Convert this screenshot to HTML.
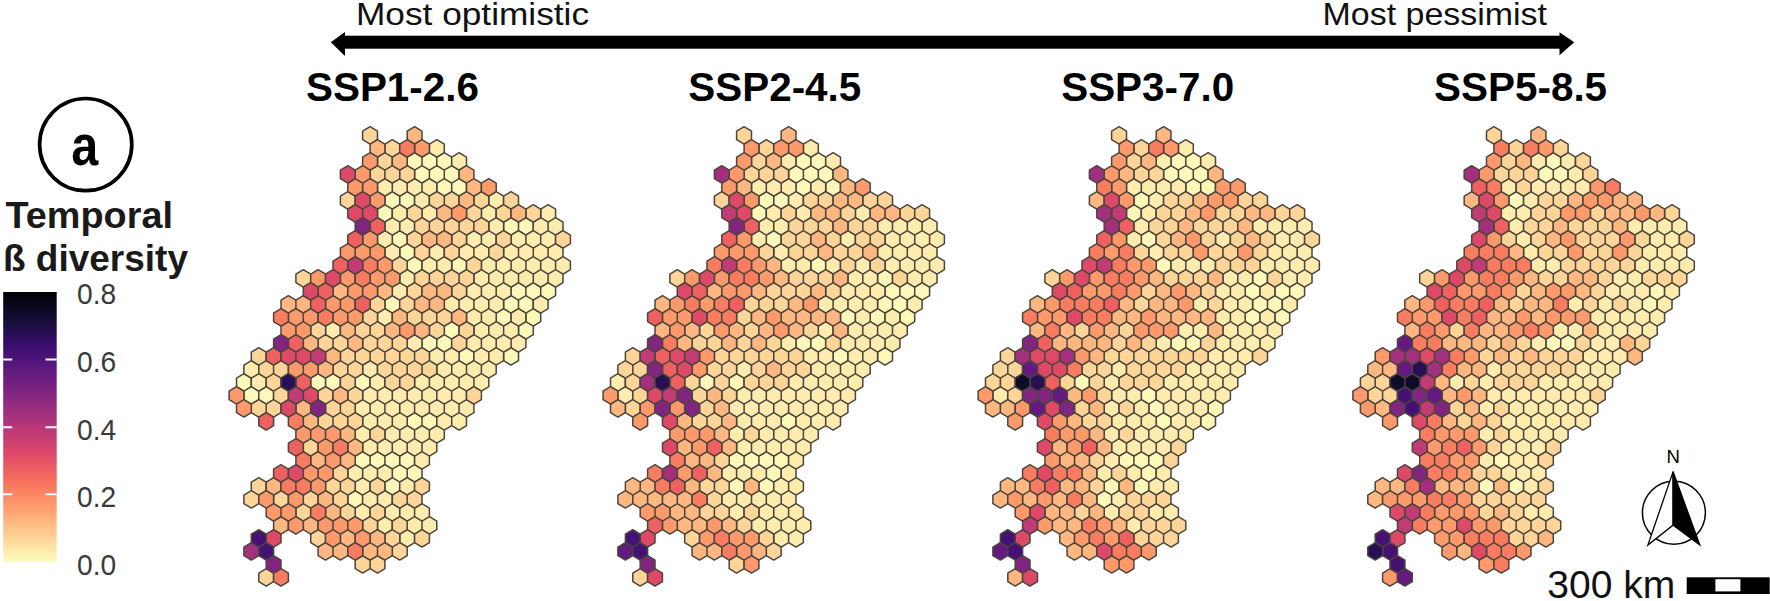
<!DOCTYPE html>
<html><head><meta charset="utf-8"><title>Temporal beta diversity</title>
<style>
html,body{margin:0;padding:0;background:#fff;}
svg{display:block;}
text{font-family:"Liberation Sans",sans-serif;}
</style></head>
<body>
<svg width="1770" height="601" viewBox="0 0 1770 601">
<defs><linearGradient id="mg" x1="0" y1="0" x2="0" y2="1"><stop offset="0%" stop-color="#000004"/><stop offset="5%" stop-color="#0A071D"/><stop offset="10%" stop-color="#140E36"/><stop offset="15%" stop-color="#280E53"/><stop offset="20%" stop-color="#3B0F70"/><stop offset="25%" stop-color="#501478"/><stop offset="30%" stop-color="#641A80"/><stop offset="35%" stop-color="#782280"/><stop offset="40%" stop-color="#8C2981"/><stop offset="45%" stop-color="#A2307D"/><stop offset="50%" stop-color="#B73779"/><stop offset="55%" stop-color="#CA4070"/><stop offset="60%" stop-color="#DE4968"/><stop offset="65%" stop-color="#EA5C62"/><stop offset="70%" stop-color="#F7705C"/><stop offset="75%" stop-color="#FA8864"/><stop offset="80%" stop-color="#FE9F6D"/><stop offset="85%" stop-color="#FEB780"/><stop offset="90%" stop-color="#FECF92"/><stop offset="95%" stop-color="#FDE6A8"/><stop offset="100%" stop-color="#FCFDBF"/></linearGradient></defs>
<rect width="1770" height="601" fill="#fff"/>
<!-- top arrow -->
<rect x="343" y="35.7" width="1218" height="13" fill="#000"/>
<polygon points="330.8,42.2 345,32 345,56" fill="#000"/>
<polygon points="1574.2,42.2 1559.5,32.2 1559.5,55.3" fill="#000"/>
<text x="356" y="25.4" font-size="32" fill="#111" textLength="233" lengthAdjust="spacingAndGlyphs">Most optimistic</text>
<text x="1322.5" y="25.4" font-size="32" fill="#111" textLength="224.5" lengthAdjust="spacingAndGlyphs">Most pessimist</text>
<g font-weight="bold" font-size="41" fill="#000">
<text x="306" y="100.8" textLength="173" lengthAdjust="spacingAndGlyphs">SSP1-2.6</text>
<text x="688.3" y="100.8" textLength="173" lengthAdjust="spacingAndGlyphs">SSP2-4.5</text>
<text x="1061.2" y="100.8" textLength="173" lengthAdjust="spacingAndGlyphs">SSP3-7.0</text>
<text x="1434.1" y="100.8" textLength="173" lengthAdjust="spacingAndGlyphs">SSP5-8.5</text>
</g>
<!-- panel letter -->
<circle cx="85.7" cy="144.6" r="46.1" fill="#fff" stroke="#000" stroke-width="3.7"/>
<text x="71.3" y="165" font-size="57" font-weight="bold" fill="#000" textLength="27" lengthAdjust="spacingAndGlyphs">a</text>
<!-- legend -->
<g font-weight="bold" font-size="36" fill="#1a1a1a">
<text x="5.5" y="228.4" textLength="167.5" lengthAdjust="spacingAndGlyphs">Temporal</text>
<text x="3" y="271.2" textLength="185" lengthAdjust="spacingAndGlyphs">ß diversity</text>
</g>
<rect x="3.2" y="292" width="53.5" height="270" fill="url(#mg)"/>
<g stroke="#fff" stroke-width="2">
<path d="M3.2 359.4h9M45.5 359.4h11.2M3.2 427.3h9M45.5 427.3h11.2M3.2 494.3h9M45.5 494.3h11.2"/>
</g>
<g font-size="30" fill="#3a3a3a">
<text x="77" y="303.9" textLength="39.2" lengthAdjust="spacingAndGlyphs">0.8</text>
<text x="77" y="372.3" textLength="39.2" lengthAdjust="spacingAndGlyphs">0.6</text>
<text x="77" y="440.3" textLength="39.2" lengthAdjust="spacingAndGlyphs">0.4</text>
<text x="77" y="507.3" textLength="39.2" lengthAdjust="spacingAndGlyphs">0.2</text>
<text x="77" y="575.3" textLength="39.2" lengthAdjust="spacingAndGlyphs">0.0</text>
</g>
<!-- maps -->
<g stroke="#4a453d" stroke-width="1.5" stroke-linejoin="round"><path fill="#FCF8BA" d="M414.6 152.7L422.0 157.1L422.0 165.7L414.6 170.1L407.2 165.7L407.2 157.1ZM429.4 152.7L436.8 157.1L436.8 165.7L429.4 170.1L422.0 165.7L422.0 157.1ZM444.3 152.7L451.7 157.1L451.7 165.7L444.3 170.1L436.8 165.7L436.8 157.1ZM422.0 165.7L429.4 170.1L429.4 178.7L422.0 183.1L414.6 178.7L414.6 170.1ZM436.9 165.7L444.3 170.1L444.3 178.7L436.9 183.1L429.4 178.7L429.4 170.1ZM451.7 165.7L459.1 170.1L459.1 178.7L451.7 183.1L444.3 178.7L444.3 170.1ZM444.3 178.7L451.7 183.1L451.7 191.7L444.3 196.1L436.8 191.7L436.8 183.1ZM459.1 178.7L466.5 183.1L466.5 191.7L459.1 196.1L451.7 191.7L451.7 183.1ZM392.3 191.7L399.8 196.1L399.8 204.7L392.3 209.1L384.9 204.7L384.9 196.1ZM407.2 191.7L414.6 196.1L414.6 204.7L407.2 209.1L399.7 204.7L399.7 196.1ZM384.9 204.7L392.3 209.1L392.3 217.7L384.9 222.1L377.5 217.7L377.5 209.1ZM511.0 217.7L518.5 222.1L518.5 230.7L511.0 235.1L503.6 230.7L503.6 222.1ZM525.9 217.7L533.3 222.1L533.3 230.7L525.9 235.1L518.5 230.7L518.5 222.1ZM399.8 230.7L407.2 235.1L407.2 243.7L399.8 248.1L392.3 243.7L392.3 235.1ZM407.2 243.7L414.6 248.1L414.6 256.7L407.2 261.1L399.7 256.7L399.7 248.1ZM414.6 256.7L422.0 261.1L422.0 269.7L414.6 274.1L407.2 269.7L407.2 261.1ZM459.1 256.7L466.5 261.1L466.5 269.7L459.1 274.1L451.7 269.7L451.7 261.1ZM518.5 282.7L525.9 287.1L525.9 295.7L518.5 300.1L511.1 295.7L511.1 287.1ZM533.3 282.7L540.7 287.1L540.7 295.7L533.3 300.1L525.9 295.7L525.9 287.1ZM548.1 282.7L555.6 287.1L555.6 295.7L548.1 300.1L540.7 295.7L540.7 287.1ZM392.3 295.7L399.8 300.1L399.8 308.7L392.3 313.1L384.9 308.7L384.9 300.1ZM511.0 295.7L518.5 300.1L518.5 308.7L511.0 313.1L503.6 308.7L503.6 300.1ZM525.9 295.7L533.3 300.1L533.3 308.7L525.9 313.1L518.5 308.7L518.5 300.1ZM503.6 308.7L511.1 313.1L511.1 321.7L503.6 326.1L496.2 321.7L496.2 313.1ZM533.3 308.7L540.7 313.1L540.7 321.7L533.3 326.1L525.9 321.7L525.9 313.1ZM451.7 321.7L459.1 326.1L459.1 334.7L451.7 339.1L444.3 334.7L444.3 326.1ZM525.9 321.7L533.3 326.1L533.3 334.7L525.9 339.1L518.5 334.7L518.5 326.1ZM429.4 334.7L436.8 339.1L436.8 347.7L429.4 352.1L422.0 347.7L422.0 339.1ZM444.3 334.7L451.7 339.1L451.7 347.7L444.3 352.1L436.8 347.7L436.8 339.1ZM466.5 347.7L473.9 352.1L473.9 360.7L466.5 365.1L459.1 360.7L459.1 352.1ZM511.0 347.7L518.5 352.1L518.5 360.7L511.0 365.1L503.6 360.7L503.6 352.1ZM243.9 373.7L251.3 378.1L251.3 386.7L243.9 391.1L236.5 386.7L236.5 378.1ZM318.1 373.7L325.6 378.1L325.6 386.7L318.1 391.1L310.7 386.7L310.7 378.1ZM333.0 373.7L340.4 378.1L340.4 386.7L333.0 391.1L325.5 386.7L325.5 378.1ZM362.6 373.7L370.1 378.1L370.1 386.7L362.6 391.1L355.2 386.7L355.2 378.1ZM251.3 386.7L258.8 391.1L258.8 399.7L251.3 404.1L243.9 399.7L243.9 391.1ZM266.2 386.7L273.6 391.1L273.6 399.7L266.2 404.1L258.8 399.7L258.8 391.1ZM414.6 412.7L422.0 417.1L422.0 425.7L414.6 430.1L407.2 425.7L407.2 417.1ZM429.4 412.7L436.8 417.1L436.8 425.7L429.4 430.1L422.0 425.7L422.0 417.1ZM362.6 451.7L370.1 456.1L370.1 464.7L362.6 469.1L355.2 464.7L355.2 456.1ZM377.5 451.7L384.9 456.1L384.9 464.7L377.5 469.1L370.1 464.7L370.1 456.1ZM392.3 451.7L399.8 456.1L399.8 464.7L392.3 469.1L384.9 464.7L384.9 456.1ZM407.2 451.7L414.6 456.1L414.6 464.7L407.2 469.1L399.7 464.7L399.7 456.1ZM399.8 464.7L407.2 469.1L407.2 477.7L399.8 482.1L392.3 477.7L392.3 469.1ZM414.6 464.7L422.0 469.1L422.0 477.7L414.6 482.1L407.2 477.7L407.2 469.1ZM392.3 477.7L399.8 482.1L399.8 490.7L392.3 495.1L384.9 490.7L384.9 482.1ZM355.2 490.7L362.7 495.1L362.7 503.7L355.2 508.1L347.8 503.7L347.8 495.1Z"/>
<path fill="#FDECAE" d="M436.9 139.7L444.3 144.1L444.3 152.7L436.9 157.1L429.4 152.7L429.4 144.1ZM459.1 152.7L466.5 157.1L466.5 165.7L459.1 170.1L451.7 165.7L451.7 157.1ZM384.9 178.7L392.3 183.1L392.3 191.7L384.9 196.1L377.5 191.7L377.5 183.1ZM399.8 178.7L407.2 183.1L407.2 191.7L399.8 196.1L392.3 191.7L392.3 183.1ZM414.6 178.7L422.0 183.1L422.0 191.7L414.6 196.1L407.2 191.7L407.2 183.1ZM429.4 178.7L436.8 183.1L436.8 191.7L429.4 196.1L422.0 191.7L422.0 183.1ZM422.0 191.7L429.4 196.1L429.4 204.7L422.0 209.1L414.6 204.7L414.6 196.1ZM496.2 191.7L503.6 196.1L503.6 204.7L496.2 209.1L488.8 204.7L488.8 196.1ZM399.8 204.7L407.2 209.1L407.2 217.7L399.8 222.1L392.3 217.7L392.3 209.1ZM429.4 204.7L436.8 209.1L436.8 217.7L429.4 222.1L422.0 217.7L422.0 209.1ZM488.8 204.7L496.2 209.1L496.2 217.7L488.8 222.1L481.4 217.7L481.4 209.1ZM548.1 204.7L555.6 209.1L555.6 217.7L548.1 222.1L540.7 217.7L540.7 209.1ZM392.3 217.7L399.8 222.1L399.8 230.7L392.3 235.1L384.9 230.7L384.9 222.1ZM407.2 217.7L414.6 222.1L414.6 230.7L407.2 235.1L399.7 230.7L399.7 222.1ZM496.2 217.7L503.6 222.1L503.6 230.7L496.2 235.1L488.8 230.7L488.8 222.1ZM540.7 217.7L548.1 222.1L548.1 230.7L540.7 235.1L533.3 230.7L533.3 222.1ZM555.6 217.7L563.0 222.1L563.0 230.7L555.6 235.1L548.1 230.7L548.1 222.1ZM384.9 230.7L392.3 235.1L392.3 243.7L384.9 248.1L377.5 243.7L377.5 235.1ZM473.9 230.7L481.4 235.1L481.4 243.7L473.9 248.1L466.5 243.7L466.5 235.1ZM488.8 230.7L496.2 235.1L496.2 243.7L488.8 248.1L481.4 243.7L481.4 235.1ZM518.5 230.7L525.9 235.1L525.9 243.7L518.5 248.1L511.1 243.7L511.1 235.1ZM533.3 230.7L540.7 235.1L540.7 243.7L533.3 248.1L525.9 243.7L525.9 235.1ZM548.1 230.7L555.6 235.1L555.6 243.7L548.1 248.1L540.7 243.7L540.7 235.1ZM392.3 243.7L399.8 248.1L399.8 256.7L392.3 261.1L384.9 256.7L384.9 248.1ZM436.9 243.7L444.3 248.1L444.3 256.7L436.9 261.1L429.4 256.7L429.4 248.1ZM466.5 243.7L473.9 248.1L473.9 256.7L466.5 261.1L459.1 256.7L459.1 248.1ZM481.4 243.7L488.8 248.1L488.8 256.7L481.4 261.1L473.9 256.7L473.9 248.1ZM511.0 243.7L518.5 248.1L518.5 256.7L511.0 261.1L503.6 256.7L503.6 248.1ZM525.9 243.7L533.3 248.1L533.3 256.7L525.9 261.1L518.5 256.7L518.5 248.1ZM540.7 243.7L548.1 248.1L548.1 256.7L540.7 261.1L533.3 256.7L533.3 248.1ZM555.6 243.7L563.0 248.1L563.0 256.7L555.6 261.1L548.1 256.7L548.1 248.1ZM429.4 256.7L436.8 261.1L436.8 269.7L429.4 274.1L422.0 269.7L422.0 261.1ZM444.3 256.7L451.7 261.1L451.7 269.7L444.3 274.1L436.8 269.7L436.8 261.1ZM488.8 256.7L496.2 261.1L496.2 269.7L488.8 274.1L481.4 269.7L481.4 261.1ZM503.6 256.7L511.1 261.1L511.1 269.7L503.6 274.1L496.2 269.7L496.2 261.1ZM518.5 256.7L525.9 261.1L525.9 269.7L518.5 274.1L511.1 269.7L511.1 261.1ZM533.3 256.7L540.7 261.1L540.7 269.7L533.3 274.1L525.9 269.7L525.9 261.1ZM548.1 256.7L555.6 261.1L555.6 269.7L548.1 274.1L540.7 269.7L540.7 261.1ZM563.0 256.7L570.4 261.1L570.4 269.7L563.0 274.1L555.6 269.7L555.6 261.1ZM407.2 269.7L414.6 274.1L414.6 282.7L407.2 287.1L399.7 282.7L399.7 274.1ZM481.4 269.7L488.8 274.1L488.8 282.7L481.4 287.1L473.9 282.7L473.9 274.1ZM496.2 269.7L503.6 274.1L503.6 282.7L496.2 287.1L488.8 282.7L488.8 274.1ZM511.0 269.7L518.5 274.1L518.5 282.7L511.0 287.1L503.6 282.7L503.6 274.1ZM525.9 269.7L533.3 274.1L533.3 282.7L525.9 287.1L518.5 282.7L518.5 274.1ZM540.7 269.7L548.1 274.1L548.1 282.7L540.7 287.1L533.3 282.7L533.3 274.1ZM555.6 269.7L563.0 274.1L563.0 282.7L555.6 287.1L548.1 282.7L548.1 274.1ZM399.8 282.7L407.2 287.1L407.2 295.7L399.8 300.1L392.3 295.7L392.3 287.1ZM473.9 282.7L481.4 287.1L481.4 295.7L473.9 300.1L466.5 295.7L466.5 287.1ZM488.8 282.7L496.2 287.1L496.2 295.7L488.8 300.1L481.4 295.7L481.4 287.1ZM503.6 282.7L511.1 287.1L511.1 295.7L503.6 300.1L496.2 295.7L496.2 287.1ZM451.7 295.7L459.1 300.1L459.1 308.7L451.7 313.1L444.3 308.7L444.3 300.1ZM466.5 295.7L473.9 300.1L473.9 308.7L466.5 313.1L459.1 308.7L459.1 300.1ZM481.4 295.7L488.8 300.1L488.8 308.7L481.4 313.1L473.9 308.7L473.9 300.1ZM496.2 295.7L503.6 300.1L503.6 308.7L496.2 313.1L488.8 308.7L488.8 300.1ZM540.7 295.7L548.1 300.1L548.1 308.7L540.7 313.1L533.3 308.7L533.3 300.1ZM384.9 308.7L392.3 313.1L392.3 321.7L384.9 326.1L377.5 321.7L377.5 313.1ZM473.9 308.7L481.4 313.1L481.4 321.7L473.9 326.1L466.5 321.7L466.5 313.1ZM488.8 308.7L496.2 313.1L496.2 321.7L488.8 326.1L481.4 321.7L481.4 313.1ZM518.5 308.7L525.9 313.1L525.9 321.7L518.5 326.1L511.1 321.7L511.1 313.1ZM333.0 321.7L340.4 326.1L340.4 334.7L333.0 339.1L325.5 334.7L325.5 326.1ZM481.4 321.7L488.8 326.1L488.8 334.7L481.4 339.1L473.9 334.7L473.9 326.1ZM496.2 321.7L503.6 326.1L503.6 334.7L496.2 339.1L488.8 334.7L488.8 326.1ZM511.0 321.7L518.5 326.1L518.5 334.7L511.0 339.1L503.6 334.7L503.6 326.1ZM414.6 334.7L422.0 339.1L422.0 347.7L414.6 352.1L407.2 347.7L407.2 339.1ZM473.9 334.7L481.4 339.1L481.4 347.7L473.9 352.1L466.5 347.7L466.5 339.1ZM488.8 334.7L496.2 339.1L496.2 347.7L488.8 352.1L481.4 347.7L481.4 339.1ZM503.6 334.7L511.1 339.1L511.1 347.7L503.6 352.1L496.2 347.7L496.2 339.1ZM518.5 334.7L525.9 339.1L525.9 347.7L518.5 352.1L511.1 347.7L511.1 339.1ZM436.9 347.7L444.3 352.1L444.3 360.7L436.9 365.1L429.4 360.7L429.4 352.1ZM451.7 347.7L459.1 352.1L459.1 360.7L451.7 365.1L444.3 360.7L444.3 352.1ZM481.4 347.7L488.8 352.1L488.8 360.7L481.4 365.1L473.9 360.7L473.9 352.1ZM496.2 347.7L503.6 352.1L503.6 360.7L496.2 365.1L488.8 360.7L488.8 352.1ZM251.3 360.7L258.8 365.1L258.8 373.7L251.3 378.1L243.9 373.7L243.9 365.1ZM370.1 360.7L377.5 365.1L377.5 373.7L370.1 378.1L362.6 373.7L362.6 365.1ZM444.3 360.7L451.7 365.1L451.7 373.7L444.3 378.1L436.8 373.7L436.8 365.1ZM459.1 360.7L466.5 365.1L466.5 373.7L459.1 378.1L451.7 373.7L451.7 365.1ZM473.9 360.7L481.4 365.1L481.4 373.7L473.9 378.1L466.5 373.7L466.5 365.1ZM488.8 360.7L496.2 365.1L496.2 373.7L488.8 378.1L481.4 373.7L481.4 365.1ZM258.8 373.7L266.2 378.1L266.2 386.7L258.8 391.1L251.3 386.7L251.3 378.1ZM377.5 373.7L384.9 378.1L384.9 386.7L377.5 391.1L370.1 386.7L370.1 378.1ZM422.0 373.7L429.4 378.1L429.4 386.7L422.0 391.1L414.6 386.7L414.6 378.1ZM436.9 373.7L444.3 378.1L444.3 386.7L436.9 391.1L429.4 386.7L429.4 378.1ZM451.7 373.7L459.1 378.1L459.1 386.7L451.7 391.1L444.3 386.7L444.3 378.1ZM466.5 373.7L473.9 378.1L473.9 386.7L466.5 391.1L459.1 386.7L459.1 378.1ZM481.4 373.7L488.8 378.1L488.8 386.7L481.4 391.1L473.9 386.7L473.9 378.1ZM370.1 386.7L377.5 391.1L377.5 399.7L370.1 404.1L362.6 399.7L362.6 391.1ZM384.9 386.7L392.3 391.1L392.3 399.7L384.9 404.1L377.5 399.7L377.5 391.1ZM399.8 386.7L407.2 391.1L407.2 399.7L399.8 404.1L392.3 399.7L392.3 391.1ZM414.6 386.7L422.0 391.1L422.0 399.7L414.6 404.1L407.2 399.7L407.2 391.1ZM429.4 386.7L436.8 391.1L436.8 399.7L429.4 404.1L422.0 399.7L422.0 391.1ZM444.3 386.7L451.7 391.1L451.7 399.7L444.3 404.1L436.8 399.7L436.8 391.1ZM459.1 386.7L466.5 391.1L466.5 399.7L459.1 404.1L451.7 399.7L451.7 391.1ZM362.6 399.7L370.1 404.1L370.1 412.7L362.6 417.1L355.2 412.7L355.2 404.1ZM377.5 399.7L384.9 404.1L384.9 412.7L377.5 417.1L370.1 412.7L370.1 404.1ZM392.3 399.7L399.8 404.1L399.8 412.7L392.3 417.1L384.9 412.7L384.9 404.1ZM407.2 399.7L414.6 404.1L414.6 412.7L407.2 417.1L399.7 412.7L399.7 404.1ZM422.0 399.7L429.4 404.1L429.4 412.7L422.0 417.1L414.6 412.7L414.6 404.1ZM436.9 399.7L444.3 404.1L444.3 412.7L436.9 417.1L429.4 412.7L429.4 404.1ZM451.7 399.7L459.1 404.1L459.1 412.7L451.7 417.1L444.3 412.7L444.3 404.1ZM466.5 399.7L473.9 404.1L473.9 412.7L466.5 417.1L459.1 412.7L459.1 404.1ZM370.1 412.7L377.5 417.1L377.5 425.7L370.1 430.1L362.6 425.7L362.6 417.1ZM384.9 412.7L392.3 417.1L392.3 425.7L384.9 430.1L377.5 425.7L377.5 417.1ZM399.8 412.7L407.2 417.1L407.2 425.7L399.8 430.1L392.3 425.7L392.3 417.1ZM444.3 412.7L451.7 417.1L451.7 425.7L444.3 430.1L436.8 425.7L436.8 417.1ZM459.1 412.7L466.5 417.1L466.5 425.7L459.1 430.1L451.7 425.7L451.7 417.1ZM362.6 425.7L370.1 430.1L370.1 438.7L362.6 443.1L355.2 438.7L355.2 430.1ZM392.3 425.7L399.8 430.1L399.8 438.7L392.3 443.1L384.9 438.7L384.9 430.1ZM407.2 425.7L414.6 430.1L414.6 438.7L407.2 443.1L399.7 438.7L399.7 430.1ZM422.0 425.7L429.4 430.1L429.4 438.7L422.0 443.1L414.6 438.7L414.6 430.1ZM436.9 425.7L444.3 430.1L444.3 438.7L436.9 443.1L429.4 438.7L429.4 430.1ZM370.1 438.7L377.5 443.1L377.5 451.7L370.1 456.1L362.6 451.7L362.6 443.1ZM384.9 438.7L392.3 443.1L392.3 451.7L384.9 456.1L377.5 451.7L377.5 443.1ZM399.8 438.7L407.2 443.1L407.2 451.7L399.8 456.1L392.3 451.7L392.3 443.1ZM414.6 438.7L422.0 443.1L422.0 451.7L414.6 456.1L407.2 451.7L407.2 443.1ZM429.4 438.7L436.8 443.1L436.8 451.7L429.4 456.1L422.0 451.7L422.0 443.1ZM422.0 451.7L429.4 456.1L429.4 464.7L422.0 469.1L414.6 464.7L414.6 456.1ZM355.2 464.7L362.7 469.1L362.7 477.7L355.2 482.1L347.8 477.7L347.8 469.1ZM370.1 464.7L377.5 469.1L377.5 477.7L370.1 482.1L362.6 477.7L362.6 469.1ZM384.9 464.7L392.3 469.1L392.3 477.7L384.9 482.1L377.5 477.7L377.5 469.1ZM362.6 477.7L370.1 482.1L370.1 490.7L362.6 495.1L355.2 490.7L355.2 482.1ZM407.2 477.7L414.6 482.1L414.6 490.7L407.2 495.1L399.7 490.7L399.7 482.1ZM370.1 490.7L377.5 495.1L377.5 503.7L370.1 508.1L362.6 503.7L362.6 495.1ZM384.9 490.7L392.3 495.1L392.3 503.7L384.9 508.1L377.5 503.7L377.5 495.1ZM362.6 503.7L370.1 508.1L370.1 516.7L362.6 521.1L355.2 516.7L355.2 508.1ZM392.3 503.7L399.8 508.1L399.8 516.7L392.3 521.1L384.9 516.7L384.9 508.1ZM407.2 503.7L414.6 508.1L414.6 516.7L407.2 521.1L399.7 516.7L399.7 508.1ZM422.0 503.7L429.4 508.1L429.4 516.7L422.0 521.1L414.6 516.7L414.6 508.1ZM384.9 516.7L392.3 521.1L392.3 529.7L384.9 534.1L377.5 529.7L377.5 521.1ZM414.6 516.7L422.0 521.1L422.0 529.7L414.6 534.1L407.2 529.7L407.2 521.1ZM429.4 516.7L436.8 521.1L436.8 529.7L429.4 534.1L422.0 529.7L422.0 521.1ZM407.2 529.7L414.6 534.1L414.6 542.7L407.2 547.1L399.7 542.7L399.7 534.1Z"/>
<path fill="#FED598" d="M370.1 126.7L377.5 131.1L377.5 139.7L370.1 144.1L362.6 139.7L362.6 131.1ZM392.3 139.7L399.8 144.1L399.8 152.7L392.3 157.1L384.9 152.7L384.9 144.1ZM384.9 152.7L392.3 157.1L392.3 165.7L384.9 170.1L377.5 165.7L377.5 157.1ZM377.5 165.7L384.9 170.1L384.9 178.7L377.5 183.1L370.1 178.7L370.1 170.1ZM392.3 165.7L399.8 170.1L399.8 178.7L392.3 183.1L384.9 178.7L384.9 170.1ZM407.2 165.7L414.6 170.1L414.6 178.7L407.2 183.1L399.7 178.7L399.7 170.1ZM347.8 191.7L355.2 196.1L355.2 204.7L347.8 209.1L340.4 204.7L340.4 196.1ZM436.9 191.7L444.3 196.1L444.3 204.7L436.9 209.1L429.4 204.7L429.4 196.1ZM451.7 191.7L459.1 196.1L459.1 204.7L451.7 209.1L444.3 204.7L444.3 196.1ZM481.4 191.7L488.8 196.1L488.8 204.7L481.4 209.1L473.9 204.7L473.9 196.1ZM511.0 191.7L518.5 196.1L518.5 204.7L511.0 209.1L503.6 204.7L503.6 196.1ZM414.6 204.7L422.0 209.1L422.0 217.7L414.6 222.1L407.2 217.7L407.2 209.1ZM473.9 204.7L481.4 209.1L481.4 217.7L473.9 222.1L466.5 217.7L466.5 209.1ZM503.6 204.7L511.1 209.1L511.1 217.7L503.6 222.1L496.2 217.7L496.2 209.1ZM533.3 204.7L540.7 209.1L540.7 217.7L533.3 222.1L525.9 217.7L525.9 209.1ZM422.0 217.7L429.4 222.1L429.4 230.7L422.0 235.1L414.6 230.7L414.6 222.1ZM436.9 217.7L444.3 222.1L444.3 230.7L436.9 235.1L429.4 230.7L429.4 222.1ZM451.7 217.7L459.1 222.1L459.1 230.7L451.7 235.1L444.3 230.7L444.3 222.1ZM466.5 217.7L473.9 222.1L473.9 230.7L466.5 235.1L459.1 230.7L459.1 222.1ZM481.4 217.7L488.8 222.1L488.8 230.7L481.4 235.1L473.9 230.7L473.9 222.1ZM414.6 230.7L422.0 235.1L422.0 243.7L414.6 248.1L407.2 243.7L407.2 235.1ZM459.1 230.7L466.5 235.1L466.5 243.7L459.1 248.1L451.7 243.7L451.7 235.1ZM503.6 230.7L511.1 235.1L511.1 243.7L503.6 248.1L496.2 243.7L496.2 235.1ZM563.0 230.7L570.4 235.1L570.4 243.7L563.0 248.1L555.6 243.7L555.6 235.1ZM422.0 243.7L429.4 248.1L429.4 256.7L422.0 261.1L414.6 256.7L414.6 248.1ZM451.7 243.7L459.1 248.1L459.1 256.7L451.7 261.1L444.3 256.7L444.3 248.1ZM496.2 243.7L503.6 248.1L503.6 256.7L496.2 261.1L488.8 256.7L488.8 248.1ZM399.8 256.7L407.2 261.1L407.2 269.7L399.8 274.1L392.3 269.7L392.3 261.1ZM473.9 256.7L481.4 261.1L481.4 269.7L473.9 274.1L466.5 269.7L466.5 261.1ZM303.3 269.7L310.7 274.1L310.7 282.7L303.3 287.1L295.9 282.7L295.9 274.1ZM422.0 269.7L429.4 274.1L429.4 282.7L422.0 287.1L414.6 282.7L414.6 274.1ZM436.9 269.7L444.3 274.1L444.3 282.7L436.9 287.1L429.4 282.7L429.4 274.1ZM451.7 269.7L459.1 274.1L459.1 282.7L451.7 287.1L444.3 282.7L444.3 274.1ZM466.5 269.7L473.9 274.1L473.9 282.7L466.5 287.1L459.1 282.7L459.1 274.1ZM414.6 282.7L422.0 287.1L422.0 295.7L414.6 300.1L407.2 295.7L407.2 287.1ZM459.1 282.7L466.5 287.1L466.5 295.7L459.1 300.1L451.7 295.7L451.7 287.1ZM377.5 295.7L384.9 300.1L384.9 308.7L377.5 313.1L370.1 308.7L370.1 300.1ZM407.2 295.7L414.6 300.1L414.6 308.7L407.2 313.1L399.7 308.7L399.7 300.1ZM370.1 308.7L377.5 313.1L377.5 321.7L370.1 326.1L362.6 321.7L362.6 313.1ZM414.6 308.7L422.0 313.1L422.0 321.7L414.6 326.1L407.2 321.7L407.2 313.1ZM429.4 308.7L436.8 313.1L436.8 321.7L429.4 326.1L422.0 321.7L422.0 313.1ZM444.3 308.7L451.7 313.1L451.7 321.7L444.3 326.1L436.8 321.7L436.8 313.1ZM318.1 321.7L325.6 326.1L325.6 334.7L318.1 339.1L310.7 334.7L310.7 326.1ZM362.6 321.7L370.1 326.1L370.1 334.7L362.6 339.1L355.2 334.7L355.2 326.1ZM377.5 321.7L384.9 326.1L384.9 334.7L377.5 339.1L370.1 334.7L370.1 326.1ZM436.9 321.7L444.3 326.1L444.3 334.7L436.9 339.1L429.4 334.7L429.4 326.1ZM466.5 321.7L473.9 326.1L473.9 334.7L466.5 339.1L459.1 334.7L459.1 326.1ZM325.5 334.7L333.0 339.1L333.0 347.7L325.5 352.1L318.1 347.7L318.1 339.1ZM340.4 334.7L347.8 339.1L347.8 347.7L340.4 352.1L333.0 347.7L333.0 339.1ZM370.1 334.7L377.5 339.1L377.5 347.7L370.1 352.1L362.6 347.7L362.6 339.1ZM384.9 334.7L392.3 339.1L392.3 347.7L384.9 352.1L377.5 347.7L377.5 339.1ZM399.8 334.7L407.2 339.1L407.2 347.7L399.8 352.1L392.3 347.7L392.3 339.1ZM459.1 334.7L466.5 339.1L466.5 347.7L459.1 352.1L451.7 347.7L451.7 339.1ZM258.8 347.7L266.2 352.1L266.2 360.7L258.8 365.1L251.3 360.7L251.3 352.1ZM347.8 347.7L355.2 352.1L355.2 360.7L347.8 365.1L340.4 360.7L340.4 352.1ZM362.6 347.7L370.1 352.1L370.1 360.7L362.6 365.1L355.2 360.7L355.2 352.1ZM377.5 347.7L384.9 352.1L384.9 360.7L377.5 365.1L370.1 360.7L370.1 352.1ZM392.3 347.7L399.8 352.1L399.8 360.7L392.3 365.1L384.9 360.7L384.9 352.1ZM407.2 347.7L414.6 352.1L414.6 360.7L407.2 365.1L399.7 360.7L399.7 352.1ZM422.0 347.7L429.4 352.1L429.4 360.7L422.0 365.1L414.6 360.7L414.6 352.1ZM266.2 360.7L273.6 365.1L273.6 373.7L266.2 378.1L258.8 373.7L258.8 365.1ZM281.0 360.7L288.4 365.1L288.4 373.7L281.0 378.1L273.6 373.7L273.6 365.1ZM340.4 360.7L347.8 365.1L347.8 373.7L340.4 378.1L333.0 373.7L333.0 365.1ZM355.2 360.7L362.7 365.1L362.7 373.7L355.2 378.1L347.8 373.7L347.8 365.1ZM384.9 360.7L392.3 365.1L392.3 373.7L384.9 378.1L377.5 373.7L377.5 365.1ZM399.8 360.7L407.2 365.1L407.2 373.7L399.8 378.1L392.3 373.7L392.3 365.1ZM414.6 360.7L422.0 365.1L422.0 373.7L414.6 378.1L407.2 373.7L407.2 365.1ZM429.4 360.7L436.8 365.1L436.8 373.7L429.4 378.1L422.0 373.7L422.0 365.1ZM273.6 373.7L281.0 378.1L281.0 386.7L273.6 391.1L266.2 386.7L266.2 378.1ZM347.8 373.7L355.2 378.1L355.2 386.7L347.8 391.1L340.4 386.7L340.4 378.1ZM392.3 373.7L399.8 378.1L399.8 386.7L392.3 391.1L384.9 386.7L384.9 378.1ZM407.2 373.7L414.6 378.1L414.6 386.7L407.2 391.1L399.7 386.7L399.7 378.1ZM281.0 386.7L288.4 391.1L288.4 399.7L281.0 404.1L273.6 399.7L273.6 391.1ZM325.5 386.7L333.0 391.1L333.0 399.7L325.5 404.1L318.1 399.7L318.1 391.1ZM355.2 386.7L362.7 391.1L362.7 399.7L355.2 404.1L347.8 399.7L347.8 391.1ZM473.9 386.7L481.4 391.1L481.4 399.7L473.9 404.1L466.5 399.7L466.5 391.1ZM258.8 399.7L266.2 404.1L266.2 412.7L258.8 417.1L251.3 412.7L251.3 404.1ZM273.6 399.7L281.0 404.1L281.0 412.7L273.6 417.1L266.2 412.7L266.2 404.1ZM333.0 399.7L340.4 404.1L340.4 412.7L333.0 417.1L325.5 412.7L325.5 404.1ZM347.8 399.7L355.2 404.1L355.2 412.7L347.8 417.1L340.4 412.7L340.4 404.1ZM325.5 412.7L333.0 417.1L333.0 425.7L325.5 430.1L318.1 425.7L318.1 417.1ZM340.4 412.7L347.8 417.1L347.8 425.7L340.4 430.1L333.0 425.7L333.0 417.1ZM355.2 412.7L362.7 417.1L362.7 425.7L355.2 430.1L347.8 425.7L347.8 417.1ZM377.5 425.7L384.9 430.1L384.9 438.7L377.5 443.1L370.1 438.7L370.1 430.1ZM310.7 438.7L318.1 443.1L318.1 451.7L310.7 456.1L303.3 451.7L303.3 443.1ZM340.4 464.7L347.8 469.1L347.8 477.7L340.4 482.1L333.0 477.7L333.0 469.1ZM258.8 477.7L266.2 482.1L266.2 490.7L258.8 495.1L251.3 490.7L251.3 482.1ZM333.0 477.7L340.4 482.1L340.4 490.7L333.0 495.1L325.5 490.7L325.5 482.1ZM347.8 477.7L355.2 482.1L355.2 490.7L347.8 495.1L340.4 490.7L340.4 482.1ZM377.5 477.7L384.9 482.1L384.9 490.7L377.5 495.1L370.1 490.7L370.1 482.1ZM422.0 477.7L429.4 482.1L429.4 490.7L422.0 495.1L414.6 490.7L414.6 482.1ZM251.3 490.7L258.8 495.1L258.8 503.7L251.3 508.1L243.9 503.7L243.9 495.1ZM281.0 490.7L288.4 495.1L288.4 503.7L281.0 508.1L273.6 503.7L273.6 495.1ZM310.7 490.7L318.1 495.1L318.1 503.7L310.7 508.1L303.3 503.7L303.3 495.1ZM340.4 490.7L347.8 495.1L347.8 503.7L340.4 508.1L333.0 503.7L333.0 495.1ZM399.8 490.7L407.2 495.1L407.2 503.7L399.8 508.1L392.3 503.7L392.3 495.1ZM414.6 490.7L422.0 495.1L422.0 503.7L414.6 508.1L407.2 503.7L407.2 495.1ZM303.3 503.7L310.7 508.1L310.7 516.7L303.3 521.1L295.9 516.7L295.9 508.1ZM347.8 503.7L355.2 508.1L355.2 516.7L347.8 521.1L340.4 516.7L340.4 508.1ZM377.5 503.7L384.9 508.1L384.9 516.7L377.5 521.1L370.1 516.7L370.1 508.1ZM370.1 516.7L377.5 521.1L377.5 529.7L370.1 534.1L362.6 529.7L362.6 521.1ZM399.8 516.7L407.2 521.1L407.2 529.7L399.8 534.1L392.3 529.7L392.3 521.1ZM318.1 529.7L325.6 534.1L325.6 542.7L318.1 547.1L310.7 542.7L310.7 534.1ZM392.3 529.7L399.8 534.1L399.8 542.7L392.3 547.1L384.9 542.7L384.9 534.1ZM422.0 529.7L429.4 534.1L429.4 542.7L422.0 547.1L414.6 542.7L414.6 534.1ZM399.8 542.7L407.2 547.1L407.2 555.7L399.8 560.1L392.3 555.7L392.3 547.1ZM362.6 555.7L370.1 560.1L370.1 568.7L362.6 573.1L355.2 568.7L355.2 560.1ZM377.5 555.7L384.9 560.1L384.9 568.7L377.5 573.1L370.1 568.7L370.1 560.1ZM266.2 568.7L273.6 573.1L273.6 581.7L266.2 586.1L258.8 581.7L258.8 573.1Z"/>
<path fill="#FEB780" d="M414.6 126.7L422.0 131.1L422.0 139.7L414.6 144.1L407.2 139.7L407.2 131.1ZM377.5 139.7L384.9 144.1L384.9 152.7L377.5 157.1L370.1 152.7L370.1 144.1ZM399.8 152.7L407.2 157.1L407.2 165.7L399.8 170.1L392.3 165.7L392.3 157.1ZM466.5 165.7L473.9 170.1L473.9 178.7L466.5 183.1L459.1 178.7L459.1 170.1ZM473.9 178.7L481.4 183.1L481.4 191.7L473.9 196.1L466.5 191.7L466.5 183.1ZM466.5 191.7L473.9 196.1L473.9 204.7L466.5 209.1L459.1 204.7L459.1 196.1ZM444.3 204.7L451.7 209.1L451.7 217.7L444.3 222.1L436.8 217.7L436.8 209.1ZM518.5 204.7L525.9 209.1L525.9 217.7L518.5 222.1L511.1 217.7L511.1 209.1ZM429.4 230.7L436.8 235.1L436.8 243.7L429.4 248.1L422.0 243.7L422.0 235.1ZM444.3 230.7L451.7 235.1L451.7 243.7L444.3 248.1L436.8 243.7L436.8 235.1ZM340.4 282.7L347.8 287.1L347.8 295.7L340.4 300.1L333.0 295.7L333.0 287.1ZM384.9 282.7L392.3 287.1L392.3 295.7L384.9 300.1L377.5 295.7L377.5 287.1ZM429.4 282.7L436.8 287.1L436.8 295.7L429.4 300.1L422.0 295.7L422.0 287.1ZM444.3 282.7L451.7 287.1L451.7 295.7L444.3 300.1L436.8 295.7L436.8 287.1ZM288.4 295.7L295.9 300.1L295.9 308.7L288.4 313.1L281.0 308.7L281.0 300.1ZM303.3 295.7L310.7 300.1L310.7 308.7L303.3 313.1L295.9 308.7L295.9 300.1ZM422.0 295.7L429.4 300.1L429.4 308.7L422.0 313.1L414.6 308.7L414.6 300.1ZM436.9 295.7L444.3 300.1L444.3 308.7L436.9 313.1L429.4 308.7L429.4 300.1ZM399.8 308.7L407.2 313.1L407.2 321.7L399.8 326.1L392.3 321.7L392.3 313.1ZM459.1 308.7L466.5 313.1L466.5 321.7L459.1 326.1L451.7 321.7L451.7 313.1ZM347.8 321.7L355.2 326.1L355.2 334.7L347.8 339.1L340.4 334.7L340.4 326.1ZM392.3 321.7L399.8 326.1L399.8 334.7L392.3 339.1L384.9 334.7L384.9 326.1ZM422.0 321.7L429.4 326.1L429.4 334.7L422.0 339.1L414.6 334.7L414.6 326.1ZM310.7 334.7L318.1 339.1L318.1 347.7L310.7 352.1L303.3 347.7L303.3 339.1ZM355.2 334.7L362.7 339.1L362.7 347.7L355.2 352.1L347.8 347.7L347.8 339.1ZM333.0 347.7L340.4 352.1L340.4 360.7L333.0 365.1L325.5 360.7L325.5 352.1ZM325.5 360.7L333.0 365.1L333.0 373.7L325.5 378.1L318.1 373.7L318.1 365.1ZM340.4 386.7L347.8 391.1L347.8 399.7L340.4 404.1L333.0 399.7L333.0 391.1ZM303.3 399.7L310.7 404.1L310.7 412.7L303.3 417.1L295.9 412.7L295.9 404.1ZM310.7 412.7L318.1 417.1L318.1 425.7L310.7 430.1L303.3 425.7L303.3 417.1ZM347.8 425.7L355.2 430.1L355.2 438.7L347.8 443.1L340.4 438.7L340.4 430.1ZM355.2 438.7L362.7 443.1L362.7 451.7L355.2 456.1L347.8 451.7L347.8 443.1ZM318.1 451.7L325.6 456.1L325.6 464.7L318.1 469.1L310.7 464.7L310.7 456.1ZM347.8 451.7L355.2 456.1L355.2 464.7L347.8 469.1L340.4 464.7L340.4 456.1ZM273.6 477.7L281.0 482.1L281.0 490.7L273.6 495.1L266.2 490.7L266.2 482.1ZM325.5 490.7L333.0 495.1L333.0 503.7L325.5 508.1L318.1 503.7L318.1 495.1ZM333.0 503.7L340.4 508.1L340.4 516.7L333.0 521.1L325.5 516.7L325.5 508.1ZM281.0 516.7L288.4 521.1L288.4 529.7L281.0 534.1L273.6 529.7L273.6 521.1ZM310.7 516.7L318.1 521.1L318.1 529.7L310.7 534.1L303.3 529.7L303.3 521.1ZM347.8 529.7L355.2 534.1L355.2 542.7L347.8 547.1L340.4 542.7L340.4 534.1ZM377.5 529.7L384.9 534.1L384.9 542.7L377.5 547.1L370.1 542.7L370.1 534.1ZM325.5 542.7L333.0 547.1L333.0 555.7L325.5 560.1L318.1 555.7L318.1 547.1ZM340.4 542.7L347.8 547.1L347.8 555.7L340.4 560.1L333.0 555.7L333.0 547.1ZM370.1 542.7L377.5 547.1L377.5 555.7L370.1 560.1L362.6 555.7L362.6 547.1ZM384.9 542.7L392.3 547.1L392.3 555.7L384.9 560.1L377.5 555.7L377.5 547.1Z"/>
<path fill="#FD996B" d="M422.0 139.7L429.4 144.1L429.4 152.7L422.0 157.1L414.6 152.7L414.6 144.1ZM370.1 152.7L377.5 157.1L377.5 165.7L370.1 170.1L362.6 165.7L362.6 157.1ZM362.6 165.7L370.1 170.1L370.1 178.7L362.6 183.1L355.2 178.7L355.2 170.1ZM355.2 178.7L362.7 183.1L362.7 191.7L355.2 196.1L347.8 191.7L347.8 183.1ZM370.1 178.7L377.5 183.1L377.5 191.7L370.1 196.1L362.6 191.7L362.6 183.1ZM488.8 178.7L496.2 183.1L496.2 191.7L488.8 196.1L481.4 191.7L481.4 183.1ZM377.5 191.7L384.9 196.1L384.9 204.7L377.5 209.1L370.1 204.7L370.1 196.1ZM459.1 204.7L466.5 209.1L466.5 217.7L459.1 222.1L451.7 217.7L451.7 209.1ZM370.1 230.7L377.5 235.1L377.5 243.7L370.1 248.1L362.6 243.7L362.6 235.1ZM347.8 243.7L355.2 248.1L355.2 256.7L347.8 261.1L340.4 256.7L340.4 248.1ZM362.6 243.7L370.1 248.1L370.1 256.7L362.6 261.1L355.2 256.7L355.2 248.1ZM377.5 243.7L384.9 248.1L384.9 256.7L377.5 261.1L370.1 256.7L370.1 248.1ZM384.9 256.7L392.3 261.1L392.3 269.7L384.9 274.1L377.5 269.7L377.5 261.1ZM318.1 269.7L325.6 274.1L325.6 282.7L318.1 287.1L310.7 282.7L310.7 274.1ZM347.8 269.7L355.2 274.1L355.2 282.7L347.8 287.1L340.4 282.7L340.4 274.1ZM377.5 269.7L384.9 274.1L384.9 282.7L377.5 287.1L370.1 282.7L370.1 274.1ZM392.3 269.7L399.8 274.1L399.8 282.7L392.3 287.1L384.9 282.7L384.9 274.1ZM355.2 282.7L362.7 287.1L362.7 295.7L355.2 300.1L347.8 295.7L347.8 287.1ZM370.1 282.7L377.5 287.1L377.5 295.7L370.1 300.1L362.6 295.7L362.6 287.1ZM333.0 295.7L340.4 300.1L340.4 308.7L333.0 313.1L325.5 308.7L325.5 300.1ZM347.8 295.7L355.2 300.1L355.2 308.7L347.8 313.1L340.4 308.7L340.4 300.1ZM295.9 308.7L303.3 313.1L303.3 321.7L295.9 326.1L288.4 321.7L288.4 313.1ZM310.7 308.7L318.1 313.1L318.1 321.7L310.7 326.1L303.3 321.7L303.3 313.1ZM340.4 308.7L347.8 313.1L347.8 321.7L340.4 326.1L333.0 321.7L333.0 313.1ZM355.2 308.7L362.7 313.1L362.7 321.7L355.2 326.1L347.8 321.7L347.8 313.1ZM288.4 321.7L295.9 326.1L295.9 334.7L288.4 339.1L281.0 334.7L281.0 326.1ZM303.3 321.7L310.7 326.1L310.7 334.7L303.3 339.1L295.9 334.7L295.9 326.1ZM407.2 321.7L414.6 326.1L414.6 334.7L407.2 339.1L399.7 334.7L399.7 326.1ZM295.9 360.7L303.3 365.1L303.3 373.7L295.9 378.1L288.4 373.7L288.4 365.1ZM310.7 360.7L318.1 365.1L318.1 373.7L310.7 378.1L303.3 373.7L303.3 365.1ZM236.5 386.7L243.9 391.1L243.9 399.7L236.5 404.1L229.1 399.7L229.1 391.1ZM243.9 399.7L251.3 404.1L251.3 412.7L243.9 417.1L236.5 412.7L236.5 404.1ZM303.3 425.7L310.7 430.1L310.7 438.7L303.3 443.1L295.9 438.7L295.9 430.1ZM318.1 425.7L325.6 430.1L325.6 438.7L318.1 443.1L310.7 438.7L310.7 430.1ZM333.0 425.7L340.4 430.1L340.4 438.7L333.0 443.1L325.5 438.7L325.5 430.1ZM325.5 438.7L333.0 443.1L333.0 451.7L325.5 456.1L318.1 451.7L318.1 443.1ZM333.0 451.7L340.4 456.1L340.4 464.7L333.0 469.1L325.5 464.7L325.5 456.1ZM310.7 464.7L318.1 469.1L318.1 477.7L310.7 482.1L303.3 477.7L303.3 469.1ZM325.5 464.7L333.0 469.1L333.0 477.7L325.5 482.1L318.1 477.7L318.1 469.1ZM318.1 477.7L325.6 482.1L325.6 490.7L318.1 495.1L310.7 490.7L310.7 482.1ZM266.2 490.7L273.6 495.1L273.6 503.7L266.2 508.1L258.8 503.7L258.8 495.1ZM295.9 490.7L303.3 495.1L303.3 503.7L295.9 508.1L288.4 503.7L288.4 495.1ZM273.6 503.7L281.0 508.1L281.0 516.7L273.6 521.1L266.2 516.7L266.2 508.1ZM288.4 503.7L295.9 508.1L295.9 516.7L288.4 521.1L281.0 516.7L281.0 508.1ZM295.9 516.7L303.3 521.1L303.3 529.7L295.9 534.1L288.4 529.7L288.4 521.1ZM325.5 516.7L333.0 521.1L333.0 529.7L325.5 534.1L318.1 529.7L318.1 521.1ZM340.4 516.7L347.8 521.1L347.8 529.7L340.4 534.1L333.0 529.7L333.0 521.1ZM355.2 516.7L362.7 521.1L362.7 529.7L355.2 534.1L347.8 529.7L347.8 521.1ZM333.0 529.7L340.4 534.1L340.4 542.7L333.0 547.1L325.5 542.7L325.5 534.1ZM362.6 529.7L370.1 534.1L370.1 542.7L362.6 547.1L355.2 542.7L355.2 534.1Z"/>
<path fill="#F97C60" d="M407.2 139.7L414.6 144.1L414.6 152.7L407.2 157.1L399.7 152.7L399.7 144.1ZM370.1 256.7L377.5 261.1L377.5 269.7L370.1 274.1L362.6 269.7L362.6 261.1ZM362.6 269.7L370.1 274.1L370.1 282.7L362.6 287.1L355.2 282.7L355.2 274.1ZM281.0 308.7L288.4 313.1L288.4 321.7L281.0 326.1L273.6 321.7L273.6 313.1ZM325.5 308.7L333.0 313.1L333.0 321.7L325.5 326.1L318.1 321.7L318.1 313.1ZM295.9 412.7L303.3 417.1L303.3 425.7L295.9 430.1L288.4 425.7L288.4 417.1ZM340.4 438.7L347.8 443.1L347.8 451.7L340.4 456.1L333.0 451.7L333.0 443.1ZM303.3 451.7L310.7 456.1L310.7 464.7L303.3 469.1L295.9 464.7L295.9 456.1ZM288.4 477.7L295.9 482.1L295.9 490.7L288.4 495.1L281.0 490.7L281.0 482.1ZM303.3 477.7L310.7 482.1L310.7 490.7L303.3 495.1L295.9 490.7L295.9 482.1ZM318.1 503.7L325.6 508.1L325.6 516.7L318.1 521.1L310.7 516.7L310.7 508.1ZM355.2 542.7L362.7 547.1L362.7 555.7L355.2 560.1L347.8 555.7L347.8 547.1ZM281.0 568.7L288.4 573.1L288.4 581.7L281.0 586.1L273.6 581.7L273.6 573.1Z"/>
<path fill="#EE6160" d="M377.5 217.7L384.9 222.1L384.9 230.7L377.5 235.1L370.1 230.7L370.1 222.1ZM355.2 230.7L362.7 235.1L362.7 243.7L355.2 248.1L347.8 243.7L347.8 235.1ZM340.4 256.7L347.8 261.1L347.8 269.7L340.4 274.1L333.0 269.7L333.0 261.1ZM325.5 282.7L333.0 287.1L333.0 295.7L325.5 300.1L318.1 295.7L318.1 287.1ZM318.1 295.7L325.6 300.1L325.6 308.7L318.1 313.1L310.7 308.7L310.7 300.1ZM362.6 295.7L370.1 300.1L370.1 308.7L362.6 313.1L355.2 308.7L355.2 300.1ZM295.9 334.7L303.3 339.1L303.3 347.7L295.9 352.1L288.4 347.7L288.4 339.1ZM273.6 347.7L281.0 352.1L281.0 360.7L273.6 365.1L266.2 360.7L266.2 352.1ZM303.3 373.7L310.7 378.1L310.7 386.7L303.3 391.1L295.9 386.7L295.9 378.1ZM266.2 412.7L273.6 417.1L273.6 425.7L266.2 430.1L258.8 425.7L258.8 417.1ZM295.9 438.7L303.3 443.1L303.3 451.7L295.9 456.1L288.4 451.7L288.4 443.1ZM281.0 464.7L288.4 469.1L288.4 477.7L281.0 482.1L273.6 477.7L273.6 469.1Z"/>
<path fill="#DE4968" d="M347.8 165.7L355.2 170.1L355.2 178.7L347.8 183.1L340.4 178.7L340.4 170.1ZM362.6 191.7L370.1 196.1L370.1 204.7L362.6 209.1L355.2 204.7L355.2 196.1ZM355.2 204.7L362.7 209.1L362.7 217.7L355.2 222.1L347.8 217.7L347.8 209.1ZM370.1 204.7L377.5 209.1L377.5 217.7L370.1 222.1L362.6 217.7L362.6 209.1ZM333.0 269.7L340.4 274.1L340.4 282.7L333.0 287.1L325.5 282.7L325.5 274.1ZM310.7 282.7L318.1 287.1L318.1 295.7L310.7 300.1L303.3 295.7L303.3 287.1ZM288.4 347.7L295.9 352.1L295.9 360.7L288.4 365.1L281.0 360.7L281.0 352.1ZM303.3 347.7L310.7 352.1L310.7 360.7L303.3 365.1L295.9 360.7L295.9 352.1ZM310.7 386.7L318.1 391.1L318.1 399.7L310.7 404.1L303.3 399.7L303.3 391.1ZM288.4 399.7L295.9 404.1L295.9 412.7L288.4 417.1L281.0 412.7L281.0 404.1ZM295.9 464.7L303.3 469.1L303.3 477.7L295.9 482.1L288.4 477.7L288.4 469.1ZM273.6 529.7L281.0 534.1L281.0 542.7L273.6 547.1L266.2 542.7L266.2 534.1Z"/>
<path fill="#C13C75" d="M355.2 256.7L362.7 261.1L362.7 269.7L355.2 274.1L347.8 269.7L347.8 261.1ZM318.1 347.7L325.6 352.1L325.6 360.7L318.1 365.1L310.7 360.7L310.7 352.1ZM295.9 386.7L303.3 391.1L303.3 399.7L295.9 404.1L288.4 399.7L288.4 391.1Z"/>
<path fill="#A2307D" d="M251.3 542.7L258.8 547.1L258.8 555.7L251.3 560.1L243.9 555.7L243.9 547.1Z"/>
<path fill="#822581" d="M362.6 217.7L370.1 222.1L370.1 230.7L362.6 235.1L355.2 230.7L355.2 222.1ZM281.0 334.7L288.4 339.1L288.4 347.7L281.0 352.1L273.6 347.7L273.6 339.1ZM318.1 399.7L325.6 404.1L325.6 412.7L318.1 417.1L310.7 412.7L310.7 404.1ZM273.6 555.7L281.0 560.1L281.0 568.7L273.6 573.1L266.2 568.7L266.2 560.1Z"/>
<path fill="#451274" d="M258.8 529.7L266.2 534.1L266.2 542.7L258.8 547.1L251.3 542.7L251.3 534.1ZM266.2 542.7L273.6 547.1L273.6 555.7L266.2 560.1L258.8 555.7L258.8 547.1Z"/>
<path fill="#280E53" d="M288.4 373.7L295.9 378.1L295.9 386.7L288.4 391.1L281.0 386.7L281.0 378.1Z"/></g>
<g stroke="#4a453d" stroke-width="1.5" stroke-linejoin="round"><path fill="#FCF8BA" d="M803.4 152.7L810.8 157.1L810.8 165.7L803.4 170.1L796.0 165.7L796.0 157.1ZM818.3 152.7L825.7 157.1L825.7 165.7L818.3 170.1L810.9 165.7L810.9 157.1ZM796.0 165.7L803.4 170.1L803.4 178.7L796.0 183.1L788.6 178.7L788.6 170.1ZM810.9 165.7L818.3 170.1L818.3 178.7L810.9 183.1L803.4 178.7L803.4 170.1ZM825.7 165.7L833.1 170.1L833.1 178.7L825.7 183.1L818.3 178.7L818.3 170.1ZM803.4 178.7L810.8 183.1L810.8 191.7L803.4 196.1L796.0 191.7L796.0 183.1ZM833.1 178.7L840.5 183.1L840.5 191.7L833.1 196.1L825.7 191.7L825.7 183.1ZM766.3 191.7L773.7 196.1L773.7 204.7L766.3 209.1L758.9 204.7L758.9 196.1ZM781.2 191.7L788.6 196.1L788.6 204.7L781.2 209.1L773.8 204.7L773.8 196.1ZM758.9 204.7L766.3 209.1L766.3 217.7L758.9 222.1L751.5 217.7L751.5 209.1ZM773.8 230.7L781.2 235.1L781.2 243.7L773.8 248.1L766.3 243.7L766.3 235.1ZM818.3 256.7L825.7 261.1L825.7 269.7L818.3 274.1L810.9 269.7L810.9 261.1ZM885.0 269.7L892.5 274.1L892.5 282.7L885.0 287.1L877.6 282.7L877.6 274.1ZM892.5 282.7L899.9 287.1L899.9 295.7L892.5 300.1L885.1 295.7L885.1 287.1ZM907.3 282.7L914.7 287.1L914.7 295.7L907.3 300.1L899.9 295.7L899.9 287.1ZM922.1 282.7L929.6 287.1L929.6 295.7L922.1 300.1L914.7 295.7L914.7 287.1ZM885.0 295.7L892.5 300.1L892.5 308.7L885.0 313.1L877.6 308.7L877.6 300.1ZM899.9 295.7L907.3 300.1L907.3 308.7L899.9 313.1L892.5 308.7L892.5 300.1ZM848.0 308.7L855.4 313.1L855.4 321.7L848.0 326.1L840.5 321.7L840.5 313.1ZM877.6 308.7L885.0 313.1L885.0 321.7L877.6 326.1L870.2 321.7L870.2 313.1ZM907.3 308.7L914.7 313.1L914.7 321.7L907.3 326.1L899.9 321.7L899.9 313.1ZM803.4 334.7L810.8 339.1L810.8 347.7L803.4 352.1L796.0 347.7L796.0 339.1ZM818.3 334.7L825.7 339.1L825.7 347.7L818.3 352.1L810.9 347.7L810.9 339.1ZM840.5 347.7L847.9 352.1L847.9 360.7L840.5 365.1L833.1 360.7L833.1 352.1ZM885.0 347.7L892.5 352.1L892.5 360.7L885.0 365.1L877.6 360.7L877.6 352.1ZM707.0 373.7L714.4 378.1L714.4 386.7L707.0 391.1L699.6 386.7L699.6 378.1ZM736.6 373.7L744.1 378.1L744.1 386.7L736.6 391.1L729.2 386.7L729.2 378.1ZM788.6 412.7L796.0 417.1L796.0 425.7L788.6 430.1L781.2 425.7L781.2 417.1ZM736.6 451.7L744.1 456.1L744.1 464.7L736.6 469.1L729.2 464.7L729.2 456.1ZM751.5 451.7L758.9 456.1L758.9 464.7L751.5 469.1L744.1 464.7L744.1 456.1ZM766.3 451.7L773.7 456.1L773.7 464.7L766.3 469.1L758.9 464.7L758.9 456.1ZM781.2 451.7L788.6 456.1L788.6 464.7L781.2 469.1L773.8 464.7L773.8 456.1ZM773.8 464.7L781.2 469.1L781.2 477.7L773.8 482.1L766.3 477.7L766.3 469.1ZM736.6 477.7L744.1 482.1L744.1 490.7L736.6 495.1L729.2 490.7L729.2 482.1ZM766.3 477.7L773.7 482.1L773.7 490.7L766.3 495.1L758.9 490.7L758.9 482.1Z"/>
<path fill="#FDECAE" d="M810.9 139.7L818.3 144.1L818.3 152.7L810.9 157.1L803.4 152.7L803.4 144.1ZM788.6 152.7L796.0 157.1L796.0 165.7L788.6 170.1L781.2 165.7L781.2 157.1ZM833.1 152.7L840.5 157.1L840.5 165.7L833.1 170.1L825.7 165.7L825.7 157.1ZM758.9 178.7L766.3 183.1L766.3 191.7L758.9 196.1L751.5 191.7L751.5 183.1ZM773.8 178.7L781.2 183.1L781.2 191.7L773.8 196.1L766.3 191.7L766.3 183.1ZM788.6 178.7L796.0 183.1L796.0 191.7L788.6 196.1L781.2 191.7L781.2 183.1ZM818.3 178.7L825.7 183.1L825.7 191.7L818.3 196.1L810.9 191.7L810.9 183.1ZM796.0 191.7L803.4 196.1L803.4 204.7L796.0 209.1L788.6 204.7L788.6 196.1ZM773.8 204.7L781.2 209.1L781.2 217.7L773.8 222.1L766.3 217.7L766.3 209.1ZM803.4 204.7L810.8 209.1L810.8 217.7L803.4 222.1L796.0 217.7L796.0 209.1ZM862.8 204.7L870.2 209.1L870.2 217.7L862.8 222.1L855.4 217.7L855.4 209.1ZM766.3 217.7L773.7 222.1L773.7 230.7L766.3 235.1L758.9 230.7L758.9 222.1ZM781.2 217.7L788.6 222.1L788.6 230.7L781.2 235.1L773.8 230.7L773.8 222.1ZM885.0 217.7L892.5 222.1L892.5 230.7L885.0 235.1L877.6 230.7L877.6 222.1ZM899.9 217.7L907.3 222.1L907.3 230.7L899.9 235.1L892.5 230.7L892.5 222.1ZM914.7 217.7L922.1 222.1L922.1 230.7L914.7 235.1L907.3 230.7L907.3 222.1ZM929.6 217.7L937.0 222.1L937.0 230.7L929.6 235.1L922.1 230.7L922.1 222.1ZM758.9 230.7L766.3 235.1L766.3 243.7L758.9 248.1L751.5 243.7L751.5 235.1ZM848.0 230.7L855.4 235.1L855.4 243.7L848.0 248.1L840.5 243.7L840.5 235.1ZM892.5 230.7L899.9 235.1L899.9 243.7L892.5 248.1L885.1 243.7L885.1 235.1ZM907.3 230.7L914.7 235.1L914.7 243.7L907.3 248.1L899.9 243.7L899.9 235.1ZM922.1 230.7L929.6 235.1L929.6 243.7L922.1 248.1L914.7 243.7L914.7 235.1ZM937.0 230.7L944.4 235.1L944.4 243.7L937.0 248.1L929.6 243.7L929.6 235.1ZM781.2 243.7L788.6 248.1L788.6 256.7L781.2 261.1L773.8 256.7L773.8 248.1ZM885.0 243.7L892.5 248.1L892.5 256.7L885.0 261.1L877.6 256.7L877.6 248.1ZM899.9 243.7L907.3 248.1L907.3 256.7L899.9 261.1L892.5 256.7L892.5 248.1ZM914.7 243.7L922.1 248.1L922.1 256.7L914.7 261.1L907.3 256.7L907.3 248.1ZM929.6 243.7L937.0 248.1L937.0 256.7L929.6 261.1L922.1 256.7L922.1 248.1ZM788.6 256.7L796.0 261.1L796.0 269.7L788.6 274.1L781.2 269.7L781.2 261.1ZM803.4 256.7L810.8 261.1L810.8 269.7L803.4 274.1L796.0 269.7L796.0 261.1ZM833.1 256.7L840.5 261.1L840.5 269.7L833.1 274.1L825.7 269.7L825.7 261.1ZM862.8 256.7L870.2 261.1L870.2 269.7L862.8 274.1L855.4 269.7L855.4 261.1ZM892.5 256.7L899.9 261.1L899.9 269.7L892.5 274.1L885.1 269.7L885.1 261.1ZM907.3 256.7L914.7 261.1L914.7 269.7L907.3 274.1L899.9 269.7L899.9 261.1ZM922.1 256.7L929.6 261.1L929.6 269.7L922.1 274.1L914.7 269.7L914.7 261.1ZM937.0 256.7L944.4 261.1L944.4 269.7L937.0 274.1L929.6 269.7L929.6 261.1ZM855.4 269.7L862.8 274.1L862.8 282.7L855.4 287.1L848.0 282.7L848.0 274.1ZM870.2 269.7L877.6 274.1L877.6 282.7L870.2 287.1L862.8 282.7L862.8 274.1ZM914.7 269.7L922.1 274.1L922.1 282.7L914.7 287.1L907.3 282.7L907.3 274.1ZM929.6 269.7L937.0 274.1L937.0 282.7L929.6 287.1L922.1 282.7L922.1 274.1ZM848.0 282.7L855.4 287.1L855.4 295.7L848.0 300.1L840.5 295.7L840.5 287.1ZM862.8 282.7L870.2 287.1L870.2 295.7L862.8 300.1L855.4 295.7L855.4 287.1ZM877.6 282.7L885.0 287.1L885.0 295.7L877.6 300.1L870.2 295.7L870.2 287.1ZM825.7 295.7L833.1 300.1L833.1 308.7L825.7 313.1L818.3 308.7L818.3 300.1ZM840.5 295.7L847.9 300.1L847.9 308.7L840.5 313.1L833.1 308.7L833.1 300.1ZM855.4 295.7L862.8 300.1L862.8 308.7L855.4 313.1L848.0 308.7L848.0 300.1ZM870.2 295.7L877.6 300.1L877.6 308.7L870.2 313.1L862.8 308.7L862.8 300.1ZM914.7 295.7L922.1 300.1L922.1 308.7L914.7 313.1L907.3 308.7L907.3 300.1ZM862.8 308.7L870.2 313.1L870.2 321.7L862.8 326.1L855.4 321.7L855.4 313.1ZM892.5 308.7L899.9 313.1L899.9 321.7L892.5 326.1L885.1 321.7L885.1 313.1ZM825.7 321.7L833.1 326.1L833.1 334.7L825.7 339.1L818.3 334.7L818.3 326.1ZM855.4 321.7L862.8 326.1L862.8 334.7L855.4 339.1L848.0 334.7L848.0 326.1ZM870.2 321.7L877.6 326.1L877.6 334.7L870.2 339.1L862.8 334.7L862.8 326.1ZM885.0 321.7L892.5 326.1L892.5 334.7L885.0 339.1L877.6 334.7L877.6 326.1ZM899.9 321.7L907.3 326.1L907.3 334.7L899.9 339.1L892.5 334.7L892.5 326.1ZM788.6 334.7L796.0 339.1L796.0 347.7L788.6 352.1L781.2 347.7L781.2 339.1ZM848.0 334.7L855.4 339.1L855.4 347.7L848.0 352.1L840.5 347.7L840.5 339.1ZM862.8 334.7L870.2 339.1L870.2 347.7L862.8 352.1L855.4 347.7L855.4 339.1ZM877.6 334.7L885.0 339.1L885.0 347.7L877.6 352.1L870.2 347.7L870.2 339.1ZM892.5 334.7L899.9 339.1L899.9 347.7L892.5 352.1L885.1 347.7L885.1 339.1ZM810.9 347.7L818.3 352.1L818.3 360.7L810.9 365.1L803.4 360.7L803.4 352.1ZM825.7 347.7L833.1 352.1L833.1 360.7L825.7 365.1L818.3 360.7L818.3 352.1ZM855.4 347.7L862.8 352.1L862.8 360.7L855.4 365.1L848.0 360.7L848.0 352.1ZM870.2 347.7L877.6 352.1L877.6 360.7L870.2 365.1L862.8 360.7L862.8 352.1ZM744.1 360.7L751.5 365.1L751.5 373.7L744.1 378.1L736.6 373.7L736.6 365.1ZM818.3 360.7L825.7 365.1L825.7 373.7L818.3 378.1L810.9 373.7L810.9 365.1ZM833.1 360.7L840.5 365.1L840.5 373.7L833.1 378.1L825.7 373.7L825.7 365.1ZM848.0 360.7L855.4 365.1L855.4 373.7L848.0 378.1L840.5 373.7L840.5 365.1ZM862.8 360.7L870.2 365.1L870.2 373.7L862.8 378.1L855.4 373.7L855.4 365.1ZM617.9 373.7L625.3 378.1L625.3 386.7L617.9 391.1L610.5 386.7L610.5 378.1ZM796.0 373.7L803.4 378.1L803.4 386.7L796.0 391.1L788.6 386.7L788.6 378.1ZM810.9 373.7L818.3 378.1L818.3 386.7L810.9 391.1L803.4 386.7L803.4 378.1ZM825.7 373.7L833.1 378.1L833.1 386.7L825.7 391.1L818.3 386.7L818.3 378.1ZM840.5 373.7L847.9 378.1L847.9 386.7L840.5 391.1L833.1 386.7L833.1 378.1ZM855.4 373.7L862.8 378.1L862.8 386.7L855.4 391.1L848.0 386.7L848.0 378.1ZM625.4 386.7L632.8 391.1L632.8 399.7L625.4 404.1L617.9 399.7L617.9 391.1ZM744.1 386.7L751.5 391.1L751.5 399.7L744.1 404.1L736.6 399.7L736.6 391.1ZM758.9 386.7L766.3 391.1L766.3 399.7L758.9 404.1L751.5 399.7L751.5 391.1ZM773.8 386.7L781.2 391.1L781.2 399.7L773.8 404.1L766.3 399.7L766.3 391.1ZM788.6 386.7L796.0 391.1L796.0 399.7L788.6 404.1L781.2 399.7L781.2 391.1ZM803.4 386.7L810.8 391.1L810.8 399.7L803.4 404.1L796.0 399.7L796.0 391.1ZM818.3 386.7L825.7 391.1L825.7 399.7L818.3 404.1L810.9 399.7L810.9 391.1ZM833.1 386.7L840.5 391.1L840.5 399.7L833.1 404.1L825.7 399.7L825.7 391.1ZM848.0 386.7L855.4 391.1L855.4 399.7L848.0 404.1L840.5 399.7L840.5 391.1ZM736.6 399.7L744.1 404.1L744.1 412.7L736.6 417.1L729.2 412.7L729.2 404.1ZM751.5 399.7L758.9 404.1L758.9 412.7L751.5 417.1L744.1 412.7L744.1 404.1ZM766.3 399.7L773.7 404.1L773.7 412.7L766.3 417.1L758.9 412.7L758.9 404.1ZM781.2 399.7L788.6 404.1L788.6 412.7L781.2 417.1L773.8 412.7L773.8 404.1ZM796.0 399.7L803.4 404.1L803.4 412.7L796.0 417.1L788.6 412.7L788.6 404.1ZM810.9 399.7L818.3 404.1L818.3 412.7L810.9 417.1L803.4 412.7L803.4 404.1ZM825.7 399.7L833.1 404.1L833.1 412.7L825.7 417.1L818.3 412.7L818.3 404.1ZM840.5 399.7L847.9 404.1L847.9 412.7L840.5 417.1L833.1 412.7L833.1 404.1ZM744.1 412.7L751.5 417.1L751.5 425.7L744.1 430.1L736.6 425.7L736.6 417.1ZM758.9 412.7L766.3 417.1L766.3 425.7L758.9 430.1L751.5 425.7L751.5 417.1ZM773.8 412.7L781.2 417.1L781.2 425.7L773.8 430.1L766.3 425.7L766.3 417.1ZM803.4 412.7L810.8 417.1L810.8 425.7L803.4 430.1L796.0 425.7L796.0 417.1ZM818.3 412.7L825.7 417.1L825.7 425.7L818.3 430.1L810.9 425.7L810.9 417.1ZM833.1 412.7L840.5 417.1L840.5 425.7L833.1 430.1L825.7 425.7L825.7 417.1ZM736.6 425.7L744.1 430.1L744.1 438.7L736.6 443.1L729.2 438.7L729.2 430.1ZM766.3 425.7L773.7 430.1L773.7 438.7L766.3 443.1L758.9 438.7L758.9 430.1ZM781.2 425.7L788.6 430.1L788.6 438.7L781.2 443.1L773.8 438.7L773.8 430.1ZM796.0 425.7L803.4 430.1L803.4 438.7L796.0 443.1L788.6 438.7L788.6 430.1ZM810.9 425.7L818.3 430.1L818.3 438.7L810.9 443.1L803.4 438.7L803.4 430.1ZM744.1 438.7L751.5 443.1L751.5 451.7L744.1 456.1L736.6 451.7L736.6 443.1ZM758.9 438.7L766.3 443.1L766.3 451.7L758.9 456.1L751.5 451.7L751.5 443.1ZM773.8 438.7L781.2 443.1L781.2 451.7L773.8 456.1L766.3 451.7L766.3 443.1ZM788.6 438.7L796.0 443.1L796.0 451.7L788.6 456.1L781.2 451.7L781.2 443.1ZM803.4 438.7L810.8 443.1L810.8 451.7L803.4 456.1L796.0 451.7L796.0 443.1ZM796.0 451.7L803.4 456.1L803.4 464.7L796.0 469.1L788.6 464.7L788.6 456.1ZM729.2 464.7L736.6 469.1L736.6 477.7L729.2 482.1L721.8 477.7L721.8 469.1ZM744.1 464.7L751.5 469.1L751.5 477.7L744.1 482.1L736.6 477.7L736.6 469.1ZM758.9 464.7L766.3 469.1L766.3 477.7L758.9 482.1L751.5 477.7L751.5 469.1ZM788.6 464.7L796.0 469.1L796.0 477.7L788.6 482.1L781.2 477.7L781.2 469.1ZM781.2 477.7L788.6 482.1L788.6 490.7L781.2 495.1L773.8 490.7L773.8 482.1ZM796.0 477.7L803.4 482.1L803.4 490.7L796.0 495.1L788.6 490.7L788.6 482.1ZM729.2 490.7L736.6 495.1L736.6 503.7L729.2 508.1L721.8 503.7L721.8 495.1ZM744.1 490.7L751.5 495.1L751.5 503.7L744.1 508.1L736.6 503.7L736.6 495.1ZM758.9 490.7L766.3 495.1L766.3 503.7L758.9 508.1L751.5 503.7L751.5 495.1ZM773.8 490.7L781.2 495.1L781.2 503.7L773.8 508.1L766.3 503.7L766.3 495.1ZM788.6 490.7L796.0 495.1L796.0 503.7L788.6 508.1L781.2 503.7L781.2 495.1ZM736.6 503.7L744.1 508.1L744.1 516.7L736.6 521.1L729.2 516.7L729.2 508.1ZM766.3 503.7L773.7 508.1L773.7 516.7L766.3 521.1L758.9 516.7L758.9 508.1ZM781.2 503.7L788.6 508.1L788.6 516.7L781.2 521.1L773.8 516.7L773.8 508.1ZM796.0 503.7L803.4 508.1L803.4 516.7L796.0 521.1L788.6 516.7L788.6 508.1ZM758.9 516.7L766.3 521.1L766.3 529.7L758.9 534.1L751.5 529.7L751.5 521.1ZM773.8 516.7L781.2 521.1L781.2 529.7L773.8 534.1L766.3 529.7L766.3 521.1ZM788.6 516.7L796.0 521.1L796.0 529.7L788.6 534.1L781.2 529.7L781.2 521.1ZM803.4 516.7L810.8 521.1L810.8 529.7L803.4 534.1L796.0 529.7L796.0 521.1ZM781.2 529.7L788.6 534.1L788.6 542.7L781.2 547.1L773.8 542.7L773.8 534.1ZM796.0 529.7L803.4 534.1L803.4 542.7L796.0 547.1L788.6 542.7L788.6 534.1Z"/>
<path fill="#FED598" d="M744.1 126.7L751.5 131.1L751.5 139.7L744.1 144.1L736.6 139.7L736.6 131.1ZM766.3 139.7L773.7 144.1L773.7 152.7L766.3 157.1L758.9 152.7L758.9 144.1ZM758.9 152.7L766.3 157.1L766.3 165.7L758.9 170.1L751.5 165.7L751.5 157.1ZM751.5 165.7L758.9 170.1L758.9 178.7L751.5 183.1L744.1 178.7L744.1 170.1ZM766.3 165.7L773.7 170.1L773.7 178.7L766.3 183.1L758.9 178.7L758.9 170.1ZM781.2 165.7L788.6 170.1L788.6 178.7L781.2 183.1L773.8 178.7L773.8 170.1ZM721.8 191.7L729.2 196.1L729.2 204.7L721.8 209.1L714.4 204.7L714.4 196.1ZM810.9 191.7L818.3 196.1L818.3 204.7L810.9 209.1L803.4 204.7L803.4 196.1ZM825.7 191.7L833.1 196.1L833.1 204.7L825.7 209.1L818.3 204.7L818.3 196.1ZM870.2 191.7L877.6 196.1L877.6 204.7L870.2 209.1L862.8 204.7L862.8 196.1ZM885.0 191.7L892.5 196.1L892.5 204.7L885.0 209.1L877.6 204.7L877.6 196.1ZM788.6 204.7L796.0 209.1L796.0 217.7L788.6 222.1L781.2 217.7L781.2 209.1ZM848.0 204.7L855.4 209.1L855.4 217.7L848.0 222.1L840.5 217.7L840.5 209.1ZM907.3 204.7L914.7 209.1L914.7 217.7L907.3 222.1L899.9 217.7L899.9 209.1ZM922.1 204.7L929.6 209.1L929.6 217.7L922.1 222.1L914.7 217.7L914.7 209.1ZM796.0 217.7L803.4 222.1L803.4 230.7L796.0 235.1L788.6 230.7L788.6 222.1ZM810.9 217.7L818.3 222.1L818.3 230.7L810.9 235.1L803.4 230.7L803.4 222.1ZM825.7 217.7L833.1 222.1L833.1 230.7L825.7 235.1L818.3 230.7L818.3 222.1ZM855.4 217.7L862.8 222.1L862.8 230.7L855.4 235.1L848.0 230.7L848.0 222.1ZM870.2 217.7L877.6 222.1L877.6 230.7L870.2 235.1L862.8 230.7L862.8 222.1ZM788.6 230.7L796.0 235.1L796.0 243.7L788.6 248.1L781.2 243.7L781.2 235.1ZM803.4 230.7L810.8 235.1L810.8 243.7L803.4 248.1L796.0 243.7L796.0 235.1ZM833.1 230.7L840.5 235.1L840.5 243.7L833.1 248.1L825.7 243.7L825.7 235.1ZM862.8 230.7L870.2 235.1L870.2 243.7L862.8 248.1L855.4 243.7L855.4 235.1ZM877.6 230.7L885.0 235.1L885.0 243.7L877.6 248.1L870.2 243.7L870.2 235.1ZM766.3 243.7L773.7 248.1L773.7 256.7L766.3 261.1L758.9 256.7L758.9 248.1ZM796.0 243.7L803.4 248.1L803.4 256.7L796.0 261.1L788.6 256.7L788.6 248.1ZM810.9 243.7L818.3 248.1L818.3 256.7L810.9 261.1L803.4 256.7L803.4 248.1ZM840.5 243.7L847.9 248.1L847.9 256.7L840.5 261.1L833.1 256.7L833.1 248.1ZM855.4 243.7L862.8 248.1L862.8 256.7L855.4 261.1L848.0 256.7L848.0 248.1ZM848.0 256.7L855.4 261.1L855.4 269.7L848.0 274.1L840.5 269.7L840.5 261.1ZM877.6 256.7L885.0 261.1L885.0 269.7L877.6 274.1L870.2 269.7L870.2 261.1ZM677.3 269.7L684.7 274.1L684.7 282.7L677.3 287.1L669.9 282.7L669.9 274.1ZM796.0 269.7L803.4 274.1L803.4 282.7L796.0 287.1L788.6 282.7L788.6 274.1ZM810.9 269.7L818.3 274.1L818.3 282.7L810.9 287.1L803.4 282.7L803.4 274.1ZM825.7 269.7L833.1 274.1L833.1 282.7L825.7 287.1L818.3 282.7L818.3 274.1ZM899.9 269.7L907.3 274.1L907.3 282.7L899.9 287.1L892.5 282.7L892.5 274.1ZM773.8 282.7L781.2 287.1L781.2 295.7L773.8 300.1L766.3 295.7L766.3 287.1ZM788.6 282.7L796.0 287.1L796.0 295.7L788.6 300.1L781.2 295.7L781.2 287.1ZM803.4 282.7L810.8 287.1L810.8 295.7L803.4 300.1L796.0 295.7L796.0 287.1ZM833.1 282.7L840.5 287.1L840.5 295.7L833.1 300.1L825.7 295.7L825.7 287.1ZM751.5 295.7L758.9 300.1L758.9 308.7L751.5 313.1L744.1 308.7L744.1 300.1ZM766.3 295.7L773.7 300.1L773.7 308.7L766.3 313.1L758.9 308.7L758.9 300.1ZM781.2 295.7L788.6 300.1L788.6 308.7L781.2 313.1L773.8 308.7L773.8 300.1ZM744.1 308.7L751.5 313.1L751.5 321.7L744.1 326.1L736.6 321.7L736.6 313.1ZM707.0 321.7L714.4 326.1L714.4 334.7L707.0 339.1L699.6 334.7L699.6 326.1ZM751.5 321.7L758.9 326.1L758.9 334.7L751.5 339.1L744.1 334.7L744.1 326.1ZM810.9 321.7L818.3 326.1L818.3 334.7L810.9 339.1L803.4 334.7L803.4 326.1ZM699.5 334.7L707.0 339.1L707.0 347.7L699.5 352.1L692.1 347.7L692.1 339.1ZM714.4 334.7L721.8 339.1L721.8 347.7L714.4 352.1L707.0 347.7L707.0 339.1ZM744.1 334.7L751.5 339.1L751.5 347.7L744.1 352.1L736.6 347.7L736.6 339.1ZM773.8 334.7L781.2 339.1L781.2 347.7L773.8 352.1L766.3 347.7L766.3 339.1ZM833.1 334.7L840.5 339.1L840.5 347.7L833.1 352.1L825.7 347.7L825.7 339.1ZM632.8 347.7L640.2 352.1L640.2 360.7L632.8 365.1L625.4 360.7L625.4 352.1ZM721.8 347.7L729.2 352.1L729.2 360.7L721.8 365.1L714.4 360.7L714.4 352.1ZM736.6 347.7L744.1 352.1L744.1 360.7L736.6 365.1L729.2 360.7L729.2 352.1ZM751.5 347.7L758.9 352.1L758.9 360.7L751.5 365.1L744.1 360.7L744.1 352.1ZM766.3 347.7L773.7 352.1L773.7 360.7L766.3 365.1L758.9 360.7L758.9 352.1ZM781.2 347.7L788.6 352.1L788.6 360.7L781.2 365.1L773.8 360.7L773.8 352.1ZM796.0 347.7L803.4 352.1L803.4 360.7L796.0 365.1L788.6 360.7L788.6 352.1ZM625.4 360.7L632.8 365.1L632.8 373.7L625.4 378.1L617.9 373.7L617.9 365.1ZM640.2 360.7L647.6 365.1L647.6 373.7L640.2 378.1L632.8 373.7L632.8 365.1ZM714.4 360.7L721.8 365.1L721.8 373.7L714.4 378.1L707.0 373.7L707.0 365.1ZM729.2 360.7L736.6 365.1L736.6 373.7L729.2 378.1L721.8 373.7L721.8 365.1ZM758.9 360.7L766.3 365.1L766.3 373.7L758.9 378.1L751.5 373.7L751.5 365.1ZM788.6 360.7L796.0 365.1L796.0 373.7L788.6 378.1L781.2 373.7L781.2 365.1ZM803.4 360.7L810.8 365.1L810.8 373.7L803.4 378.1L796.0 373.7L796.0 365.1ZM632.8 373.7L640.2 378.1L640.2 386.7L632.8 391.1L625.4 386.7L625.4 378.1ZM692.1 373.7L699.5 378.1L699.5 386.7L692.1 391.1L684.7 386.7L684.7 378.1ZM721.8 373.7L729.2 378.1L729.2 386.7L721.8 391.1L714.4 386.7L714.4 378.1ZM751.5 373.7L758.9 378.1L758.9 386.7L751.5 391.1L744.1 386.7L744.1 378.1ZM766.3 373.7L773.7 378.1L773.7 386.7L766.3 391.1L758.9 386.7L758.9 378.1ZM781.2 373.7L788.6 378.1L788.6 386.7L781.2 391.1L773.8 386.7L773.8 378.1ZM640.2 386.7L647.6 391.1L647.6 399.7L640.2 404.1L632.8 399.7L632.8 391.1ZM699.5 386.7L707.0 391.1L707.0 399.7L699.5 404.1L692.1 399.7L692.1 391.1ZM729.2 386.7L736.6 391.1L736.6 399.7L729.2 404.1L721.8 399.7L721.8 391.1ZM632.8 399.7L640.2 404.1L640.2 412.7L632.8 417.1L625.4 412.7L625.4 404.1ZM707.0 399.7L714.4 404.1L714.4 412.7L707.0 417.1L699.6 412.7L699.6 404.1ZM699.5 412.7L707.0 417.1L707.0 425.7L699.5 430.1L692.1 425.7L692.1 417.1ZM714.4 412.7L721.8 417.1L721.8 425.7L714.4 430.1L707.0 425.7L707.0 417.1ZM751.5 425.7L758.9 430.1L758.9 438.7L751.5 443.1L744.1 438.7L744.1 430.1ZM721.8 451.7L729.2 456.1L729.2 464.7L721.8 469.1L714.4 464.7L714.4 456.1ZM707.0 477.7L714.4 482.1L714.4 490.7L707.0 495.1L699.6 490.7L699.6 482.1ZM721.8 477.7L729.2 482.1L729.2 490.7L721.8 495.1L714.4 490.7L714.4 482.1ZM714.4 490.7L721.8 495.1L721.8 503.7L714.4 508.1L707.0 503.7L707.0 495.1ZM707.0 503.7L714.4 508.1L714.4 516.7L707.0 521.1L699.6 516.7L699.6 508.1ZM721.8 503.7L729.2 508.1L729.2 516.7L721.8 521.1L714.4 516.7L714.4 508.1ZM751.5 503.7L758.9 508.1L758.9 516.7L751.5 521.1L744.1 516.7L744.1 508.1ZM744.1 516.7L751.5 521.1L751.5 529.7L744.1 534.1L736.6 529.7L736.6 521.1ZM692.1 529.7L699.5 534.1L699.5 542.7L692.1 547.1L684.7 542.7L684.7 534.1ZM766.3 529.7L773.7 534.1L773.7 542.7L766.3 547.1L758.9 542.7L758.9 534.1ZM773.8 542.7L781.2 547.1L781.2 555.7L773.8 560.1L766.3 555.7L766.3 547.1ZM736.6 555.7L744.1 560.1L744.1 568.7L736.6 573.1L729.2 568.7L729.2 560.1ZM640.2 568.7L647.6 573.1L647.6 581.7L640.2 586.1L632.8 581.7L632.8 573.1Z"/>
<path fill="#FEB780" d="M788.6 126.7L796.0 131.1L796.0 139.7L788.6 144.1L781.2 139.7L781.2 131.1ZM773.8 152.7L781.2 157.1L781.2 165.7L773.8 170.1L766.3 165.7L766.3 157.1ZM840.5 165.7L847.9 170.1L847.9 178.7L840.5 183.1L833.1 178.7L833.1 170.1ZM744.1 178.7L751.5 183.1L751.5 191.7L744.1 196.1L736.6 191.7L736.6 183.1ZM848.0 178.7L855.4 183.1L855.4 191.7L848.0 196.1L840.5 191.7L840.5 183.1ZM840.5 191.7L847.9 196.1L847.9 204.7L840.5 209.1L833.1 204.7L833.1 196.1ZM855.4 191.7L862.8 196.1L862.8 204.7L855.4 209.1L848.0 204.7L848.0 196.1ZM818.3 204.7L825.7 209.1L825.7 217.7L818.3 222.1L810.9 217.7L810.9 209.1ZM833.1 204.7L840.5 209.1L840.5 217.7L833.1 222.1L825.7 217.7L825.7 209.1ZM877.6 204.7L885.0 209.1L885.0 217.7L877.6 222.1L870.2 217.7L870.2 209.1ZM892.5 204.7L899.9 209.1L899.9 217.7L892.5 222.1L885.1 217.7L885.1 209.1ZM840.5 217.7L847.9 222.1L847.9 230.7L840.5 235.1L833.1 230.7L833.1 222.1ZM818.3 230.7L825.7 235.1L825.7 243.7L818.3 248.1L810.9 243.7L810.9 235.1ZM825.7 243.7L833.1 248.1L833.1 256.7L825.7 261.1L818.3 256.7L818.3 248.1ZM870.2 243.7L877.6 248.1L877.6 256.7L870.2 261.1L862.8 256.7L862.8 248.1ZM773.8 256.7L781.2 261.1L781.2 269.7L773.8 274.1L766.3 269.7L766.3 261.1ZM781.2 269.7L788.6 274.1L788.6 282.7L781.2 287.1L773.8 282.7L773.8 274.1ZM840.5 269.7L847.9 274.1L847.9 282.7L840.5 287.1L833.1 282.7L833.1 274.1ZM714.4 282.7L721.8 287.1L721.8 295.7L714.4 300.1L707.0 295.7L707.0 287.1ZM758.9 282.7L766.3 287.1L766.3 295.7L758.9 300.1L751.5 295.7L751.5 287.1ZM818.3 282.7L825.7 287.1L825.7 295.7L818.3 300.1L810.9 295.7L810.9 287.1ZM662.5 295.7L669.9 300.1L669.9 308.7L662.5 313.1L655.0 308.7L655.0 300.1ZM796.0 295.7L803.4 300.1L803.4 308.7L796.0 313.1L788.6 308.7L788.6 300.1ZM758.9 308.7L766.3 313.1L766.3 321.7L758.9 326.1L751.5 321.7L751.5 313.1ZM788.6 308.7L796.0 313.1L796.0 321.7L788.6 326.1L781.2 321.7L781.2 313.1ZM803.4 308.7L810.8 313.1L810.8 321.7L803.4 326.1L796.0 321.7L796.0 313.1ZM818.3 308.7L825.7 313.1L825.7 321.7L818.3 326.1L810.9 321.7L810.9 313.1ZM833.1 308.7L840.5 313.1L840.5 321.7L833.1 326.1L825.7 321.7L825.7 313.1ZM662.5 321.7L669.9 326.1L669.9 334.7L662.5 339.1L655.0 334.7L655.0 326.1ZM692.1 321.7L699.5 326.1L699.5 334.7L692.1 339.1L684.7 334.7L684.7 326.1ZM736.6 321.7L744.1 326.1L744.1 334.7L736.6 339.1L729.2 334.7L729.2 326.1ZM766.3 321.7L773.7 326.1L773.7 334.7L766.3 339.1L758.9 334.7L758.9 326.1ZM796.0 321.7L803.4 326.1L803.4 334.7L796.0 339.1L788.6 334.7L788.6 326.1ZM840.5 321.7L847.9 326.1L847.9 334.7L840.5 339.1L833.1 334.7L833.1 326.1ZM684.7 334.7L692.1 339.1L692.1 347.7L684.7 352.1L677.3 347.7L677.3 339.1ZM729.2 334.7L736.6 339.1L736.6 347.7L729.2 352.1L721.8 347.7L721.8 339.1ZM758.9 334.7L766.3 339.1L766.3 347.7L758.9 352.1L751.5 347.7L751.5 339.1ZM773.8 360.7L781.2 365.1L781.2 373.7L773.8 378.1L766.3 373.7L766.3 365.1ZM714.4 386.7L721.8 391.1L721.8 399.7L714.4 404.1L707.0 399.7L707.0 391.1ZM617.9 399.7L625.3 404.1L625.3 412.7L617.9 417.1L610.5 412.7L610.5 404.1ZM721.8 399.7L729.2 404.1L729.2 412.7L721.8 417.1L714.4 412.7L714.4 404.1ZM684.7 412.7L692.1 417.1L692.1 425.7L684.7 430.1L677.3 425.7L677.3 417.1ZM729.2 412.7L736.6 417.1L736.6 425.7L729.2 430.1L721.8 425.7L721.8 417.1ZM721.8 425.7L729.2 430.1L729.2 438.7L721.8 443.1L714.4 438.7L714.4 430.1ZM684.7 438.7L692.1 443.1L692.1 451.7L684.7 456.1L677.3 451.7L677.3 443.1ZM729.2 438.7L736.6 443.1L736.6 451.7L729.2 456.1L721.8 451.7L721.8 443.1ZM692.1 451.7L699.5 456.1L699.5 464.7L692.1 469.1L684.7 464.7L684.7 456.1ZM707.0 451.7L714.4 456.1L714.4 464.7L707.0 469.1L699.6 464.7L699.6 456.1ZM714.4 464.7L721.8 469.1L721.8 477.7L714.4 482.1L707.0 477.7L707.0 469.1ZM632.8 477.7L640.2 482.1L640.2 490.7L632.8 495.1L625.4 490.7L625.4 482.1ZM647.6 477.7L655.0 482.1L655.0 490.7L647.6 495.1L640.2 490.7L640.2 482.1ZM692.1 477.7L699.5 482.1L699.5 490.7L692.1 495.1L684.7 490.7L684.7 482.1ZM751.5 477.7L758.9 482.1L758.9 490.7L751.5 495.1L744.1 490.7L744.1 482.1ZM625.4 490.7L632.8 495.1L632.8 503.7L625.4 508.1L617.9 503.7L617.9 495.1ZM640.2 490.7L647.6 495.1L647.6 503.7L640.2 508.1L632.8 503.7L632.8 495.1ZM655.0 490.7L662.4 495.1L662.4 503.7L655.0 508.1L647.6 503.7L647.6 495.1ZM669.9 490.7L677.3 495.1L677.3 503.7L669.9 508.1L662.5 503.7L662.5 495.1ZM684.7 490.7L692.1 495.1L692.1 503.7L684.7 508.1L677.3 503.7L677.3 495.1ZM677.3 503.7L684.7 508.1L684.7 516.7L677.3 521.1L669.9 516.7L669.9 508.1ZM692.1 503.7L699.5 508.1L699.5 516.7L692.1 521.1L684.7 516.7L684.7 508.1ZM684.7 516.7L692.1 521.1L692.1 529.7L684.7 534.1L677.3 529.7L677.3 521.1ZM699.5 516.7L707.0 521.1L707.0 529.7L699.5 534.1L692.1 529.7L692.1 521.1ZM729.2 516.7L736.6 521.1L736.6 529.7L729.2 534.1L721.8 529.7L721.8 521.1ZM699.5 542.7L707.0 547.1L707.0 555.7L699.5 560.1L692.1 555.7L692.1 547.1ZM714.4 542.7L721.8 547.1L721.8 555.7L714.4 560.1L707.0 555.7L707.0 547.1ZM758.9 542.7L766.3 547.1L766.3 555.7L758.9 560.1L751.5 555.7L751.5 547.1Z"/>
<path fill="#FD996B" d="M751.5 139.7L758.9 144.1L758.9 152.7L751.5 157.1L744.1 152.7L744.1 144.1ZM781.2 139.7L788.6 144.1L788.6 152.7L781.2 157.1L773.8 152.7L773.8 144.1ZM796.0 139.7L803.4 144.1L803.4 152.7L796.0 157.1L788.6 152.7L788.6 144.1ZM744.1 152.7L751.5 157.1L751.5 165.7L744.1 170.1L736.6 165.7L736.6 157.1ZM736.6 165.7L744.1 170.1L744.1 178.7L736.6 183.1L729.2 178.7L729.2 170.1ZM729.2 178.7L736.6 183.1L736.6 191.7L729.2 196.1L721.8 191.7L721.8 183.1ZM862.8 178.7L870.2 183.1L870.2 191.7L862.8 196.1L855.4 191.7L855.4 183.1ZM751.5 191.7L758.9 196.1L758.9 204.7L751.5 209.1L744.1 204.7L744.1 196.1ZM744.1 230.7L751.5 235.1L751.5 243.7L744.1 248.1L736.6 243.7L736.6 235.1ZM721.8 243.7L729.2 248.1L729.2 256.7L721.8 261.1L714.4 256.7L714.4 248.1ZM736.6 243.7L744.1 248.1L744.1 256.7L736.6 261.1L729.2 256.7L729.2 248.1ZM751.5 243.7L758.9 248.1L758.9 256.7L751.5 261.1L744.1 256.7L744.1 248.1ZM758.9 256.7L766.3 261.1L766.3 269.7L758.9 274.1L751.5 269.7L751.5 261.1ZM692.1 269.7L699.5 274.1L699.5 282.7L692.1 287.1L684.7 282.7L684.7 274.1ZM721.8 269.7L729.2 274.1L729.2 282.7L721.8 287.1L714.4 282.7L714.4 274.1ZM766.3 269.7L773.7 274.1L773.7 282.7L766.3 287.1L758.9 282.7L758.9 274.1ZM729.2 282.7L736.6 287.1L736.6 295.7L729.2 300.1L721.8 295.7L721.8 287.1ZM744.1 282.7L751.5 287.1L751.5 295.7L744.1 300.1L736.6 295.7L736.6 287.1ZM677.3 295.7L684.7 300.1L684.7 308.7L677.3 313.1L669.9 308.7L669.9 300.1ZM707.0 295.7L714.4 300.1L714.4 308.7L707.0 313.1L699.6 308.7L699.6 300.1ZM810.9 295.7L818.3 300.1L818.3 308.7L810.9 313.1L803.4 308.7L803.4 300.1ZM669.9 308.7L677.3 313.1L677.3 321.7L669.9 326.1L662.5 321.7L662.5 313.1ZM684.7 308.7L692.1 313.1L692.1 321.7L684.7 326.1L677.3 321.7L677.3 313.1ZM773.8 308.7L781.2 313.1L781.2 321.7L773.8 326.1L766.3 321.7L766.3 313.1ZM677.3 321.7L684.7 326.1L684.7 334.7L677.3 339.1L669.9 334.7L669.9 326.1ZM721.8 321.7L729.2 326.1L729.2 334.7L721.8 339.1L714.4 334.7L714.4 326.1ZM781.2 321.7L788.6 326.1L788.6 334.7L781.2 339.1L773.8 334.7L773.8 326.1ZM707.0 347.7L714.4 352.1L714.4 360.7L707.0 365.1L699.6 360.7L699.6 352.1ZM699.5 360.7L707.0 365.1L707.0 373.7L699.5 378.1L692.1 373.7L692.1 365.1ZM610.5 386.7L617.9 391.1L617.9 399.7L610.5 404.1L603.1 399.7L603.1 391.1ZM647.6 399.7L655.0 404.1L655.0 412.7L647.6 417.1L640.2 412.7L640.2 404.1ZM677.3 399.7L684.7 404.1L684.7 412.7L677.3 417.1L669.9 412.7L669.9 404.1ZM640.2 412.7L647.6 417.1L647.6 425.7L640.2 430.1L632.8 425.7L632.8 417.1ZM677.3 425.7L684.7 430.1L684.7 438.7L677.3 443.1L669.9 438.7L669.9 430.1ZM692.1 425.7L699.5 430.1L699.5 438.7L692.1 443.1L684.7 438.7L684.7 430.1ZM707.0 425.7L714.4 430.1L714.4 438.7L707.0 443.1L699.6 438.7L699.6 430.1ZM699.5 438.7L707.0 443.1L707.0 451.7L699.5 456.1L692.1 451.7L692.1 443.1ZM684.7 464.7L692.1 469.1L692.1 477.7L684.7 482.1L677.3 477.7L677.3 469.1ZM647.6 503.7L655.0 508.1L655.0 516.7L647.6 521.1L640.2 516.7L640.2 508.1ZM662.5 503.7L669.9 508.1L669.9 516.7L662.5 521.1L655.0 516.7L655.0 508.1ZM669.9 516.7L677.3 521.1L677.3 529.7L669.9 534.1L662.5 529.7L662.5 521.1ZM714.4 516.7L721.8 521.1L721.8 529.7L714.4 534.1L707.0 529.7L707.0 521.1ZM707.0 529.7L714.4 534.1L714.4 542.7L707.0 547.1L699.6 542.7L699.6 534.1ZM736.6 529.7L744.1 534.1L744.1 542.7L736.6 547.1L729.2 542.7L729.2 534.1ZM751.5 529.7L758.9 534.1L758.9 542.7L751.5 547.1L744.1 542.7L744.1 534.1ZM744.1 542.7L751.5 547.1L751.5 555.7L744.1 560.1L736.6 555.7L736.6 547.1ZM751.5 555.7L758.9 560.1L758.9 568.7L751.5 573.1L744.1 568.7L744.1 560.1Z"/>
<path fill="#F97C60" d="M714.4 256.7L721.8 261.1L721.8 269.7L714.4 274.1L707.0 269.7L707.0 261.1ZM744.1 256.7L751.5 261.1L751.5 269.7L744.1 274.1L736.6 269.7L736.6 261.1ZM736.6 269.7L744.1 274.1L744.1 282.7L736.6 287.1L729.2 282.7L729.2 274.1ZM751.5 269.7L758.9 274.1L758.9 282.7L751.5 287.1L744.1 282.7L744.1 274.1ZM692.1 295.7L699.5 300.1L699.5 308.7L692.1 313.1L684.7 308.7L684.7 300.1ZM721.8 295.7L729.2 300.1L729.2 308.7L721.8 313.1L714.4 308.7L714.4 300.1ZM714.4 308.7L721.8 313.1L721.8 321.7L714.4 326.1L707.0 321.7L707.0 313.1ZM729.2 308.7L736.6 313.1L736.6 321.7L729.2 326.1L721.8 321.7L721.8 313.1ZM669.9 334.7L677.3 339.1L677.3 347.7L669.9 352.1L662.5 347.7L662.5 339.1ZM677.3 451.7L684.7 456.1L684.7 464.7L677.3 469.1L669.9 464.7L669.9 456.1ZM655.0 464.7L662.4 469.1L662.4 477.7L655.0 482.1L647.6 477.7L647.6 469.1ZM662.5 477.7L669.9 482.1L669.9 490.7L662.5 495.1L655.0 490.7L655.0 482.1ZM699.5 490.7L707.0 495.1L707.0 503.7L699.5 508.1L692.1 503.7L692.1 495.1ZM721.8 529.7L729.2 534.1L729.2 542.7L721.8 547.1L714.4 542.7L714.4 534.1ZM729.2 542.7L736.6 547.1L736.6 555.7L729.2 560.1L721.8 555.7L721.8 547.1Z"/>
<path fill="#EE6160" d="M751.5 217.7L758.9 222.1L758.9 230.7L751.5 235.1L744.1 230.7L744.1 222.1ZM729.2 230.7L736.6 235.1L736.6 243.7L729.2 248.1L721.8 243.7L721.8 235.1ZM699.5 282.7L707.0 287.1L707.0 295.7L699.5 300.1L692.1 295.7L692.1 287.1ZM736.6 295.7L744.1 300.1L744.1 308.7L736.6 313.1L729.2 308.7L729.2 300.1ZM655.0 308.7L662.4 313.1L662.4 321.7L655.0 326.1L647.6 321.7L647.6 313.1ZM662.5 347.7L669.9 352.1L669.9 360.7L662.5 365.1L655.0 360.7L655.0 352.1ZM669.9 360.7L677.3 365.1L677.3 373.7L669.9 378.1L662.5 373.7L662.5 365.1ZM677.3 373.7L684.7 378.1L684.7 386.7L677.3 391.1L669.9 386.7L669.9 378.1ZM714.4 438.7L721.8 443.1L721.8 451.7L714.4 456.1L707.0 451.7L707.0 443.1ZM699.5 464.7L707.0 469.1L707.0 477.7L699.5 482.1L692.1 477.7L692.1 469.1ZM677.3 477.7L684.7 482.1L684.7 490.7L677.3 495.1L669.9 490.7L669.9 482.1ZM655.0 516.7L662.4 521.1L662.4 529.7L655.0 534.1L647.6 529.7L647.6 521.1Z"/>
<path fill="#DE4968" d="M736.6 191.7L744.1 196.1L744.1 204.7L736.6 209.1L729.2 204.7L729.2 196.1ZM744.1 204.7L751.5 209.1L751.5 217.7L744.1 222.1L736.6 217.7L736.6 209.1ZM707.0 269.7L714.4 274.1L714.4 282.7L707.0 287.1L699.6 282.7L699.6 274.1ZM684.7 282.7L692.1 287.1L692.1 295.7L684.7 300.1L677.3 295.7L677.3 287.1ZM699.5 308.7L707.0 313.1L707.0 321.7L699.5 326.1L692.1 321.7L692.1 313.1ZM677.3 347.7L684.7 352.1L684.7 360.7L677.3 365.1L669.9 360.7L669.9 352.1ZM684.7 360.7L692.1 365.1L692.1 373.7L684.7 378.1L677.3 373.7L677.3 365.1ZM655.0 386.7L662.4 391.1L662.4 399.7L655.0 404.1L647.6 399.7L647.6 391.1ZM669.9 412.7L677.3 417.1L677.3 425.7L669.9 430.1L662.5 425.7L662.5 417.1ZM669.9 438.7L677.3 443.1L677.3 451.7L669.9 456.1L662.5 451.7L662.5 443.1ZM647.6 529.7L655.0 534.1L655.0 542.7L647.6 547.1L640.2 542.7L640.2 534.1ZM655.0 568.7L662.4 573.1L662.4 581.7L655.0 586.1L647.6 581.7L647.6 573.1Z"/>
<path fill="#C13C75" d="M729.2 204.7L736.6 209.1L736.6 217.7L729.2 222.1L721.8 217.7L721.8 209.1ZM729.2 256.7L736.6 261.1L736.6 269.7L729.2 274.1L721.8 269.7L721.8 261.1ZM647.6 347.7L655.0 352.1L655.0 360.7L647.6 365.1L640.2 360.7L640.2 352.1ZM692.1 347.7L699.5 352.1L699.5 360.7L692.1 365.1L684.7 360.7L684.7 352.1ZM669.9 386.7L677.3 391.1L677.3 399.7L669.9 404.1L662.5 399.7L662.5 391.1Z"/>
<path fill="#A2307D" d="M721.8 165.7L729.2 170.1L729.2 178.7L721.8 183.1L714.4 178.7L714.4 170.1ZM647.6 373.7L655.0 378.1L655.0 386.7L647.6 391.1L640.2 386.7L640.2 378.1ZM669.9 464.7L677.3 469.1L677.3 477.7L669.9 482.1L662.5 477.7L662.5 469.1Z"/>
<path fill="#822581" d="M736.6 217.7L744.1 222.1L744.1 230.7L736.6 235.1L729.2 230.7L729.2 222.1ZM655.0 334.7L662.4 339.1L662.4 347.7L655.0 352.1L647.6 347.7L647.6 339.1ZM655.0 360.7L662.4 365.1L662.4 373.7L655.0 378.1L647.6 373.7L647.6 365.1ZM684.7 386.7L692.1 391.1L692.1 399.7L684.7 404.1L677.3 399.7L677.3 391.1ZM662.5 399.7L669.9 404.1L669.9 412.7L662.5 417.1L655.0 412.7L655.0 404.1ZM692.1 399.7L699.5 404.1L699.5 412.7L692.1 417.1L684.7 412.7L684.7 404.1ZM647.6 555.7L655.0 560.1L655.0 568.7L647.6 573.1L640.2 568.7L640.2 560.1Z"/>
<path fill="#641A80" d="M625.4 542.7L632.8 547.1L632.8 555.7L625.4 560.1L617.9 555.7L617.9 547.1Z"/>
<path fill="#451274" d="M632.8 529.7L640.2 534.1L640.2 542.7L632.8 547.1L625.4 542.7L625.4 534.1ZM640.2 542.7L647.6 547.1L647.6 555.7L640.2 560.1L632.8 555.7L632.8 547.1Z"/>
<path fill="#280E53" d="M662.5 373.7L669.9 378.1L669.9 386.7L662.5 391.1L655.0 386.7L655.0 378.1Z"/></g>
<g stroke="#4a453d" stroke-width="1.5" stroke-linejoin="round"><path fill="#FCF8BA" d="M1178.4 152.7L1185.8 157.1L1185.8 165.7L1178.4 170.1L1171.0 165.7L1171.0 157.1ZM1193.3 152.7L1200.7 157.1L1200.7 165.7L1193.3 170.1L1185.8 165.7L1185.8 157.1ZM1171.0 165.7L1178.4 170.1L1178.4 178.7L1171.0 183.1L1163.6 178.7L1163.6 170.1ZM1185.8 165.7L1193.3 170.1L1193.3 178.7L1185.8 183.1L1178.4 178.7L1178.4 170.1ZM1200.7 165.7L1208.1 170.1L1208.1 178.7L1200.7 183.1L1193.3 178.7L1193.3 170.1ZM1193.3 178.7L1200.7 183.1L1200.7 191.7L1193.3 196.1L1185.8 191.7L1185.8 183.1ZM1208.1 178.7L1215.5 183.1L1215.5 191.7L1208.1 196.1L1200.7 191.7L1200.7 183.1ZM1141.3 191.7L1148.8 196.1L1148.8 204.7L1141.3 209.1L1133.9 204.7L1133.9 196.1ZM1133.9 204.7L1141.3 209.1L1141.3 217.7L1133.9 222.1L1126.5 217.7L1126.5 209.1ZM1148.8 230.7L1156.2 235.1L1156.2 243.7L1148.8 248.1L1141.3 243.7L1141.3 235.1ZM1163.6 256.7L1171.0 261.1L1171.0 269.7L1163.6 274.1L1156.2 269.7L1156.2 261.1ZM1260.0 269.7L1267.5 274.1L1267.5 282.7L1260.0 287.1L1252.6 282.7L1252.6 274.1ZM1252.6 282.7L1260.1 287.1L1260.1 295.7L1252.6 300.1L1245.2 295.7L1245.2 287.1ZM1282.3 282.7L1289.7 287.1L1289.7 295.7L1282.3 300.1L1274.9 295.7L1274.9 287.1ZM1297.2 282.7L1304.6 287.1L1304.6 295.7L1297.2 300.1L1289.7 295.7L1289.7 287.1ZM1260.0 295.7L1267.5 300.1L1267.5 308.7L1260.0 313.1L1252.6 308.7L1252.6 300.1ZM1274.9 295.7L1282.3 300.1L1282.3 308.7L1274.9 313.1L1267.5 308.7L1267.5 300.1ZM1252.6 308.7L1260.1 313.1L1260.1 321.7L1252.6 326.1L1245.2 321.7L1245.2 313.1ZM1282.3 308.7L1289.7 313.1L1289.7 321.7L1282.3 326.1L1274.9 321.7L1274.9 313.1ZM1178.4 334.7L1185.8 339.1L1185.8 347.7L1178.4 352.1L1171.0 347.7L1171.0 339.1ZM1193.3 334.7L1200.7 339.1L1200.7 347.7L1193.3 352.1L1185.8 347.7L1185.8 339.1ZM1082.0 373.7L1089.4 378.1L1089.4 386.7L1082.0 391.1L1074.5 386.7L1074.5 378.1ZM1148.8 386.7L1156.2 391.1L1156.2 399.7L1148.8 404.1L1141.3 399.7L1141.3 391.1ZM1156.2 399.7L1163.6 404.1L1163.6 412.7L1156.2 417.1L1148.8 412.7L1148.8 404.1ZM1215.5 399.7L1223.0 404.1L1223.0 412.7L1215.5 417.1L1208.1 412.7L1208.1 404.1ZM1163.6 412.7L1171.0 417.1L1171.0 425.7L1163.6 430.1L1156.2 425.7L1156.2 417.1ZM1208.1 412.7L1215.5 417.1L1215.5 425.7L1208.1 430.1L1200.7 425.7L1200.7 417.1ZM1126.5 451.7L1133.9 456.1L1133.9 464.7L1126.5 469.1L1119.1 464.7L1119.1 456.1ZM1141.3 451.7L1148.8 456.1L1148.8 464.7L1141.3 469.1L1133.9 464.7L1133.9 456.1ZM1156.2 451.7L1163.6 456.1L1163.6 464.7L1156.2 469.1L1148.8 464.7L1148.8 456.1ZM1148.8 464.7L1156.2 469.1L1156.2 477.7L1148.8 482.1L1141.3 477.7L1141.3 469.1ZM1111.7 477.7L1119.1 482.1L1119.1 490.7L1111.7 495.1L1104.2 490.7L1104.2 482.1ZM1141.3 477.7L1148.8 482.1L1148.8 490.7L1141.3 495.1L1133.9 490.7L1133.9 482.1ZM1104.2 490.7L1111.7 495.1L1111.7 503.7L1104.2 508.1L1096.8 503.7L1096.8 495.1Z"/>
<path fill="#FDECAE" d="M1185.8 139.7L1193.3 144.1L1193.3 152.7L1185.8 157.1L1178.4 152.7L1178.4 144.1ZM1163.6 152.7L1171.0 157.1L1171.0 165.7L1163.6 170.1L1156.2 165.7L1156.2 157.1ZM1208.1 152.7L1215.5 157.1L1215.5 165.7L1208.1 170.1L1200.7 165.7L1200.7 157.1ZM1133.9 178.7L1141.3 183.1L1141.3 191.7L1133.9 196.1L1126.5 191.7L1126.5 183.1ZM1148.8 178.7L1156.2 183.1L1156.2 191.7L1148.8 196.1L1141.3 191.7L1141.3 183.1ZM1163.6 178.7L1171.0 183.1L1171.0 191.7L1163.6 196.1L1156.2 191.7L1156.2 183.1ZM1178.4 178.7L1185.8 183.1L1185.8 191.7L1178.4 196.1L1171.0 191.7L1171.0 183.1ZM1156.2 191.7L1163.6 196.1L1163.6 204.7L1156.2 209.1L1148.8 204.7L1148.8 196.1ZM1148.8 204.7L1156.2 209.1L1156.2 217.7L1148.8 222.1L1141.3 217.7L1141.3 209.1ZM1141.3 217.7L1148.8 222.1L1148.8 230.7L1141.3 235.1L1133.9 230.7L1133.9 222.1ZM1260.0 217.7L1267.5 222.1L1267.5 230.7L1260.0 235.1L1252.6 230.7L1252.6 222.1ZM1274.9 217.7L1282.3 222.1L1282.3 230.7L1274.9 235.1L1267.5 230.7L1267.5 222.1ZM1289.7 217.7L1297.2 222.1L1297.2 230.7L1289.7 235.1L1282.3 230.7L1282.3 222.1ZM1304.6 217.7L1312.0 222.1L1312.0 230.7L1304.6 235.1L1297.1 230.7L1297.1 222.1ZM1133.9 230.7L1141.3 235.1L1141.3 243.7L1133.9 248.1L1126.5 243.7L1126.5 235.1ZM1223.0 230.7L1230.4 235.1L1230.4 243.7L1223.0 248.1L1215.5 243.7L1215.5 235.1ZM1282.3 230.7L1289.7 235.1L1289.7 243.7L1282.3 248.1L1274.9 243.7L1274.9 235.1ZM1297.2 230.7L1304.6 235.1L1304.6 243.7L1297.2 248.1L1289.7 243.7L1289.7 235.1ZM1156.2 243.7L1163.6 248.1L1163.6 256.7L1156.2 261.1L1148.8 256.7L1148.8 248.1ZM1274.9 243.7L1282.3 248.1L1282.3 256.7L1274.9 261.1L1267.5 256.7L1267.5 248.1ZM1289.7 243.7L1297.2 248.1L1297.2 256.7L1289.7 261.1L1282.3 256.7L1282.3 248.1ZM1304.6 243.7L1312.0 248.1L1312.0 256.7L1304.6 261.1L1297.1 256.7L1297.1 248.1ZM1178.4 256.7L1185.8 261.1L1185.8 269.7L1178.4 274.1L1171.0 269.7L1171.0 261.1ZM1193.3 256.7L1200.7 261.1L1200.7 269.7L1193.3 274.1L1185.8 269.7L1185.8 261.1ZM1208.1 256.7L1215.5 261.1L1215.5 269.7L1208.1 274.1L1200.7 269.7L1200.7 261.1ZM1267.5 256.7L1274.9 261.1L1274.9 269.7L1267.5 274.1L1260.0 269.7L1260.0 261.1ZM1282.3 256.7L1289.7 261.1L1289.7 269.7L1282.3 274.1L1274.9 269.7L1274.9 261.1ZM1297.2 256.7L1304.6 261.1L1304.6 269.7L1297.2 274.1L1289.7 269.7L1289.7 261.1ZM1312.0 256.7L1319.4 261.1L1319.4 269.7L1312.0 274.1L1304.6 269.7L1304.6 261.1ZM1230.4 269.7L1237.8 274.1L1237.8 282.7L1230.4 287.1L1222.9 282.7L1222.9 274.1ZM1245.2 269.7L1252.6 274.1L1252.6 282.7L1245.2 287.1L1237.8 282.7L1237.8 274.1ZM1289.7 269.7L1297.2 274.1L1297.2 282.7L1289.7 287.1L1282.3 282.7L1282.3 274.1ZM1304.6 269.7L1312.0 274.1L1312.0 282.7L1304.6 287.1L1297.1 282.7L1297.1 274.1ZM1223.0 282.7L1230.4 287.1L1230.4 295.7L1223.0 300.1L1215.5 295.7L1215.5 287.1ZM1237.8 282.7L1245.2 287.1L1245.2 295.7L1237.8 300.1L1230.4 295.7L1230.4 287.1ZM1267.5 282.7L1274.9 287.1L1274.9 295.7L1267.5 300.1L1260.0 295.7L1260.0 287.1ZM1200.7 295.7L1208.1 300.1L1208.1 308.7L1200.7 313.1L1193.3 308.7L1193.3 300.1ZM1230.4 295.7L1237.8 300.1L1237.8 308.7L1230.4 313.1L1222.9 308.7L1222.9 300.1ZM1245.2 295.7L1252.6 300.1L1252.6 308.7L1245.2 313.1L1237.8 308.7L1237.8 300.1ZM1289.7 295.7L1297.2 300.1L1297.2 308.7L1289.7 313.1L1282.3 308.7L1282.3 300.1ZM1223.0 308.7L1230.4 313.1L1230.4 321.7L1223.0 326.1L1215.5 321.7L1215.5 313.1ZM1237.8 308.7L1245.2 313.1L1245.2 321.7L1237.8 326.1L1230.4 321.7L1230.4 313.1ZM1267.5 308.7L1274.9 313.1L1274.9 321.7L1267.5 326.1L1260.0 321.7L1260.0 313.1ZM1185.8 321.7L1193.3 326.1L1193.3 334.7L1185.8 339.1L1178.4 334.7L1178.4 326.1ZM1200.7 321.7L1208.1 326.1L1208.1 334.7L1200.7 339.1L1193.3 334.7L1193.3 326.1ZM1230.4 321.7L1237.8 326.1L1237.8 334.7L1230.4 339.1L1222.9 334.7L1222.9 326.1ZM1245.2 321.7L1252.6 326.1L1252.6 334.7L1245.2 339.1L1237.8 334.7L1237.8 326.1ZM1260.0 321.7L1267.5 326.1L1267.5 334.7L1260.0 339.1L1252.6 334.7L1252.6 326.1ZM1274.9 321.7L1282.3 326.1L1282.3 334.7L1274.9 339.1L1267.5 334.7L1267.5 326.1ZM1163.6 334.7L1171.0 339.1L1171.0 347.7L1163.6 352.1L1156.2 347.7L1156.2 339.1ZM1223.0 334.7L1230.4 339.1L1230.4 347.7L1223.0 352.1L1215.5 347.7L1215.5 339.1ZM1237.8 334.7L1245.2 339.1L1245.2 347.7L1237.8 352.1L1230.4 347.7L1230.4 339.1ZM1252.6 334.7L1260.1 339.1L1260.1 347.7L1252.6 352.1L1245.2 347.7L1245.2 339.1ZM1267.5 334.7L1274.9 339.1L1274.9 347.7L1267.5 352.1L1260.0 347.7L1260.0 339.1ZM1215.5 347.7L1223.0 352.1L1223.0 360.7L1215.5 365.1L1208.1 360.7L1208.1 352.1ZM1230.4 347.7L1237.8 352.1L1237.8 360.7L1230.4 365.1L1222.9 360.7L1222.9 352.1ZM1245.2 347.7L1252.6 352.1L1252.6 360.7L1245.2 365.1L1237.8 360.7L1237.8 352.1ZM1119.1 360.7L1126.5 365.1L1126.5 373.7L1119.1 378.1L1111.6 373.7L1111.6 365.1ZM1193.3 360.7L1200.7 365.1L1200.7 373.7L1193.3 378.1L1185.8 373.7L1185.8 365.1ZM1208.1 360.7L1215.5 365.1L1215.5 373.7L1208.1 378.1L1200.7 373.7L1200.7 365.1ZM1223.0 360.7L1230.4 365.1L1230.4 373.7L1223.0 378.1L1215.5 373.7L1215.5 365.1ZM1237.8 360.7L1245.2 365.1L1245.2 373.7L1237.8 378.1L1230.4 373.7L1230.4 365.1ZM1111.7 373.7L1119.1 378.1L1119.1 386.7L1111.7 391.1L1104.2 386.7L1104.2 378.1ZM1171.0 373.7L1178.4 378.1L1178.4 386.7L1171.0 391.1L1163.6 386.7L1163.6 378.1ZM1185.8 373.7L1193.3 378.1L1193.3 386.7L1185.8 391.1L1178.4 386.7L1178.4 378.1ZM1200.7 373.7L1208.1 378.1L1208.1 386.7L1200.7 391.1L1193.3 386.7L1193.3 378.1ZM1215.5 373.7L1223.0 378.1L1223.0 386.7L1215.5 391.1L1208.1 386.7L1208.1 378.1ZM1230.4 373.7L1237.8 378.1L1237.8 386.7L1230.4 391.1L1222.9 386.7L1222.9 378.1ZM1000.4 386.7L1007.8 391.1L1007.8 399.7L1000.4 404.1L992.9 399.7L992.9 391.1ZM1119.1 386.7L1126.5 391.1L1126.5 399.7L1119.1 404.1L1111.6 399.7L1111.6 391.1ZM1133.9 386.7L1141.3 391.1L1141.3 399.7L1133.9 404.1L1126.5 399.7L1126.5 391.1ZM1163.6 386.7L1171.0 391.1L1171.0 399.7L1163.6 404.1L1156.2 399.7L1156.2 391.1ZM1178.4 386.7L1185.8 391.1L1185.8 399.7L1178.4 404.1L1171.0 399.7L1171.0 391.1ZM1193.3 386.7L1200.7 391.1L1200.7 399.7L1193.3 404.1L1185.8 399.7L1185.8 391.1ZM1208.1 386.7L1215.5 391.1L1215.5 399.7L1208.1 404.1L1200.7 399.7L1200.7 391.1ZM1223.0 386.7L1230.4 391.1L1230.4 399.7L1223.0 404.1L1215.5 399.7L1215.5 391.1ZM1111.7 399.7L1119.1 404.1L1119.1 412.7L1111.7 417.1L1104.2 412.7L1104.2 404.1ZM1141.3 399.7L1148.8 404.1L1148.8 412.7L1141.3 417.1L1133.9 412.7L1133.9 404.1ZM1171.0 399.7L1178.4 404.1L1178.4 412.7L1171.0 417.1L1163.6 412.7L1163.6 404.1ZM1185.8 399.7L1193.3 404.1L1193.3 412.7L1185.8 417.1L1178.4 412.7L1178.4 404.1ZM1200.7 399.7L1208.1 404.1L1208.1 412.7L1200.7 417.1L1193.3 412.7L1193.3 404.1ZM1119.1 412.7L1126.5 417.1L1126.5 425.7L1119.1 430.1L1111.6 425.7L1111.6 417.1ZM1133.9 412.7L1141.3 417.1L1141.3 425.7L1133.9 430.1L1126.5 425.7L1126.5 417.1ZM1148.8 412.7L1156.2 417.1L1156.2 425.7L1148.8 430.1L1141.3 425.7L1141.3 417.1ZM1178.4 412.7L1185.8 417.1L1185.8 425.7L1178.4 430.1L1171.0 425.7L1171.0 417.1ZM1193.3 412.7L1200.7 417.1L1200.7 425.7L1193.3 430.1L1185.8 425.7L1185.8 417.1ZM1111.7 425.7L1119.1 430.1L1119.1 438.7L1111.7 443.1L1104.2 438.7L1104.2 430.1ZM1141.3 425.7L1148.8 430.1L1148.8 438.7L1141.3 443.1L1133.9 438.7L1133.9 430.1ZM1156.2 425.7L1163.6 430.1L1163.6 438.7L1156.2 443.1L1148.8 438.7L1148.8 430.1ZM1171.0 425.7L1178.4 430.1L1178.4 438.7L1171.0 443.1L1163.6 438.7L1163.6 430.1ZM1185.8 425.7L1193.3 430.1L1193.3 438.7L1185.8 443.1L1178.4 438.7L1178.4 430.1ZM1119.1 438.7L1126.5 443.1L1126.5 451.7L1119.1 456.1L1111.6 451.7L1111.6 443.1ZM1133.9 438.7L1141.3 443.1L1141.3 451.7L1133.9 456.1L1126.5 451.7L1126.5 443.1ZM1148.8 438.7L1156.2 443.1L1156.2 451.7L1148.8 456.1L1141.3 451.7L1141.3 443.1ZM1163.6 438.7L1171.0 443.1L1171.0 451.7L1163.6 456.1L1156.2 451.7L1156.2 443.1ZM1111.7 451.7L1119.1 456.1L1119.1 464.7L1111.7 469.1L1104.2 464.7L1104.2 456.1ZM1104.2 464.7L1111.7 469.1L1111.7 477.7L1104.2 482.1L1096.8 477.7L1096.8 469.1ZM1133.9 464.7L1141.3 469.1L1141.3 477.7L1133.9 482.1L1126.5 477.7L1126.5 469.1ZM1163.6 464.7L1171.0 469.1L1171.0 477.7L1163.6 482.1L1156.2 477.7L1156.2 469.1ZM1156.2 477.7L1163.6 482.1L1163.6 490.7L1156.2 495.1L1148.8 490.7L1148.8 482.1ZM1171.0 477.7L1178.4 482.1L1178.4 490.7L1171.0 495.1L1163.6 490.7L1163.6 482.1ZM1119.1 490.7L1126.5 495.1L1126.5 503.7L1119.1 508.1L1111.6 503.7L1111.6 495.1ZM1111.7 503.7L1119.1 508.1L1119.1 516.7L1111.7 521.1L1104.2 516.7L1104.2 508.1ZM1156.2 503.7L1163.6 508.1L1163.6 516.7L1156.2 521.1L1148.8 516.7L1148.8 508.1ZM1171.0 503.7L1178.4 508.1L1178.4 516.7L1171.0 521.1L1163.6 516.7L1163.6 508.1ZM1133.9 516.7L1141.3 521.1L1141.3 529.7L1133.9 534.1L1126.5 529.7L1126.5 521.1Z"/>
<path fill="#FED598" d="M1119.1 126.7L1126.5 131.1L1126.5 139.7L1119.1 144.1L1111.6 139.7L1111.6 131.1ZM1141.3 139.7L1148.8 144.1L1148.8 152.7L1141.3 157.1L1133.9 152.7L1133.9 144.1ZM1133.9 152.7L1141.3 157.1L1141.3 165.7L1133.9 170.1L1126.5 165.7L1126.5 157.1ZM1141.3 165.7L1148.8 170.1L1148.8 178.7L1141.3 183.1L1133.9 178.7L1133.9 170.1ZM1156.2 165.7L1163.6 170.1L1163.6 178.7L1156.2 183.1L1148.8 178.7L1148.8 170.1ZM1171.0 191.7L1178.4 196.1L1178.4 204.7L1171.0 209.1L1163.6 204.7L1163.6 196.1ZM1185.8 191.7L1193.3 196.1L1193.3 204.7L1185.8 209.1L1178.4 204.7L1178.4 196.1ZM1245.2 191.7L1252.6 196.1L1252.6 204.7L1245.2 209.1L1237.8 204.7L1237.8 196.1ZM1260.0 191.7L1267.5 196.1L1267.5 204.7L1260.0 209.1L1252.6 204.7L1252.6 196.1ZM1163.6 204.7L1171.0 209.1L1171.0 217.7L1163.6 222.1L1156.2 217.7L1156.2 209.1ZM1178.4 204.7L1185.8 209.1L1185.8 217.7L1178.4 222.1L1171.0 217.7L1171.0 209.1ZM1223.0 204.7L1230.4 209.1L1230.4 217.7L1223.0 222.1L1215.5 217.7L1215.5 209.1ZM1237.8 204.7L1245.2 209.1L1245.2 217.7L1237.8 222.1L1230.4 217.7L1230.4 209.1ZM1282.3 204.7L1289.7 209.1L1289.7 217.7L1282.3 222.1L1274.9 217.7L1274.9 209.1ZM1297.2 204.7L1304.6 209.1L1304.6 217.7L1297.2 222.1L1289.7 217.7L1289.7 209.1ZM1156.2 217.7L1163.6 222.1L1163.6 230.7L1156.2 235.1L1148.8 230.7L1148.8 222.1ZM1171.0 217.7L1178.4 222.1L1178.4 230.7L1171.0 235.1L1163.6 230.7L1163.6 222.1ZM1200.7 217.7L1208.1 222.1L1208.1 230.7L1200.7 235.1L1193.3 230.7L1193.3 222.1ZM1215.5 217.7L1223.0 222.1L1223.0 230.7L1215.5 235.1L1208.1 230.7L1208.1 222.1ZM1230.4 217.7L1237.8 222.1L1237.8 230.7L1230.4 235.1L1222.9 230.7L1222.9 222.1ZM1163.6 230.7L1171.0 235.1L1171.0 243.7L1163.6 248.1L1156.2 243.7L1156.2 235.1ZM1208.1 230.7L1215.5 235.1L1215.5 243.7L1208.1 248.1L1200.7 243.7L1200.7 235.1ZM1237.8 230.7L1245.2 235.1L1245.2 243.7L1237.8 248.1L1230.4 243.7L1230.4 235.1ZM1267.5 230.7L1274.9 235.1L1274.9 243.7L1267.5 248.1L1260.0 243.7L1260.0 235.1ZM1312.0 230.7L1319.4 235.1L1319.4 243.7L1312.0 248.1L1304.6 243.7L1304.6 235.1ZM1141.3 243.7L1148.8 248.1L1148.8 256.7L1141.3 261.1L1133.9 256.7L1133.9 248.1ZM1171.0 243.7L1178.4 248.1L1178.4 256.7L1171.0 261.1L1163.6 256.7L1163.6 248.1ZM1185.8 243.7L1193.3 248.1L1193.3 256.7L1185.8 261.1L1178.4 256.7L1178.4 248.1ZM1215.5 243.7L1223.0 248.1L1223.0 256.7L1215.5 261.1L1208.1 256.7L1208.1 248.1ZM1230.4 243.7L1237.8 248.1L1237.8 256.7L1230.4 261.1L1222.9 256.7L1222.9 248.1ZM1260.0 243.7L1267.5 248.1L1267.5 256.7L1260.0 261.1L1252.6 256.7L1252.6 248.1ZM1223.0 256.7L1230.4 261.1L1230.4 269.7L1223.0 274.1L1215.5 269.7L1215.5 261.1ZM1237.8 256.7L1245.2 261.1L1245.2 269.7L1237.8 274.1L1230.4 269.7L1230.4 261.1ZM1252.6 256.7L1260.1 261.1L1260.1 269.7L1252.6 274.1L1245.2 269.7L1245.2 261.1ZM1052.3 269.7L1059.7 274.1L1059.7 282.7L1052.3 287.1L1044.9 282.7L1044.9 274.1ZM1171.0 269.7L1178.4 274.1L1178.4 282.7L1171.0 287.1L1163.6 282.7L1163.6 274.1ZM1185.8 269.7L1193.3 274.1L1193.3 282.7L1185.8 287.1L1178.4 282.7L1178.4 274.1ZM1200.7 269.7L1208.1 274.1L1208.1 282.7L1200.7 287.1L1193.3 282.7L1193.3 274.1ZM1274.9 269.7L1282.3 274.1L1282.3 282.7L1274.9 287.1L1267.5 282.7L1267.5 274.1ZM1148.8 282.7L1156.2 287.1L1156.2 295.7L1148.8 300.1L1141.3 295.7L1141.3 287.1ZM1208.1 282.7L1215.5 287.1L1215.5 295.7L1208.1 300.1L1200.7 295.7L1200.7 287.1ZM1141.3 295.7L1148.8 300.1L1148.8 308.7L1141.3 313.1L1133.9 308.7L1133.9 300.1ZM1215.5 295.7L1223.0 300.1L1223.0 308.7L1215.5 313.1L1208.1 308.7L1208.1 300.1ZM1082.0 321.7L1089.4 326.1L1089.4 334.7L1082.0 339.1L1074.5 334.7L1074.5 326.1ZM1126.5 321.7L1133.9 326.1L1133.9 334.7L1126.5 339.1L1119.1 334.7L1119.1 326.1ZM1119.1 334.7L1126.5 339.1L1126.5 347.7L1119.1 352.1L1111.6 347.7L1111.6 339.1ZM1148.8 334.7L1156.2 339.1L1156.2 347.7L1148.8 352.1L1141.3 347.7L1141.3 339.1ZM1208.1 334.7L1215.5 339.1L1215.5 347.7L1208.1 352.1L1200.7 347.7L1200.7 339.1ZM1007.8 347.7L1015.2 352.1L1015.2 360.7L1007.8 365.1L1000.4 360.7L1000.4 352.1ZM1111.7 347.7L1119.1 352.1L1119.1 360.7L1111.7 365.1L1104.2 360.7L1104.2 352.1ZM1126.5 347.7L1133.9 352.1L1133.9 360.7L1126.5 365.1L1119.1 360.7L1119.1 352.1ZM1141.3 347.7L1148.8 352.1L1148.8 360.7L1141.3 365.1L1133.9 360.7L1133.9 352.1ZM1156.2 347.7L1163.6 352.1L1163.6 360.7L1156.2 365.1L1148.8 360.7L1148.8 352.1ZM1171.0 347.7L1178.4 352.1L1178.4 360.7L1171.0 365.1L1163.6 360.7L1163.6 352.1ZM1185.8 347.7L1193.3 352.1L1193.3 360.7L1185.8 365.1L1178.4 360.7L1178.4 352.1ZM1200.7 347.7L1208.1 352.1L1208.1 360.7L1200.7 365.1L1193.3 360.7L1193.3 352.1ZM1260.0 347.7L1267.5 352.1L1267.5 360.7L1260.0 365.1L1252.6 360.7L1252.6 352.1ZM1000.4 360.7L1007.8 365.1L1007.8 373.7L1000.4 378.1L992.9 373.7L992.9 365.1ZM1015.2 360.7L1022.6 365.1L1022.6 373.7L1015.2 378.1L1007.8 373.7L1007.8 365.1ZM1089.4 360.7L1096.8 365.1L1096.8 373.7L1089.4 378.1L1082.0 373.7L1082.0 365.1ZM1104.2 360.7L1111.7 365.1L1111.7 373.7L1104.2 378.1L1096.8 373.7L1096.8 365.1ZM1133.9 360.7L1141.3 365.1L1141.3 373.7L1133.9 378.1L1126.5 373.7L1126.5 365.1ZM1148.8 360.7L1156.2 365.1L1156.2 373.7L1148.8 378.1L1141.3 373.7L1141.3 365.1ZM1163.6 360.7L1171.0 365.1L1171.0 373.7L1163.6 378.1L1156.2 373.7L1156.2 365.1ZM1178.4 360.7L1185.8 365.1L1185.8 373.7L1178.4 378.1L1171.0 373.7L1171.0 365.1ZM992.9 373.7L1000.3 378.1L1000.3 386.7L992.9 391.1L985.5 386.7L985.5 378.1ZM1007.8 373.7L1015.2 378.1L1015.2 386.7L1007.8 391.1L1000.4 386.7L1000.4 378.1ZM1067.1 373.7L1074.6 378.1L1074.6 386.7L1067.1 391.1L1059.7 386.7L1059.7 378.1ZM1096.8 373.7L1104.2 378.1L1104.2 386.7L1096.8 391.1L1089.4 386.7L1089.4 378.1ZM1126.5 373.7L1133.9 378.1L1133.9 386.7L1126.5 391.1L1119.1 386.7L1119.1 378.1ZM1141.3 373.7L1148.8 378.1L1148.8 386.7L1141.3 391.1L1133.9 386.7L1133.9 378.1ZM1156.2 373.7L1163.6 378.1L1163.6 386.7L1156.2 391.1L1148.8 386.7L1148.8 378.1ZM1015.2 386.7L1022.6 391.1L1022.6 399.7L1015.2 404.1L1007.8 399.7L1007.8 391.1ZM1104.2 386.7L1111.7 391.1L1111.7 399.7L1104.2 404.1L1096.8 399.7L1096.8 391.1ZM1082.0 399.7L1089.4 404.1L1089.4 412.7L1082.0 417.1L1074.5 412.7L1074.5 404.1ZM1126.5 399.7L1133.9 404.1L1133.9 412.7L1126.5 417.1L1119.1 412.7L1119.1 404.1ZM1089.4 412.7L1096.8 417.1L1096.8 425.7L1089.4 430.1L1082.0 425.7L1082.0 417.1ZM1104.2 412.7L1111.7 417.1L1111.7 425.7L1104.2 430.1L1096.8 425.7L1096.8 417.1ZM1126.5 425.7L1133.9 430.1L1133.9 438.7L1126.5 443.1L1119.1 438.7L1119.1 430.1ZM1178.4 438.7L1185.8 443.1L1185.8 451.7L1178.4 456.1L1171.0 451.7L1171.0 443.1ZM1096.8 451.7L1104.2 456.1L1104.2 464.7L1096.8 469.1L1089.4 464.7L1089.4 456.1ZM1171.0 451.7L1178.4 456.1L1178.4 464.7L1171.0 469.1L1163.6 464.7L1163.6 456.1ZM1119.1 464.7L1126.5 469.1L1126.5 477.7L1119.1 482.1L1111.6 477.7L1111.6 469.1ZM1096.8 477.7L1104.2 482.1L1104.2 490.7L1096.8 495.1L1089.4 490.7L1089.4 482.1ZM1133.9 490.7L1141.3 495.1L1141.3 503.7L1133.9 508.1L1126.5 503.7L1126.5 495.1ZM1148.8 490.7L1156.2 495.1L1156.2 503.7L1148.8 508.1L1141.3 503.7L1141.3 495.1ZM1163.6 490.7L1171.0 495.1L1171.0 503.7L1163.6 508.1L1156.2 503.7L1156.2 495.1ZM1082.0 503.7L1089.4 508.1L1089.4 516.7L1082.0 521.1L1074.5 516.7L1074.5 508.1ZM1126.5 503.7L1133.9 508.1L1133.9 516.7L1126.5 521.1L1119.1 516.7L1119.1 508.1ZM1141.3 503.7L1148.8 508.1L1148.8 516.7L1141.3 521.1L1133.9 516.7L1133.9 508.1ZM1148.8 516.7L1156.2 521.1L1156.2 529.7L1148.8 534.1L1141.3 529.7L1141.3 521.1ZM1163.6 516.7L1171.0 521.1L1171.0 529.7L1163.6 534.1L1156.2 529.7L1156.2 521.1ZM1178.4 516.7L1185.8 521.1L1185.8 529.7L1178.4 534.1L1171.0 529.7L1171.0 521.1ZM1141.3 529.7L1148.8 534.1L1148.8 542.7L1141.3 547.1L1133.9 542.7L1133.9 534.1ZM1156.2 529.7L1163.6 534.1L1163.6 542.7L1156.2 547.1L1148.8 542.7L1148.8 534.1ZM1171.0 529.7L1178.4 534.1L1178.4 542.7L1171.0 547.1L1163.6 542.7L1163.6 534.1Z"/>
<path fill="#FEB780" d="M1163.6 126.7L1171.0 131.1L1171.0 139.7L1163.6 144.1L1156.2 139.7L1156.2 131.1ZM1148.8 152.7L1156.2 157.1L1156.2 165.7L1148.8 170.1L1141.3 165.7L1141.3 157.1ZM1126.5 165.7L1133.9 170.1L1133.9 178.7L1126.5 183.1L1119.1 178.7L1119.1 170.1ZM1215.5 165.7L1223.0 170.1L1223.0 178.7L1215.5 183.1L1208.1 178.7L1208.1 170.1ZM1096.8 191.7L1104.2 196.1L1104.2 204.7L1096.8 209.1L1089.4 204.7L1089.4 196.1ZM1200.7 191.7L1208.1 196.1L1208.1 204.7L1200.7 209.1L1193.3 204.7L1193.3 196.1ZM1193.3 204.7L1200.7 209.1L1200.7 217.7L1193.3 222.1L1185.8 217.7L1185.8 209.1ZM1252.6 204.7L1260.1 209.1L1260.1 217.7L1252.6 222.1L1245.2 217.7L1245.2 209.1ZM1267.5 204.7L1274.9 209.1L1274.9 217.7L1267.5 222.1L1260.0 217.7L1260.0 209.1ZM1185.8 217.7L1193.3 222.1L1193.3 230.7L1185.8 235.1L1178.4 230.7L1178.4 222.1ZM1245.2 217.7L1252.6 222.1L1252.6 230.7L1245.2 235.1L1237.8 230.7L1237.8 222.1ZM1178.4 230.7L1185.8 235.1L1185.8 243.7L1178.4 248.1L1171.0 243.7L1171.0 235.1ZM1252.6 230.7L1260.1 235.1L1260.1 243.7L1252.6 248.1L1245.2 243.7L1245.2 235.1ZM1156.2 269.7L1163.6 274.1L1163.6 282.7L1156.2 287.1L1148.8 282.7L1148.8 274.1ZM1215.5 269.7L1223.0 274.1L1223.0 282.7L1215.5 287.1L1208.1 282.7L1208.1 274.1ZM1163.6 282.7L1171.0 287.1L1171.0 295.7L1163.6 300.1L1156.2 295.7L1156.2 287.1ZM1193.3 282.7L1200.7 287.1L1200.7 295.7L1193.3 300.1L1185.8 295.7L1185.8 287.1ZM1037.5 295.7L1044.9 300.1L1044.9 308.7L1037.5 313.1L1030.0 308.7L1030.0 300.1ZM1126.5 295.7L1133.9 300.1L1133.9 308.7L1126.5 313.1L1119.1 308.7L1119.1 300.1ZM1156.2 295.7L1163.6 300.1L1163.6 308.7L1156.2 313.1L1148.8 308.7L1148.8 300.1ZM1171.0 295.7L1178.4 300.1L1178.4 308.7L1171.0 313.1L1163.6 308.7L1163.6 300.1ZM1119.1 308.7L1126.5 313.1L1126.5 321.7L1119.1 326.1L1111.6 321.7L1111.6 313.1ZM1133.9 308.7L1141.3 313.1L1141.3 321.7L1133.9 326.1L1126.5 321.7L1126.5 313.1ZM1163.6 308.7L1171.0 313.1L1171.0 321.7L1163.6 326.1L1156.2 321.7L1156.2 313.1ZM1178.4 308.7L1185.8 313.1L1185.8 321.7L1178.4 326.1L1171.0 321.7L1171.0 313.1ZM1193.3 308.7L1200.7 313.1L1200.7 321.7L1193.3 326.1L1185.8 321.7L1185.8 313.1ZM1208.1 308.7L1215.5 313.1L1215.5 321.7L1208.1 326.1L1200.7 321.7L1200.7 313.1ZM1037.5 321.7L1044.9 326.1L1044.9 334.7L1037.5 339.1L1030.0 334.7L1030.0 326.1ZM1067.1 321.7L1074.6 326.1L1074.6 334.7L1067.1 339.1L1059.7 334.7L1059.7 326.1ZM1111.7 321.7L1119.1 326.1L1119.1 334.7L1111.7 339.1L1104.2 334.7L1104.2 326.1ZM1215.5 321.7L1223.0 326.1L1223.0 334.7L1215.5 339.1L1208.1 334.7L1208.1 326.1ZM1059.7 334.7L1067.1 339.1L1067.1 347.7L1059.7 352.1L1052.3 347.7L1052.3 339.1ZM1074.5 334.7L1082.0 339.1L1082.0 347.7L1074.5 352.1L1067.1 347.7L1067.1 339.1ZM1089.4 334.7L1096.8 339.1L1096.8 347.7L1089.4 352.1L1082.0 347.7L1082.0 339.1ZM1104.2 334.7L1111.7 339.1L1111.7 347.7L1104.2 352.1L1096.8 347.7L1096.8 339.1ZM1133.9 334.7L1141.3 339.1L1141.3 347.7L1133.9 352.1L1126.5 347.7L1126.5 339.1ZM1096.8 347.7L1104.2 352.1L1104.2 360.7L1096.8 365.1L1089.4 360.7L1089.4 352.1ZM1074.5 386.7L1082.0 391.1L1082.0 399.7L1074.5 404.1L1067.1 399.7L1067.1 391.1ZM992.9 399.7L1000.3 404.1L1000.3 412.7L992.9 417.1L985.5 412.7L985.5 404.1ZM1007.8 399.7L1015.2 404.1L1015.2 412.7L1007.8 417.1L1000.4 412.7L1000.4 404.1ZM1096.8 399.7L1104.2 404.1L1104.2 412.7L1096.8 417.1L1089.4 412.7L1089.4 404.1ZM1074.5 412.7L1082.0 417.1L1082.0 425.7L1074.5 430.1L1067.1 425.7L1067.1 417.1ZM1096.8 425.7L1104.2 430.1L1104.2 438.7L1096.8 443.1L1089.4 438.7L1089.4 430.1ZM1059.7 438.7L1067.1 443.1L1067.1 451.7L1059.7 456.1L1052.3 451.7L1052.3 443.1ZM1104.2 438.7L1111.7 443.1L1111.7 451.7L1104.2 456.1L1096.8 451.7L1096.8 443.1ZM1067.1 451.7L1074.6 456.1L1074.6 464.7L1067.1 469.1L1059.7 464.7L1059.7 456.1ZM1082.0 451.7L1089.4 456.1L1089.4 464.7L1082.0 469.1L1074.5 464.7L1074.5 456.1ZM1089.4 464.7L1096.8 469.1L1096.8 477.7L1089.4 482.1L1082.0 477.7L1082.0 469.1ZM1007.8 477.7L1015.2 482.1L1015.2 490.7L1007.8 495.1L1000.4 490.7L1000.4 482.1ZM1022.6 477.7L1030.0 482.1L1030.0 490.7L1022.6 495.1L1015.2 490.7L1015.2 482.1ZM1067.1 477.7L1074.6 482.1L1074.6 490.7L1067.1 495.1L1059.7 490.7L1059.7 482.1ZM1082.0 477.7L1089.4 482.1L1089.4 490.7L1082.0 495.1L1074.5 490.7L1074.5 482.1ZM1126.5 477.7L1133.9 482.1L1133.9 490.7L1126.5 495.1L1119.1 490.7L1119.1 482.1ZM1000.4 490.7L1007.8 495.1L1007.8 503.7L1000.4 508.1L992.9 503.7L992.9 495.1ZM1030.0 490.7L1037.5 495.1L1037.5 503.7L1030.0 508.1L1022.6 503.7L1022.6 495.1ZM1059.7 490.7L1067.1 495.1L1067.1 503.7L1059.7 508.1L1052.3 503.7L1052.3 495.1ZM1089.4 490.7L1096.8 495.1L1096.8 503.7L1089.4 508.1L1082.0 503.7L1082.0 495.1ZM1052.3 503.7L1059.7 508.1L1059.7 516.7L1052.3 521.1L1044.9 516.7L1044.9 508.1ZM1067.1 503.7L1074.6 508.1L1074.6 516.7L1067.1 521.1L1059.7 516.7L1059.7 508.1ZM1096.8 503.7L1104.2 508.1L1104.2 516.7L1096.8 521.1L1089.4 516.7L1089.4 508.1ZM1059.7 516.7L1067.1 521.1L1067.1 529.7L1059.7 534.1L1052.3 529.7L1052.3 521.1ZM1074.5 516.7L1082.0 521.1L1082.0 529.7L1074.5 534.1L1067.1 529.7L1067.1 521.1ZM1119.1 516.7L1126.5 521.1L1126.5 529.7L1119.1 534.1L1111.6 529.7L1111.6 521.1ZM1067.1 529.7L1074.6 534.1L1074.6 542.7L1067.1 547.1L1059.7 542.7L1059.7 534.1ZM1074.5 542.7L1082.0 547.1L1082.0 555.7L1074.5 560.1L1067.1 555.7L1067.1 547.1ZM1089.4 542.7L1096.8 547.1L1096.8 555.7L1089.4 560.1L1082.0 555.7L1082.0 547.1ZM1015.2 568.7L1022.6 573.1L1022.6 581.7L1015.2 586.1L1007.8 581.7L1007.8 573.1Z"/>
<path fill="#FD996B" d="M1126.5 139.7L1133.9 144.1L1133.9 152.7L1126.5 157.1L1119.1 152.7L1119.1 144.1ZM1171.0 139.7L1178.4 144.1L1178.4 152.7L1171.0 157.1L1163.6 152.7L1163.6 144.1ZM1119.1 152.7L1126.5 157.1L1126.5 165.7L1119.1 170.1L1111.6 165.7L1111.6 157.1ZM1111.7 165.7L1119.1 170.1L1119.1 178.7L1111.7 183.1L1104.2 178.7L1104.2 170.1ZM1119.1 178.7L1126.5 183.1L1126.5 191.7L1119.1 196.1L1111.6 191.7L1111.6 183.1ZM1223.0 178.7L1230.4 183.1L1230.4 191.7L1223.0 196.1L1215.5 191.7L1215.5 183.1ZM1237.8 178.7L1245.2 183.1L1245.2 191.7L1237.8 196.1L1230.4 191.7L1230.4 183.1ZM1126.5 191.7L1133.9 196.1L1133.9 204.7L1126.5 209.1L1119.1 204.7L1119.1 196.1ZM1215.5 191.7L1223.0 196.1L1223.0 204.7L1215.5 209.1L1208.1 204.7L1208.1 196.1ZM1230.4 191.7L1237.8 196.1L1237.8 204.7L1230.4 209.1L1222.9 204.7L1222.9 196.1ZM1208.1 204.7L1215.5 209.1L1215.5 217.7L1208.1 222.1L1200.7 217.7L1200.7 209.1ZM1119.1 230.7L1126.5 235.1L1126.5 243.7L1119.1 248.1L1111.6 243.7L1111.6 235.1ZM1193.3 230.7L1200.7 235.1L1200.7 243.7L1193.3 248.1L1185.8 243.7L1185.8 235.1ZM1111.7 243.7L1119.1 248.1L1119.1 256.7L1111.7 261.1L1104.2 256.7L1104.2 248.1ZM1200.7 243.7L1208.1 248.1L1208.1 256.7L1200.7 261.1L1193.3 256.7L1193.3 248.1ZM1245.2 243.7L1252.6 248.1L1252.6 256.7L1245.2 261.1L1237.8 256.7L1237.8 248.1ZM1133.9 256.7L1141.3 261.1L1141.3 269.7L1133.9 274.1L1126.5 269.7L1126.5 261.1ZM1148.8 256.7L1156.2 261.1L1156.2 269.7L1148.8 274.1L1141.3 269.7L1141.3 261.1ZM1067.1 269.7L1074.6 274.1L1074.6 282.7L1067.1 287.1L1059.7 282.7L1059.7 274.1ZM1096.8 269.7L1104.2 274.1L1104.2 282.7L1096.8 287.1L1089.4 282.7L1089.4 274.1ZM1141.3 269.7L1148.8 274.1L1148.8 282.7L1141.3 287.1L1133.9 282.7L1133.9 274.1ZM1089.4 282.7L1096.8 287.1L1096.8 295.7L1089.4 300.1L1082.0 295.7L1082.0 287.1ZM1104.2 282.7L1111.7 287.1L1111.7 295.7L1104.2 300.1L1096.8 295.7L1096.8 287.1ZM1133.9 282.7L1141.3 287.1L1141.3 295.7L1133.9 300.1L1126.5 295.7L1126.5 287.1ZM1178.4 282.7L1185.8 287.1L1185.8 295.7L1178.4 300.1L1171.0 295.7L1171.0 287.1ZM1052.3 295.7L1059.7 300.1L1059.7 308.7L1052.3 313.1L1044.9 308.7L1044.9 300.1ZM1185.8 295.7L1193.3 300.1L1193.3 308.7L1185.8 313.1L1178.4 308.7L1178.4 300.1ZM1044.9 308.7L1052.3 313.1L1052.3 321.7L1044.9 326.1L1037.4 321.7L1037.4 313.1ZM1059.7 308.7L1067.1 313.1L1067.1 321.7L1059.7 326.1L1052.3 321.7L1052.3 313.1ZM1148.8 308.7L1156.2 313.1L1156.2 321.7L1148.8 326.1L1141.3 321.7L1141.3 313.1ZM1096.8 321.7L1104.2 326.1L1104.2 334.7L1096.8 339.1L1089.4 334.7L1089.4 326.1ZM1141.3 321.7L1148.8 326.1L1148.8 334.7L1141.3 339.1L1133.9 334.7L1133.9 326.1ZM1156.2 321.7L1163.6 326.1L1163.6 334.7L1156.2 339.1L1148.8 334.7L1148.8 326.1ZM1171.0 321.7L1178.4 326.1L1178.4 334.7L1171.0 339.1L1163.6 334.7L1163.6 326.1ZM1082.0 347.7L1089.4 352.1L1089.4 360.7L1082.0 365.1L1074.5 360.7L1074.5 352.1ZM985.5 386.7L992.9 391.1L992.9 399.7L985.5 404.1L978.1 399.7L978.1 391.1ZM1089.4 386.7L1096.8 391.1L1096.8 399.7L1089.4 404.1L1082.0 399.7L1082.0 391.1ZM1022.6 399.7L1030.0 404.1L1030.0 412.7L1022.6 417.1L1015.2 412.7L1015.2 404.1ZM1015.2 412.7L1022.6 417.1L1022.6 425.7L1015.2 430.1L1007.8 425.7L1007.8 417.1ZM1059.7 412.7L1067.1 417.1L1067.1 425.7L1059.7 430.1L1052.3 425.7L1052.3 417.1ZM1067.1 425.7L1074.6 430.1L1074.6 438.7L1067.1 443.1L1059.7 438.7L1059.7 430.1ZM1082.0 425.7L1089.4 430.1L1089.4 438.7L1082.0 443.1L1074.5 438.7L1074.5 430.1ZM1074.5 438.7L1082.0 443.1L1082.0 451.7L1074.5 456.1L1067.1 451.7L1067.1 443.1ZM1052.3 451.7L1059.7 456.1L1059.7 464.7L1052.3 469.1L1044.9 464.7L1044.9 456.1ZM1015.2 490.7L1022.6 495.1L1022.6 503.7L1015.2 508.1L1007.8 503.7L1007.8 495.1ZM1044.9 490.7L1052.3 495.1L1052.3 503.7L1044.9 508.1L1037.4 503.7L1037.4 495.1ZM1022.6 503.7L1030.0 508.1L1030.0 516.7L1022.6 521.1L1015.2 516.7L1015.2 508.1ZM1044.9 516.7L1052.3 521.1L1052.3 529.7L1044.9 534.1L1037.4 529.7L1037.4 521.1ZM1104.2 516.7L1111.7 521.1L1111.7 529.7L1104.2 534.1L1096.8 529.7L1096.8 521.1ZM1082.0 529.7L1089.4 534.1L1089.4 542.7L1082.0 547.1L1074.5 542.7L1074.5 534.1ZM1111.7 529.7L1119.1 534.1L1119.1 542.7L1111.7 547.1L1104.2 542.7L1104.2 534.1ZM1148.8 542.7L1156.2 547.1L1156.2 555.7L1148.8 560.1L1141.3 555.7L1141.3 547.1ZM1111.7 555.7L1119.1 560.1L1119.1 568.7L1111.7 573.1L1104.2 568.7L1104.2 560.1ZM1126.5 555.7L1133.9 560.1L1133.9 568.7L1126.5 573.1L1119.1 568.7L1119.1 560.1Z"/>
<path fill="#F97C60" d="M1156.2 139.7L1163.6 144.1L1163.6 152.7L1156.2 157.1L1148.8 152.7L1148.8 144.1ZM1104.2 178.7L1111.7 183.1L1111.7 191.7L1104.2 196.1L1096.8 191.7L1096.8 183.1ZM1096.8 243.7L1104.2 248.1L1104.2 256.7L1096.8 261.1L1089.4 256.7L1089.4 248.1ZM1126.5 243.7L1133.9 248.1L1133.9 256.7L1126.5 261.1L1119.1 256.7L1119.1 248.1ZM1119.1 256.7L1126.5 261.1L1126.5 269.7L1119.1 274.1L1111.6 269.7L1111.6 261.1ZM1111.7 269.7L1119.1 274.1L1119.1 282.7L1111.7 287.1L1104.2 282.7L1104.2 274.1ZM1126.5 269.7L1133.9 274.1L1133.9 282.7L1126.5 287.1L1119.1 282.7L1119.1 274.1ZM1119.1 282.7L1126.5 287.1L1126.5 295.7L1119.1 300.1L1111.6 295.7L1111.6 287.1ZM1067.1 295.7L1074.6 300.1L1074.6 308.7L1067.1 313.1L1059.7 308.7L1059.7 300.1ZM1082.0 295.7L1089.4 300.1L1089.4 308.7L1082.0 313.1L1074.5 308.7L1074.5 300.1ZM1096.8 295.7L1104.2 300.1L1104.2 308.7L1096.8 313.1L1089.4 308.7L1089.4 300.1ZM1030.0 308.7L1037.5 313.1L1037.5 321.7L1030.0 326.1L1022.6 321.7L1022.6 313.1ZM1089.4 308.7L1096.8 313.1L1096.8 321.7L1089.4 326.1L1082.0 321.7L1082.0 313.1ZM1104.2 308.7L1111.7 313.1L1111.7 321.7L1104.2 326.1L1096.8 321.7L1096.8 313.1ZM1052.3 321.7L1059.7 326.1L1059.7 334.7L1052.3 339.1L1044.9 334.7L1044.9 326.1ZM1074.5 360.7L1082.0 365.1L1082.0 373.7L1074.5 378.1L1067.1 373.7L1067.1 365.1ZM1052.3 425.7L1059.7 430.1L1059.7 438.7L1052.3 443.1L1044.9 438.7L1044.9 430.1ZM1030.0 464.7L1037.5 469.1L1037.5 477.7L1030.0 482.1L1022.6 477.7L1022.6 469.1ZM1059.7 464.7L1067.1 469.1L1067.1 477.7L1059.7 482.1L1052.3 477.7L1052.3 469.1ZM1074.5 464.7L1082.0 469.1L1082.0 477.7L1074.5 482.1L1067.1 477.7L1067.1 469.1ZM1037.5 477.7L1044.9 482.1L1044.9 490.7L1037.5 495.1L1030.0 490.7L1030.0 482.1ZM1074.5 490.7L1082.0 495.1L1082.0 503.7L1074.5 508.1L1067.1 503.7L1067.1 495.1ZM1089.4 516.7L1096.8 521.1L1096.8 529.7L1089.4 534.1L1082.0 529.7L1082.0 521.1ZM1096.8 529.7L1104.2 534.1L1104.2 542.7L1096.8 547.1L1089.4 542.7L1089.4 534.1ZM1119.1 542.7L1126.5 547.1L1126.5 555.7L1119.1 560.1L1111.6 555.7L1111.6 547.1ZM1133.9 542.7L1141.3 547.1L1141.3 555.7L1133.9 560.1L1126.5 555.7L1126.5 547.1Z"/>
<path fill="#EE6160" d="M1126.5 217.7L1133.9 222.1L1133.9 230.7L1126.5 235.1L1119.1 230.7L1119.1 222.1ZM1104.2 230.7L1111.7 235.1L1111.7 243.7L1104.2 248.1L1096.8 243.7L1096.8 235.1ZM1074.5 282.7L1082.0 287.1L1082.0 295.7L1074.5 300.1L1067.1 295.7L1067.1 287.1ZM1111.7 295.7L1119.1 300.1L1119.1 308.7L1111.7 313.1L1104.2 308.7L1104.2 300.1ZM1044.9 334.7L1052.3 339.1L1052.3 347.7L1044.9 352.1L1037.4 347.7L1037.4 339.1ZM1052.3 373.7L1059.7 378.1L1059.7 386.7L1052.3 391.1L1044.9 386.7L1044.9 378.1ZM1089.4 438.7L1096.8 443.1L1096.8 451.7L1089.4 456.1L1082.0 451.7L1082.0 443.1ZM1052.3 477.7L1059.7 482.1L1059.7 490.7L1052.3 495.1L1044.9 490.7L1044.9 482.1ZM1126.5 529.7L1133.9 534.1L1133.9 542.7L1126.5 547.1L1119.1 542.7L1119.1 534.1Z"/>
<path fill="#DE4968" d="M1111.7 191.7L1119.1 196.1L1119.1 204.7L1111.7 209.1L1104.2 204.7L1104.2 196.1ZM1089.4 256.7L1096.8 261.1L1096.8 269.7L1089.4 274.1L1082.0 269.7L1082.0 261.1ZM1082.0 269.7L1089.4 274.1L1089.4 282.7L1082.0 287.1L1074.5 282.7L1074.5 274.1ZM1059.7 282.7L1067.1 287.1L1067.1 295.7L1059.7 300.1L1052.3 295.7L1052.3 287.1ZM1074.5 308.7L1082.0 313.1L1082.0 321.7L1074.5 326.1L1067.1 321.7L1067.1 313.1ZM1037.5 347.7L1044.9 352.1L1044.9 360.7L1037.5 365.1L1030.0 360.7L1030.0 352.1ZM1052.3 347.7L1059.7 352.1L1059.7 360.7L1052.3 365.1L1044.9 360.7L1044.9 352.1ZM1044.9 360.7L1052.3 365.1L1052.3 373.7L1044.9 378.1L1037.4 373.7L1037.4 365.1ZM1059.7 360.7L1067.1 365.1L1067.1 373.7L1059.7 378.1L1052.3 373.7L1052.3 365.1ZM1052.3 399.7L1059.7 404.1L1059.7 412.7L1052.3 417.1L1044.9 412.7L1044.9 404.1ZM1044.9 412.7L1052.3 417.1L1052.3 425.7L1044.9 430.1L1037.4 425.7L1037.4 417.1ZM1044.9 438.7L1052.3 443.1L1052.3 451.7L1044.9 456.1L1037.4 451.7L1037.4 443.1ZM1044.9 464.7L1052.3 469.1L1052.3 477.7L1044.9 482.1L1037.4 477.7L1037.4 469.1ZM1037.5 503.7L1044.9 508.1L1044.9 516.7L1037.5 521.1L1030.0 516.7L1030.0 508.1ZM1022.6 529.7L1030.0 534.1L1030.0 542.7L1022.6 547.1L1015.2 542.7L1015.2 534.1ZM1104.2 542.7L1111.7 547.1L1111.7 555.7L1104.2 560.1L1096.8 555.7L1096.8 547.1ZM1030.0 568.7L1037.5 573.1L1037.5 581.7L1030.0 586.1L1022.6 581.7L1022.6 573.1Z"/>
<path fill="#C13C75" d="M1119.1 204.7L1126.5 209.1L1126.5 217.7L1119.1 222.1L1111.6 217.7L1111.6 209.1ZM1104.2 256.7L1111.7 261.1L1111.7 269.7L1104.2 274.1L1096.8 269.7L1096.8 261.1ZM1030.0 516.7L1037.5 521.1L1037.5 529.7L1030.0 534.1L1022.6 529.7L1022.6 521.1Z"/>
<path fill="#A2307D" d="M1096.8 165.7L1104.2 170.1L1104.2 178.7L1096.8 183.1L1089.4 178.7L1089.4 170.1ZM1104.2 204.7L1111.7 209.1L1111.7 217.7L1104.2 222.1L1096.8 217.7L1096.8 209.1ZM1111.7 217.7L1119.1 222.1L1119.1 230.7L1111.7 235.1L1104.2 230.7L1104.2 222.1ZM1022.6 347.7L1030.0 352.1L1030.0 360.7L1022.6 365.1L1015.2 360.7L1015.2 352.1ZM1067.1 347.7L1074.6 352.1L1074.6 360.7L1067.1 365.1L1059.7 360.7L1059.7 352.1Z"/>
<path fill="#822581" d="M1030.0 334.7L1037.5 339.1L1037.5 347.7L1030.0 352.1L1022.6 347.7L1022.6 339.1ZM1030.0 386.7L1037.5 391.1L1037.5 399.7L1030.0 404.1L1022.6 399.7L1022.6 391.1ZM1044.9 386.7L1052.3 391.1L1052.3 399.7L1044.9 404.1L1037.4 399.7L1037.4 391.1ZM1067.1 399.7L1074.6 404.1L1074.6 412.7L1067.1 417.1L1059.7 412.7L1059.7 404.1ZM1022.6 555.7L1030.0 560.1L1030.0 568.7L1022.6 573.1L1015.2 568.7L1015.2 560.1Z"/>
<path fill="#641A80" d="M1030.0 360.7L1037.5 365.1L1037.5 373.7L1030.0 378.1L1022.6 373.7L1022.6 365.1ZM1059.7 386.7L1067.1 391.1L1067.1 399.7L1059.7 404.1L1052.3 399.7L1052.3 391.1ZM1037.5 399.7L1044.9 404.1L1044.9 412.7L1037.5 417.1L1030.0 412.7L1030.0 404.1ZM1000.4 542.7L1007.8 547.1L1007.8 555.7L1000.4 560.1L992.9 555.7L992.9 547.1Z"/>
<path fill="#451274" d="M1007.8 529.7L1015.2 534.1L1015.2 542.7L1007.8 547.1L1000.4 542.7L1000.4 534.1ZM1015.2 542.7L1022.6 547.1L1022.6 555.7L1015.2 560.1L1007.8 555.7L1007.8 547.1Z"/>
<path fill="#280E53" d="M1037.5 373.7L1044.9 378.1L1044.9 386.7L1037.5 391.1L1030.0 386.7L1030.0 378.1Z"/>
<path fill="#0F0B2A" d="M1022.6 373.7L1030.0 378.1L1030.0 386.7L1022.6 391.1L1015.2 386.7L1015.2 378.1Z"/></g>
<g stroke="#4a453d" stroke-width="1.5" stroke-linejoin="round"><path fill="#FCF8BA" d="M1553.3 152.7L1560.7 157.1L1560.7 165.7L1553.3 170.1L1545.9 165.7L1545.9 157.1ZM1545.9 165.7L1553.3 170.1L1553.3 178.7L1545.9 183.1L1538.4 178.7L1538.4 170.1ZM1560.7 165.7L1568.1 170.1L1568.1 178.7L1560.7 183.1L1553.3 178.7L1553.3 170.1ZM1516.2 191.7L1523.6 196.1L1523.6 204.7L1516.2 209.1L1508.8 204.7L1508.8 196.1ZM1657.2 282.7L1664.6 287.1L1664.6 295.7L1657.2 300.1L1649.7 295.7L1649.7 287.1ZM1649.7 295.7L1657.2 300.1L1657.2 308.7L1649.7 313.1L1642.3 308.7L1642.3 300.1ZM1553.3 334.7L1560.7 339.1L1560.7 347.7L1553.3 352.1L1545.9 347.7L1545.9 339.1ZM1568.1 334.7L1575.5 339.1L1575.5 347.7L1568.1 352.1L1560.7 347.7L1560.7 339.1ZM1501.3 451.7L1508.8 456.1L1508.8 464.7L1501.3 469.1L1493.9 464.7L1493.9 456.1ZM1486.5 477.7L1493.9 482.1L1493.9 490.7L1486.5 495.1L1479.1 490.7L1479.1 482.1ZM1516.2 477.7L1523.6 482.1L1523.6 490.7L1516.2 495.1L1508.8 490.7L1508.8 482.1Z"/>
<path fill="#FDECAE" d="M1538.4 152.7L1545.9 157.1L1545.9 165.7L1538.4 170.1L1531.0 165.7L1531.0 157.1ZM1568.1 152.7L1575.5 157.1L1575.5 165.7L1568.1 170.1L1560.7 165.7L1560.7 157.1ZM1575.5 165.7L1583.0 170.1L1583.0 178.7L1575.5 183.1L1568.1 178.7L1568.1 170.1ZM1508.8 178.7L1516.2 183.1L1516.2 191.7L1508.8 196.1L1501.3 191.7L1501.3 183.1ZM1538.4 178.7L1545.9 183.1L1545.9 191.7L1538.4 196.1L1531.0 191.7L1531.0 183.1ZM1553.3 178.7L1560.7 183.1L1560.7 191.7L1553.3 196.1L1545.9 191.7L1545.9 183.1ZM1568.1 178.7L1575.5 183.1L1575.5 191.7L1568.1 196.1L1560.7 191.7L1560.7 183.1ZM1583.0 178.7L1590.4 183.1L1590.4 191.7L1583.0 196.1L1575.5 191.7L1575.5 183.1ZM1531.0 191.7L1538.4 196.1L1538.4 204.7L1531.0 209.1L1523.6 204.7L1523.6 196.1ZM1508.8 204.7L1516.2 209.1L1516.2 217.7L1508.8 222.1L1501.3 217.7L1501.3 209.1ZM1523.6 204.7L1531.0 209.1L1531.0 217.7L1523.6 222.1L1516.2 217.7L1516.2 209.1ZM1516.2 217.7L1523.6 222.1L1523.6 230.7L1516.2 235.1L1508.8 230.7L1508.8 222.1ZM1634.9 217.7L1642.3 222.1L1642.3 230.7L1634.9 235.1L1627.5 230.7L1627.5 222.1ZM1649.7 217.7L1657.2 222.1L1657.2 230.7L1649.7 235.1L1642.3 230.7L1642.3 222.1ZM1664.6 217.7L1672.0 222.1L1672.0 230.7L1664.6 235.1L1657.2 230.7L1657.2 222.1ZM1679.4 217.7L1686.8 222.1L1686.8 230.7L1679.4 235.1L1672.0 230.7L1672.0 222.1ZM1523.6 230.7L1531.0 235.1L1531.0 243.7L1523.6 248.1L1516.2 243.7L1516.2 235.1ZM1657.2 230.7L1664.6 235.1L1664.6 243.7L1657.2 248.1L1649.7 243.7L1649.7 235.1ZM1672.0 230.7L1679.4 235.1L1679.4 243.7L1672.0 248.1L1664.6 243.7L1664.6 235.1ZM1531.0 243.7L1538.4 248.1L1538.4 256.7L1531.0 261.1L1523.6 256.7L1523.6 248.1ZM1649.7 243.7L1657.2 248.1L1657.2 256.7L1649.7 261.1L1642.3 256.7L1642.3 248.1ZM1664.6 243.7L1672.0 248.1L1672.0 256.7L1664.6 261.1L1657.2 256.7L1657.2 248.1ZM1679.4 243.7L1686.8 248.1L1686.8 256.7L1679.4 261.1L1672.0 256.7L1672.0 248.1ZM1538.4 256.7L1545.9 261.1L1545.9 269.7L1538.4 274.1L1531.0 269.7L1531.0 261.1ZM1553.3 256.7L1560.7 261.1L1560.7 269.7L1553.3 274.1L1545.9 269.7L1545.9 261.1ZM1642.3 256.7L1649.7 261.1L1649.7 269.7L1642.3 274.1L1634.9 269.7L1634.9 261.1ZM1657.2 256.7L1664.6 261.1L1664.6 269.7L1657.2 274.1L1649.7 269.7L1649.7 261.1ZM1672.0 256.7L1679.4 261.1L1679.4 269.7L1672.0 274.1L1664.6 269.7L1664.6 261.1ZM1686.8 256.7L1694.3 261.1L1694.3 269.7L1686.8 274.1L1679.4 269.7L1679.4 261.1ZM1620.1 269.7L1627.5 274.1L1627.5 282.7L1620.1 287.1L1612.6 282.7L1612.6 274.1ZM1634.9 269.7L1642.3 274.1L1642.3 282.7L1634.9 287.1L1627.5 282.7L1627.5 274.1ZM1612.6 282.7L1620.1 287.1L1620.1 295.7L1612.6 300.1L1605.2 295.7L1605.2 287.1ZM1627.5 282.7L1634.9 287.1L1634.9 295.7L1627.5 300.1L1620.1 295.7L1620.1 287.1ZM1642.3 282.7L1649.7 287.1L1649.7 295.7L1642.3 300.1L1634.9 295.7L1634.9 287.1ZM1672.0 282.7L1679.4 287.1L1679.4 295.7L1672.0 300.1L1664.6 295.7L1664.6 287.1ZM1575.5 295.7L1583.0 300.1L1583.0 308.7L1575.5 313.1L1568.1 308.7L1568.1 300.1ZM1605.2 295.7L1612.6 300.1L1612.6 308.7L1605.2 313.1L1597.8 308.7L1597.8 300.1ZM1634.9 295.7L1642.3 300.1L1642.3 308.7L1634.9 313.1L1627.5 308.7L1627.5 300.1ZM1664.6 295.7L1672.0 300.1L1672.0 308.7L1664.6 313.1L1657.2 308.7L1657.2 300.1ZM1597.8 308.7L1605.2 313.1L1605.2 321.7L1597.8 326.1L1590.4 321.7L1590.4 313.1ZM1612.6 308.7L1620.1 313.1L1620.1 321.7L1612.6 326.1L1605.2 321.7L1605.2 313.1ZM1627.5 308.7L1634.9 313.1L1634.9 321.7L1627.5 326.1L1620.1 321.7L1620.1 313.1ZM1642.3 308.7L1649.7 313.1L1649.7 321.7L1642.3 326.1L1634.9 321.7L1634.9 313.1ZM1657.2 308.7L1664.6 313.1L1664.6 321.7L1657.2 326.1L1649.7 321.7L1649.7 313.1ZM1560.7 321.7L1568.1 326.1L1568.1 334.7L1560.7 339.1L1553.3 334.7L1553.3 326.1ZM1575.5 321.7L1583.0 326.1L1583.0 334.7L1575.5 339.1L1568.1 334.7L1568.1 326.1ZM1605.2 321.7L1612.6 326.1L1612.6 334.7L1605.2 339.1L1597.8 334.7L1597.8 326.1ZM1620.1 321.7L1627.5 326.1L1627.5 334.7L1620.1 339.1L1612.6 334.7L1612.6 326.1ZM1634.9 321.7L1642.3 326.1L1642.3 334.7L1634.9 339.1L1627.5 334.7L1627.5 326.1ZM1649.7 321.7L1657.2 326.1L1657.2 334.7L1649.7 339.1L1642.3 334.7L1642.3 326.1ZM1538.4 334.7L1545.9 339.1L1545.9 347.7L1538.4 352.1L1531.0 347.7L1531.0 339.1ZM1597.8 334.7L1605.2 339.1L1605.2 347.7L1597.8 352.1L1590.4 347.7L1590.4 339.1ZM1612.6 334.7L1620.1 339.1L1620.1 347.7L1612.6 352.1L1605.2 347.7L1605.2 339.1ZM1590.4 347.7L1597.8 352.1L1597.8 360.7L1590.4 365.1L1583.0 360.7L1583.0 352.1ZM1605.2 347.7L1612.6 352.1L1612.6 360.7L1605.2 365.1L1597.8 360.7L1597.8 352.1ZM1620.1 347.7L1627.5 352.1L1627.5 360.7L1620.1 365.1L1612.6 360.7L1612.6 352.1ZM1493.9 360.7L1501.3 365.1L1501.3 373.7L1493.9 378.1L1486.5 373.7L1486.5 365.1ZM1583.0 360.7L1590.4 365.1L1590.4 373.7L1583.0 378.1L1575.5 373.7L1575.5 365.1ZM1597.8 360.7L1605.2 365.1L1605.2 373.7L1597.8 378.1L1590.4 373.7L1590.4 365.1ZM1612.6 360.7L1620.1 365.1L1620.1 373.7L1612.6 378.1L1605.2 373.7L1605.2 365.1ZM1456.8 373.7L1464.2 378.1L1464.2 386.7L1456.8 391.1L1449.4 386.7L1449.4 378.1ZM1486.5 373.7L1493.9 378.1L1493.9 386.7L1486.5 391.1L1479.1 386.7L1479.1 378.1ZM1545.9 373.7L1553.3 378.1L1553.3 386.7L1545.9 391.1L1538.4 386.7L1538.4 378.1ZM1560.7 373.7L1568.1 378.1L1568.1 386.7L1560.7 391.1L1553.3 386.7L1553.3 378.1ZM1575.5 373.7L1583.0 378.1L1583.0 386.7L1575.5 391.1L1568.1 386.7L1568.1 378.1ZM1590.4 373.7L1597.8 378.1L1597.8 386.7L1590.4 391.1L1583.0 386.7L1583.0 378.1ZM1605.2 373.7L1612.6 378.1L1612.6 386.7L1605.2 391.1L1597.8 386.7L1597.8 378.1ZM1493.9 386.7L1501.3 391.1L1501.3 399.7L1493.9 404.1L1486.5 399.7L1486.5 391.1ZM1508.8 386.7L1516.2 391.1L1516.2 399.7L1508.8 404.1L1501.3 399.7L1501.3 391.1ZM1523.6 386.7L1531.0 391.1L1531.0 399.7L1523.6 404.1L1516.2 399.7L1516.2 391.1ZM1538.4 386.7L1545.9 391.1L1545.9 399.7L1538.4 404.1L1531.0 399.7L1531.0 391.1ZM1553.3 386.7L1560.7 391.1L1560.7 399.7L1553.3 404.1L1545.9 399.7L1545.9 391.1ZM1568.1 386.7L1575.5 391.1L1575.5 399.7L1568.1 404.1L1560.7 399.7L1560.7 391.1ZM1583.0 386.7L1590.4 391.1L1590.4 399.7L1583.0 404.1L1575.5 399.7L1575.5 391.1ZM1486.5 399.7L1493.9 404.1L1493.9 412.7L1486.5 417.1L1479.1 412.7L1479.1 404.1ZM1516.2 399.7L1523.6 404.1L1523.6 412.7L1516.2 417.1L1508.8 412.7L1508.8 404.1ZM1531.0 399.7L1538.4 404.1L1538.4 412.7L1531.0 417.1L1523.6 412.7L1523.6 404.1ZM1545.9 399.7L1553.3 404.1L1553.3 412.7L1545.9 417.1L1538.4 412.7L1538.4 404.1ZM1560.7 399.7L1568.1 404.1L1568.1 412.7L1560.7 417.1L1553.3 412.7L1553.3 404.1ZM1575.5 399.7L1583.0 404.1L1583.0 412.7L1575.5 417.1L1568.1 412.7L1568.1 404.1ZM1590.4 399.7L1597.8 404.1L1597.8 412.7L1590.4 417.1L1583.0 412.7L1583.0 404.1ZM1508.8 412.7L1516.2 417.1L1516.2 425.7L1508.8 430.1L1501.3 425.7L1501.3 417.1ZM1523.6 412.7L1531.0 417.1L1531.0 425.7L1523.6 430.1L1516.2 425.7L1516.2 417.1ZM1538.4 412.7L1545.9 417.1L1545.9 425.7L1538.4 430.1L1531.0 425.7L1531.0 417.1ZM1553.3 412.7L1560.7 417.1L1560.7 425.7L1553.3 430.1L1545.9 425.7L1545.9 417.1ZM1568.1 412.7L1575.5 417.1L1575.5 425.7L1568.1 430.1L1560.7 425.7L1560.7 417.1ZM1583.0 412.7L1590.4 417.1L1590.4 425.7L1583.0 430.1L1575.5 425.7L1575.5 417.1ZM1486.5 425.7L1493.9 430.1L1493.9 438.7L1486.5 443.1L1479.1 438.7L1479.1 430.1ZM1516.2 425.7L1523.6 430.1L1523.6 438.7L1516.2 443.1L1508.8 438.7L1508.8 430.1ZM1531.0 425.7L1538.4 430.1L1538.4 438.7L1531.0 443.1L1523.6 438.7L1523.6 430.1ZM1545.9 425.7L1553.3 430.1L1553.3 438.7L1545.9 443.1L1538.4 438.7L1538.4 430.1ZM1560.7 425.7L1568.1 430.1L1568.1 438.7L1560.7 443.1L1553.3 438.7L1553.3 430.1ZM1508.8 438.7L1516.2 443.1L1516.2 451.7L1508.8 456.1L1501.3 451.7L1501.3 443.1ZM1523.6 438.7L1531.0 443.1L1531.0 451.7L1523.6 456.1L1516.2 451.7L1516.2 443.1ZM1538.4 438.7L1545.9 443.1L1545.9 451.7L1538.4 456.1L1531.0 451.7L1531.0 443.1ZM1486.5 451.7L1493.9 456.1L1493.9 464.7L1486.5 469.1L1479.1 464.7L1479.1 456.1ZM1516.2 451.7L1523.6 456.1L1523.6 464.7L1516.2 469.1L1508.8 464.7L1508.8 456.1ZM1531.0 451.7L1538.4 456.1L1538.4 464.7L1531.0 469.1L1523.6 464.7L1523.6 456.1ZM1508.8 464.7L1516.2 469.1L1516.2 477.7L1508.8 482.1L1501.3 477.7L1501.3 469.1ZM1523.6 464.7L1531.0 469.1L1531.0 477.7L1523.6 482.1L1516.2 477.7L1516.2 469.1ZM1538.4 464.7L1545.9 469.1L1545.9 477.7L1538.4 482.1L1531.0 477.7L1531.0 469.1ZM1531.0 477.7L1538.4 482.1L1538.4 490.7L1531.0 495.1L1523.6 490.7L1523.6 482.1ZM1531.0 503.7L1538.4 508.1L1538.4 516.7L1531.0 521.1L1523.6 516.7L1523.6 508.1ZM1545.9 503.7L1553.3 508.1L1553.3 516.7L1545.9 521.1L1538.4 516.7L1538.4 508.1Z"/>
<path fill="#FED598" d="M1493.9 126.7L1501.3 131.1L1501.3 139.7L1493.9 144.1L1486.5 139.7L1486.5 131.1ZM1516.2 139.7L1523.6 144.1L1523.6 152.7L1516.2 157.1L1508.8 152.7L1508.8 144.1ZM1560.7 139.7L1568.1 144.1L1568.1 152.7L1560.7 157.1L1553.3 152.7L1553.3 144.1ZM1508.8 152.7L1516.2 157.1L1516.2 165.7L1508.8 170.1L1501.3 165.7L1501.3 157.1ZM1583.0 152.7L1590.4 157.1L1590.4 165.7L1583.0 170.1L1575.5 165.7L1575.5 157.1ZM1501.3 165.7L1508.8 170.1L1508.8 178.7L1501.3 183.1L1493.9 178.7L1493.9 170.1ZM1516.2 165.7L1523.6 170.1L1523.6 178.7L1516.2 183.1L1508.8 178.7L1508.8 170.1ZM1531.0 165.7L1538.4 170.1L1538.4 178.7L1531.0 183.1L1523.6 178.7L1523.6 170.1ZM1590.4 165.7L1597.8 170.1L1597.8 178.7L1590.4 183.1L1583.0 178.7L1583.0 170.1ZM1523.6 178.7L1531.0 183.1L1531.0 191.7L1523.6 196.1L1516.2 191.7L1516.2 183.1ZM1545.9 191.7L1553.3 196.1L1553.3 204.7L1545.9 209.1L1538.4 204.7L1538.4 196.1ZM1560.7 191.7L1568.1 196.1L1568.1 204.7L1560.7 209.1L1553.3 204.7L1553.3 196.1ZM1538.4 204.7L1545.9 209.1L1545.9 217.7L1538.4 222.1L1531.0 217.7L1531.0 209.1ZM1553.3 204.7L1560.7 209.1L1560.7 217.7L1553.3 222.1L1545.9 217.7L1545.9 209.1ZM1597.8 204.7L1605.2 209.1L1605.2 217.7L1597.8 222.1L1590.4 217.7L1590.4 209.1ZM1672.0 204.7L1679.4 209.1L1679.4 217.7L1672.0 222.1L1664.6 217.7L1664.6 209.1ZM1531.0 217.7L1538.4 222.1L1538.4 230.7L1531.0 235.1L1523.6 230.7L1523.6 222.1ZM1545.9 217.7L1553.3 222.1L1553.3 230.7L1545.9 235.1L1538.4 230.7L1538.4 222.1ZM1575.5 217.7L1583.0 222.1L1583.0 230.7L1575.5 235.1L1568.1 230.7L1568.1 222.1ZM1590.4 217.7L1597.8 222.1L1597.8 230.7L1590.4 235.1L1583.0 230.7L1583.0 222.1ZM1605.2 217.7L1612.6 222.1L1612.6 230.7L1605.2 235.1L1597.8 230.7L1597.8 222.1ZM1508.8 230.7L1516.2 235.1L1516.2 243.7L1508.8 248.1L1501.3 243.7L1501.3 235.1ZM1538.4 230.7L1545.9 235.1L1545.9 243.7L1538.4 248.1L1531.0 243.7L1531.0 235.1ZM1583.0 230.7L1590.4 235.1L1590.4 243.7L1583.0 248.1L1575.5 243.7L1575.5 235.1ZM1597.8 230.7L1605.2 235.1L1605.2 243.7L1597.8 248.1L1590.4 243.7L1590.4 235.1ZM1612.6 230.7L1620.1 235.1L1620.1 243.7L1612.6 248.1L1605.2 243.7L1605.2 235.1ZM1642.3 230.7L1649.7 235.1L1649.7 243.7L1642.3 248.1L1634.9 243.7L1634.9 235.1ZM1686.8 230.7L1694.3 235.1L1694.3 243.7L1686.8 248.1L1679.4 243.7L1679.4 235.1ZM1545.9 243.7L1553.3 248.1L1553.3 256.7L1545.9 261.1L1538.4 256.7L1538.4 248.1ZM1560.7 243.7L1568.1 248.1L1568.1 256.7L1560.7 261.1L1553.3 256.7L1553.3 248.1ZM1590.4 243.7L1597.8 248.1L1597.8 256.7L1590.4 261.1L1583.0 256.7L1583.0 248.1ZM1605.2 243.7L1612.6 248.1L1612.6 256.7L1605.2 261.1L1597.8 256.7L1597.8 248.1ZM1634.9 243.7L1642.3 248.1L1642.3 256.7L1634.9 261.1L1627.5 256.7L1627.5 248.1ZM1568.1 256.7L1575.5 261.1L1575.5 269.7L1568.1 274.1L1560.7 269.7L1560.7 261.1ZM1583.0 256.7L1590.4 261.1L1590.4 269.7L1583.0 274.1L1575.5 269.7L1575.5 261.1ZM1597.8 256.7L1605.2 261.1L1605.2 269.7L1597.8 274.1L1590.4 269.7L1590.4 261.1ZM1612.6 256.7L1620.1 261.1L1620.1 269.7L1612.6 274.1L1605.2 269.7L1605.2 261.1ZM1627.5 256.7L1634.9 261.1L1634.9 269.7L1627.5 274.1L1620.1 269.7L1620.1 261.1ZM1427.1 269.7L1434.6 274.1L1434.6 282.7L1427.1 287.1L1419.7 282.7L1419.7 274.1ZM1545.9 269.7L1553.3 274.1L1553.3 282.7L1545.9 287.1L1538.4 282.7L1538.4 274.1ZM1560.7 269.7L1568.1 274.1L1568.1 282.7L1560.7 287.1L1553.3 282.7L1553.3 274.1ZM1605.2 269.7L1612.6 274.1L1612.6 282.7L1605.2 287.1L1597.8 282.7L1597.8 274.1ZM1649.7 269.7L1657.2 274.1L1657.2 282.7L1649.7 287.1L1642.3 282.7L1642.3 274.1ZM1664.6 269.7L1672.0 274.1L1672.0 282.7L1664.6 287.1L1657.2 282.7L1657.2 274.1ZM1679.4 269.7L1686.8 274.1L1686.8 282.7L1679.4 287.1L1672.0 282.7L1672.0 274.1ZM1523.6 282.7L1531.0 287.1L1531.0 295.7L1523.6 300.1L1516.2 295.7L1516.2 287.1ZM1597.8 282.7L1605.2 287.1L1605.2 295.7L1597.8 300.1L1590.4 295.7L1590.4 287.1ZM1516.2 295.7L1523.6 300.1L1523.6 308.7L1516.2 313.1L1508.8 308.7L1508.8 300.1ZM1590.4 295.7L1597.8 300.1L1597.8 308.7L1590.4 313.1L1583.0 308.7L1583.0 300.1ZM1620.1 295.7L1627.5 300.1L1627.5 308.7L1620.1 313.1L1612.6 308.7L1612.6 300.1ZM1456.8 321.7L1464.2 326.1L1464.2 334.7L1456.8 339.1L1449.4 334.7L1449.4 326.1ZM1493.9 334.7L1501.3 339.1L1501.3 347.7L1493.9 352.1L1486.5 347.7L1486.5 339.1ZM1523.6 334.7L1531.0 339.1L1531.0 347.7L1523.6 352.1L1516.2 347.7L1516.2 339.1ZM1583.0 334.7L1590.4 339.1L1590.4 347.7L1583.0 352.1L1575.5 347.7L1575.5 339.1ZM1642.3 334.7L1649.7 339.1L1649.7 347.7L1642.3 352.1L1634.9 347.7L1634.9 339.1ZM1486.5 347.7L1493.9 352.1L1493.9 360.7L1486.5 365.1L1479.1 360.7L1479.1 352.1ZM1516.2 347.7L1523.6 352.1L1523.6 360.7L1516.2 365.1L1508.8 360.7L1508.8 352.1ZM1545.9 347.7L1553.3 352.1L1553.3 360.7L1545.9 365.1L1538.4 360.7L1538.4 352.1ZM1560.7 347.7L1568.1 352.1L1568.1 360.7L1560.7 365.1L1553.3 360.7L1553.3 352.1ZM1575.5 347.7L1583.0 352.1L1583.0 360.7L1575.5 365.1L1568.1 360.7L1568.1 352.1ZM1508.8 360.7L1516.2 365.1L1516.2 373.7L1508.8 378.1L1501.3 373.7L1501.3 365.1ZM1523.6 360.7L1531.0 365.1L1531.0 373.7L1523.6 378.1L1516.2 373.7L1516.2 365.1ZM1538.4 360.7L1545.9 365.1L1545.9 373.7L1538.4 378.1L1531.0 373.7L1531.0 365.1ZM1553.3 360.7L1560.7 365.1L1560.7 373.7L1553.3 378.1L1545.9 373.7L1545.9 365.1ZM1568.1 360.7L1575.5 365.1L1575.5 373.7L1568.1 378.1L1560.7 373.7L1560.7 365.1ZM1367.8 373.7L1375.2 378.1L1375.2 386.7L1367.8 391.1L1360.4 386.7L1360.4 378.1ZM1382.6 373.7L1390.0 378.1L1390.0 386.7L1382.6 391.1L1375.2 386.7L1375.2 378.1ZM1471.7 373.7L1479.1 378.1L1479.1 386.7L1471.7 391.1L1464.2 386.7L1464.2 378.1ZM1501.3 373.7L1508.8 378.1L1508.8 386.7L1501.3 391.1L1493.9 386.7L1493.9 378.1ZM1516.2 373.7L1523.6 378.1L1523.6 386.7L1516.2 391.1L1508.8 386.7L1508.8 378.1ZM1531.0 373.7L1538.4 378.1L1538.4 386.7L1531.0 391.1L1523.6 386.7L1523.6 378.1ZM1375.2 386.7L1382.6 391.1L1382.6 399.7L1375.2 404.1L1367.8 399.7L1367.8 391.1ZM1390.0 386.7L1397.5 391.1L1397.5 399.7L1390.0 404.1L1382.6 399.7L1382.6 391.1ZM1597.8 386.7L1605.2 391.1L1605.2 399.7L1597.8 404.1L1590.4 399.7L1590.4 391.1ZM1456.8 399.7L1464.2 404.1L1464.2 412.7L1456.8 417.1L1449.4 412.7L1449.4 404.1ZM1501.3 399.7L1508.8 404.1L1508.8 412.7L1501.3 417.1L1493.9 412.7L1493.9 404.1ZM1464.2 412.7L1471.7 417.1L1471.7 425.7L1464.2 430.1L1456.8 425.7L1456.8 417.1ZM1493.9 412.7L1501.3 417.1L1501.3 425.7L1493.9 430.1L1486.5 425.7L1486.5 417.1ZM1501.3 425.7L1508.8 430.1L1508.8 438.7L1501.3 443.1L1493.9 438.7L1493.9 430.1ZM1493.9 438.7L1501.3 443.1L1501.3 451.7L1493.9 456.1L1486.5 451.7L1486.5 443.1ZM1553.3 438.7L1560.7 443.1L1560.7 451.7L1553.3 456.1L1545.9 451.7L1545.9 443.1ZM1545.9 451.7L1553.3 456.1L1553.3 464.7L1545.9 469.1L1538.4 464.7L1538.4 456.1ZM1479.1 464.7L1486.5 469.1L1486.5 477.7L1479.1 482.1L1471.7 477.7L1471.7 469.1ZM1493.9 464.7L1501.3 469.1L1501.3 477.7L1493.9 482.1L1486.5 477.7L1486.5 469.1ZM1545.9 477.7L1553.3 482.1L1553.3 490.7L1545.9 495.1L1538.4 490.7L1538.4 482.1ZM1479.1 490.7L1486.5 495.1L1486.5 503.7L1479.1 508.1L1471.7 503.7L1471.7 495.1ZM1493.9 490.7L1501.3 495.1L1501.3 503.7L1493.9 508.1L1486.5 503.7L1486.5 495.1ZM1508.8 490.7L1516.2 495.1L1516.2 503.7L1508.8 508.1L1501.3 503.7L1501.3 495.1ZM1523.6 490.7L1531.0 495.1L1531.0 503.7L1523.6 508.1L1516.2 503.7L1516.2 495.1ZM1538.4 490.7L1545.9 495.1L1545.9 503.7L1538.4 508.1L1531.0 503.7L1531.0 495.1ZM1486.5 503.7L1493.9 508.1L1493.9 516.7L1486.5 521.1L1479.1 516.7L1479.1 508.1ZM1516.2 503.7L1523.6 508.1L1523.6 516.7L1516.2 521.1L1508.8 516.7L1508.8 508.1ZM1508.8 516.7L1516.2 521.1L1516.2 529.7L1508.8 534.1L1501.3 529.7L1501.3 521.1ZM1523.6 516.7L1531.0 521.1L1531.0 529.7L1523.6 534.1L1516.2 529.7L1516.2 521.1ZM1538.4 516.7L1545.9 521.1L1545.9 529.7L1538.4 534.1L1531.0 529.7L1531.0 521.1ZM1553.3 516.7L1560.7 521.1L1560.7 529.7L1553.3 534.1L1545.9 529.7L1545.9 521.1ZM1516.2 529.7L1523.6 534.1L1523.6 542.7L1516.2 547.1L1508.8 542.7L1508.8 534.1ZM1531.0 529.7L1538.4 534.1L1538.4 542.7L1531.0 547.1L1523.6 542.7L1523.6 534.1Z"/>
<path fill="#FEB780" d="M1538.4 126.7L1545.9 131.1L1545.9 139.7L1538.4 144.1L1531.0 139.7L1531.0 131.1ZM1523.6 152.7L1531.0 157.1L1531.0 165.7L1523.6 170.1L1516.2 165.7L1516.2 157.1ZM1471.7 191.7L1479.1 196.1L1479.1 204.7L1471.7 209.1L1464.2 204.7L1464.2 196.1ZM1575.5 191.7L1583.0 196.1L1583.0 204.7L1575.5 209.1L1568.1 204.7L1568.1 196.1ZM1620.1 191.7L1627.5 196.1L1627.5 204.7L1620.1 209.1L1612.6 204.7L1612.6 196.1ZM1634.9 191.7L1642.3 196.1L1642.3 204.7L1634.9 209.1L1627.5 204.7L1627.5 196.1ZM1612.6 204.7L1620.1 209.1L1620.1 217.7L1612.6 222.1L1605.2 217.7L1605.2 209.1ZM1627.5 204.7L1634.9 209.1L1634.9 217.7L1627.5 222.1L1620.1 217.7L1620.1 209.1ZM1657.2 204.7L1664.6 209.1L1664.6 217.7L1657.2 222.1L1649.7 217.7L1649.7 209.1ZM1560.7 217.7L1568.1 222.1L1568.1 230.7L1560.7 235.1L1553.3 230.7L1553.3 222.1ZM1620.1 217.7L1627.5 222.1L1627.5 230.7L1620.1 235.1L1612.6 230.7L1612.6 222.1ZM1553.3 230.7L1560.7 235.1L1560.7 243.7L1553.3 248.1L1545.9 243.7L1545.9 235.1ZM1516.2 243.7L1523.6 248.1L1523.6 256.7L1516.2 261.1L1508.8 256.7L1508.8 248.1ZM1531.0 269.7L1538.4 274.1L1538.4 282.7L1531.0 287.1L1523.6 282.7L1523.6 274.1ZM1575.5 269.7L1583.0 274.1L1583.0 282.7L1575.5 287.1L1568.1 282.7L1568.1 274.1ZM1590.4 269.7L1597.8 274.1L1597.8 282.7L1590.4 287.1L1583.0 282.7L1583.0 274.1ZM1538.4 282.7L1545.9 287.1L1545.9 295.7L1538.4 300.1L1531.0 295.7L1531.0 287.1ZM1583.0 282.7L1590.4 287.1L1590.4 295.7L1583.0 300.1L1575.5 295.7L1575.5 287.1ZM1412.3 295.7L1419.7 300.1L1419.7 308.7L1412.3 313.1L1404.9 308.7L1404.9 300.1ZM1501.3 295.7L1508.8 300.1L1508.8 308.7L1501.3 313.1L1493.9 308.7L1493.9 300.1ZM1531.0 295.7L1538.4 300.1L1538.4 308.7L1531.0 313.1L1523.6 308.7L1523.6 300.1ZM1545.9 295.7L1553.3 300.1L1553.3 308.7L1545.9 313.1L1538.4 308.7L1538.4 300.1ZM1493.9 308.7L1501.3 313.1L1501.3 321.7L1493.9 326.1L1486.5 321.7L1486.5 313.1ZM1508.8 308.7L1516.2 313.1L1516.2 321.7L1508.8 326.1L1501.3 321.7L1501.3 313.1ZM1538.4 308.7L1545.9 313.1L1545.9 321.7L1538.4 326.1L1531.0 321.7L1531.0 313.1ZM1412.3 321.7L1419.7 326.1L1419.7 334.7L1412.3 339.1L1404.9 334.7L1404.9 326.1ZM1486.5 321.7L1493.9 326.1L1493.9 334.7L1486.5 339.1L1479.1 334.7L1479.1 326.1ZM1501.3 321.7L1508.8 326.1L1508.8 334.7L1501.3 339.1L1493.9 334.7L1493.9 326.1ZM1590.4 321.7L1597.8 326.1L1597.8 334.7L1590.4 339.1L1583.0 334.7L1583.0 326.1ZM1449.4 334.7L1456.8 339.1L1456.8 347.7L1449.4 352.1L1442.0 347.7L1442.0 339.1ZM1464.2 334.7L1471.7 339.1L1471.7 347.7L1464.2 352.1L1456.8 347.7L1456.8 339.1ZM1479.1 334.7L1486.5 339.1L1486.5 347.7L1479.1 352.1L1471.7 347.7L1471.7 339.1ZM1508.8 334.7L1516.2 339.1L1516.2 347.7L1508.8 352.1L1501.3 347.7L1501.3 339.1ZM1627.5 334.7L1634.9 339.1L1634.9 347.7L1627.5 352.1L1620.1 347.7L1620.1 339.1ZM1501.3 347.7L1508.8 352.1L1508.8 360.7L1501.3 365.1L1493.9 360.7L1493.9 352.1ZM1531.0 347.7L1538.4 352.1L1538.4 360.7L1531.0 365.1L1523.6 360.7L1523.6 352.1ZM1634.9 347.7L1642.3 352.1L1642.3 360.7L1634.9 365.1L1627.5 360.7L1627.5 352.1ZM1375.2 360.7L1382.6 365.1L1382.6 373.7L1375.2 378.1L1367.8 373.7L1367.8 365.1ZM1390.0 360.7L1397.5 365.1L1397.5 373.7L1390.0 378.1L1382.6 373.7L1382.6 365.1ZM1464.2 360.7L1471.7 365.1L1471.7 373.7L1464.2 378.1L1456.8 373.7L1456.8 365.1ZM1479.1 360.7L1486.5 365.1L1486.5 373.7L1479.1 378.1L1471.7 373.7L1471.7 365.1ZM1442.0 373.7L1449.4 378.1L1449.4 386.7L1442.0 391.1L1434.6 386.7L1434.6 378.1ZM1449.4 386.7L1456.8 391.1L1456.8 399.7L1449.4 404.1L1442.0 399.7L1442.0 391.1ZM1479.1 386.7L1486.5 391.1L1486.5 399.7L1479.1 404.1L1471.7 399.7L1471.7 391.1ZM1382.6 399.7L1390.0 404.1L1390.0 412.7L1382.6 417.1L1375.2 412.7L1375.2 404.1ZM1471.7 399.7L1479.1 404.1L1479.1 412.7L1471.7 417.1L1464.2 412.7L1464.2 404.1ZM1449.4 412.7L1456.8 417.1L1456.8 425.7L1449.4 430.1L1442.0 425.7L1442.0 417.1ZM1479.1 412.7L1486.5 417.1L1486.5 425.7L1479.1 430.1L1471.7 425.7L1471.7 417.1ZM1382.6 477.7L1390.0 482.1L1390.0 490.7L1382.6 495.1L1375.2 490.7L1375.2 482.1ZM1397.5 477.7L1404.9 482.1L1404.9 490.7L1397.5 495.1L1390.0 490.7L1390.0 482.1ZM1442.0 477.7L1449.4 482.1L1449.4 490.7L1442.0 495.1L1434.6 490.7L1434.6 482.1ZM1456.8 477.7L1464.2 482.1L1464.2 490.7L1456.8 495.1L1449.4 490.7L1449.4 482.1ZM1471.7 477.7L1479.1 482.1L1479.1 490.7L1471.7 495.1L1464.2 490.7L1464.2 482.1ZM1501.3 477.7L1508.8 482.1L1508.8 490.7L1501.3 495.1L1493.9 490.7L1493.9 482.1ZM1375.2 490.7L1382.6 495.1L1382.6 503.7L1375.2 508.1L1367.8 503.7L1367.8 495.1ZM1501.3 503.7L1508.8 508.1L1508.8 516.7L1501.3 521.1L1493.9 516.7L1493.9 508.1ZM1545.9 529.7L1553.3 534.1L1553.3 542.7L1545.9 547.1L1538.4 542.7L1538.4 534.1ZM1464.2 542.7L1471.7 547.1L1471.7 555.7L1464.2 560.1L1456.8 555.7L1456.8 547.1Z"/>
<path fill="#FD996B" d="M1545.9 139.7L1553.3 144.1L1553.3 152.7L1545.9 157.1L1538.4 152.7L1538.4 144.1ZM1493.9 152.7L1501.3 157.1L1501.3 165.7L1493.9 170.1L1486.5 165.7L1486.5 157.1ZM1486.5 165.7L1493.9 170.1L1493.9 178.7L1486.5 183.1L1479.1 178.7L1479.1 170.1ZM1597.8 178.7L1605.2 183.1L1605.2 191.7L1597.8 196.1L1590.4 191.7L1590.4 183.1ZM1501.3 191.7L1508.8 196.1L1508.8 204.7L1501.3 209.1L1493.9 204.7L1493.9 196.1ZM1590.4 191.7L1597.8 196.1L1597.8 204.7L1590.4 209.1L1583.0 204.7L1583.0 196.1ZM1605.2 191.7L1612.6 196.1L1612.6 204.7L1605.2 209.1L1597.8 204.7L1597.8 196.1ZM1568.1 204.7L1575.5 209.1L1575.5 217.7L1568.1 222.1L1560.7 217.7L1560.7 209.1ZM1583.0 204.7L1590.4 209.1L1590.4 217.7L1583.0 222.1L1575.5 217.7L1575.5 209.1ZM1642.3 204.7L1649.7 209.1L1649.7 217.7L1642.3 222.1L1634.9 217.7L1634.9 209.1ZM1493.9 230.7L1501.3 235.1L1501.3 243.7L1493.9 248.1L1486.5 243.7L1486.5 235.1ZM1568.1 230.7L1575.5 235.1L1575.5 243.7L1568.1 248.1L1560.7 243.7L1560.7 235.1ZM1627.5 230.7L1634.9 235.1L1634.9 243.7L1627.5 248.1L1620.1 243.7L1620.1 235.1ZM1575.5 243.7L1583.0 248.1L1583.0 256.7L1575.5 261.1L1568.1 256.7L1568.1 248.1ZM1620.1 243.7L1627.5 248.1L1627.5 256.7L1620.1 261.1L1612.6 256.7L1612.6 248.1ZM1442.0 269.7L1449.4 274.1L1449.4 282.7L1442.0 287.1L1434.6 282.7L1434.6 274.1ZM1471.7 269.7L1479.1 274.1L1479.1 282.7L1471.7 287.1L1464.2 282.7L1464.2 274.1ZM1516.2 269.7L1523.6 274.1L1523.6 282.7L1516.2 287.1L1508.8 282.7L1508.8 274.1ZM1464.2 282.7L1471.7 287.1L1471.7 295.7L1464.2 300.1L1456.8 295.7L1456.8 287.1ZM1479.1 282.7L1486.5 287.1L1486.5 295.7L1479.1 300.1L1471.7 295.7L1471.7 287.1ZM1508.8 282.7L1516.2 287.1L1516.2 295.7L1508.8 300.1L1501.3 295.7L1501.3 287.1ZM1553.3 282.7L1560.7 287.1L1560.7 295.7L1553.3 300.1L1545.9 295.7L1545.9 287.1ZM1568.1 282.7L1575.5 287.1L1575.5 295.7L1568.1 300.1L1560.7 295.7L1560.7 287.1ZM1427.1 295.7L1434.6 300.1L1434.6 308.7L1427.1 313.1L1419.7 308.7L1419.7 300.1ZM1419.7 308.7L1427.1 313.1L1427.1 321.7L1419.7 326.1L1412.3 321.7L1412.3 313.1ZM1434.6 308.7L1442.0 313.1L1442.0 321.7L1434.6 326.1L1427.1 321.7L1427.1 313.1ZM1523.6 308.7L1531.0 313.1L1531.0 321.7L1523.6 326.1L1516.2 321.7L1516.2 313.1ZM1553.3 308.7L1560.7 313.1L1560.7 321.7L1553.3 326.1L1545.9 321.7L1545.9 313.1ZM1568.1 308.7L1575.5 313.1L1575.5 321.7L1568.1 326.1L1560.7 321.7L1560.7 313.1ZM1583.0 308.7L1590.4 313.1L1590.4 321.7L1583.0 326.1L1575.5 321.7L1575.5 313.1ZM1442.0 321.7L1449.4 326.1L1449.4 334.7L1442.0 339.1L1434.6 334.7L1434.6 326.1ZM1516.2 321.7L1523.6 326.1L1523.6 334.7L1516.2 339.1L1508.8 334.7L1508.8 326.1ZM1545.9 321.7L1553.3 326.1L1553.3 334.7L1545.9 339.1L1538.4 334.7L1538.4 326.1ZM1382.6 347.7L1390.0 352.1L1390.0 360.7L1382.6 365.1L1375.2 360.7L1375.2 352.1ZM1471.7 347.7L1479.1 352.1L1479.1 360.7L1471.7 365.1L1464.2 360.7L1464.2 352.1ZM1360.4 386.7L1367.8 391.1L1367.8 399.7L1360.4 404.1L1352.9 399.7L1352.9 391.1ZM1464.2 386.7L1471.7 391.1L1471.7 399.7L1464.2 404.1L1456.8 399.7L1456.8 391.1ZM1367.8 399.7L1375.2 404.1L1375.2 412.7L1367.8 417.1L1360.4 412.7L1360.4 404.1ZM1390.0 412.7L1397.5 417.1L1397.5 425.7L1390.0 430.1L1382.6 425.7L1382.6 417.1ZM1442.0 425.7L1449.4 430.1L1449.4 438.7L1442.0 443.1L1434.6 438.7L1434.6 430.1ZM1456.8 425.7L1464.2 430.1L1464.2 438.7L1456.8 443.1L1449.4 438.7L1449.4 430.1ZM1471.7 425.7L1479.1 430.1L1479.1 438.7L1471.7 443.1L1464.2 438.7L1464.2 430.1ZM1434.6 438.7L1442.0 443.1L1442.0 451.7L1434.6 456.1L1427.1 451.7L1427.1 443.1ZM1479.1 438.7L1486.5 443.1L1486.5 451.7L1479.1 456.1L1471.7 451.7L1471.7 443.1ZM1456.8 451.7L1464.2 456.1L1464.2 464.7L1456.8 469.1L1449.4 464.7L1449.4 456.1ZM1471.7 451.7L1479.1 456.1L1479.1 464.7L1471.7 469.1L1464.2 464.7L1464.2 456.1ZM1464.2 464.7L1471.7 469.1L1471.7 477.7L1464.2 482.1L1456.8 477.7L1456.8 469.1ZM1390.0 490.7L1397.5 495.1L1397.5 503.7L1390.0 508.1L1382.6 503.7L1382.6 495.1ZM1404.9 490.7L1412.3 495.1L1412.3 503.7L1404.9 508.1L1397.5 503.7L1397.5 495.1ZM1419.7 490.7L1427.1 495.1L1427.1 503.7L1419.7 508.1L1412.3 503.7L1412.3 495.1ZM1464.2 490.7L1471.7 495.1L1471.7 503.7L1464.2 508.1L1456.8 503.7L1456.8 495.1ZM1442.0 503.7L1449.4 508.1L1449.4 516.7L1442.0 521.1L1434.6 516.7L1434.6 508.1ZM1456.8 503.7L1464.2 508.1L1464.2 516.7L1456.8 521.1L1449.4 516.7L1449.4 508.1ZM1471.7 503.7L1479.1 508.1L1479.1 516.7L1471.7 521.1L1464.2 516.7L1464.2 508.1ZM1434.6 516.7L1442.0 521.1L1442.0 529.7L1434.6 534.1L1427.1 529.7L1427.1 521.1ZM1449.4 516.7L1456.8 521.1L1456.8 529.7L1449.4 534.1L1442.0 529.7L1442.0 521.1ZM1479.1 516.7L1486.5 521.1L1486.5 529.7L1479.1 534.1L1471.7 529.7L1471.7 521.1ZM1493.9 516.7L1501.3 521.1L1501.3 529.7L1493.9 534.1L1486.5 529.7L1486.5 521.1ZM1442.0 529.7L1449.4 534.1L1449.4 542.7L1442.0 547.1L1434.6 542.7L1434.6 534.1ZM1456.8 529.7L1464.2 534.1L1464.2 542.7L1456.8 547.1L1449.4 542.7L1449.4 534.1ZM1449.4 542.7L1456.8 547.1L1456.8 555.7L1449.4 560.1L1442.0 555.7L1442.0 547.1ZM1523.6 542.7L1531.0 547.1L1531.0 555.7L1523.6 560.1L1516.2 555.7L1516.2 547.1ZM1486.5 555.7L1493.9 560.1L1493.9 568.7L1486.5 573.1L1479.1 568.7L1479.1 560.1ZM1390.0 568.7L1397.5 573.1L1397.5 581.7L1390.0 586.1L1382.6 581.7L1382.6 573.1Z"/>
<path fill="#F97C60" d="M1501.3 139.7L1508.8 144.1L1508.8 152.7L1501.3 157.1L1493.9 152.7L1493.9 144.1ZM1531.0 139.7L1538.4 144.1L1538.4 152.7L1531.0 157.1L1523.6 152.7L1523.6 144.1ZM1493.9 178.7L1501.3 183.1L1501.3 191.7L1493.9 196.1L1486.5 191.7L1486.5 183.1ZM1612.6 178.7L1620.1 183.1L1620.1 191.7L1612.6 196.1L1605.2 191.7L1605.2 183.1ZM1471.7 243.7L1479.1 248.1L1479.1 256.7L1471.7 261.1L1464.2 256.7L1464.2 248.1ZM1486.5 243.7L1493.9 248.1L1493.9 256.7L1486.5 261.1L1479.1 256.7L1479.1 248.1ZM1501.3 243.7L1508.8 248.1L1508.8 256.7L1501.3 261.1L1493.9 256.7L1493.9 248.1ZM1493.9 256.7L1501.3 261.1L1501.3 269.7L1493.9 274.1L1486.5 269.7L1486.5 261.1ZM1508.8 256.7L1516.2 261.1L1516.2 269.7L1508.8 274.1L1501.3 269.7L1501.3 261.1ZM1523.6 256.7L1531.0 261.1L1531.0 269.7L1523.6 274.1L1516.2 269.7L1516.2 261.1ZM1486.5 269.7L1493.9 274.1L1493.9 282.7L1486.5 287.1L1479.1 282.7L1479.1 274.1ZM1501.3 269.7L1508.8 274.1L1508.8 282.7L1501.3 287.1L1493.9 282.7L1493.9 274.1ZM1493.9 282.7L1501.3 287.1L1501.3 295.7L1493.9 300.1L1486.5 295.7L1486.5 287.1ZM1456.8 295.7L1464.2 300.1L1464.2 308.7L1456.8 313.1L1449.4 308.7L1449.4 300.1ZM1471.7 295.7L1479.1 300.1L1479.1 308.7L1471.7 313.1L1464.2 308.7L1464.2 300.1ZM1560.7 295.7L1568.1 300.1L1568.1 308.7L1560.7 313.1L1553.3 308.7L1553.3 300.1ZM1404.9 308.7L1412.3 313.1L1412.3 321.7L1404.9 326.1L1397.5 321.7L1397.5 313.1ZM1464.2 308.7L1471.7 313.1L1471.7 321.7L1464.2 326.1L1456.8 321.7L1456.8 313.1ZM1427.1 321.7L1434.6 326.1L1434.6 334.7L1427.1 339.1L1419.7 334.7L1419.7 326.1ZM1471.7 321.7L1479.1 326.1L1479.1 334.7L1471.7 339.1L1464.2 334.7L1464.2 326.1ZM1531.0 321.7L1538.4 326.1L1538.4 334.7L1531.0 339.1L1523.6 334.7L1523.6 326.1ZM1419.7 334.7L1427.1 339.1L1427.1 347.7L1419.7 352.1L1412.3 347.7L1412.3 339.1ZM1434.6 334.7L1442.0 339.1L1442.0 347.7L1434.6 352.1L1427.1 347.7L1427.1 339.1ZM1456.8 347.7L1464.2 352.1L1464.2 360.7L1456.8 365.1L1449.4 360.7L1449.4 352.1ZM1449.4 360.7L1456.8 365.1L1456.8 373.7L1449.4 378.1L1442.0 373.7L1442.0 365.1ZM1434.6 412.7L1442.0 417.1L1442.0 425.7L1434.6 430.1L1427.1 425.7L1427.1 417.1ZM1427.1 425.7L1434.6 430.1L1434.6 438.7L1427.1 443.1L1419.7 438.7L1419.7 430.1ZM1449.4 438.7L1456.8 443.1L1456.8 451.7L1449.4 456.1L1442.0 451.7L1442.0 443.1ZM1427.1 451.7L1434.6 456.1L1434.6 464.7L1427.1 469.1L1419.7 464.7L1419.7 456.1ZM1442.0 451.7L1449.4 456.1L1449.4 464.7L1442.0 469.1L1434.6 464.7L1434.6 456.1ZM1434.6 464.7L1442.0 469.1L1442.0 477.7L1434.6 482.1L1427.1 477.7L1427.1 469.1ZM1449.4 464.7L1456.8 469.1L1456.8 477.7L1449.4 482.1L1442.0 477.7L1442.0 469.1ZM1412.3 477.7L1419.7 482.1L1419.7 490.7L1412.3 495.1L1404.9 490.7L1404.9 482.1ZM1434.6 490.7L1442.0 495.1L1442.0 503.7L1434.6 508.1L1427.1 503.7L1427.1 495.1ZM1449.4 490.7L1456.8 495.1L1456.8 503.7L1449.4 508.1L1442.0 503.7L1442.0 495.1ZM1427.1 503.7L1434.6 508.1L1434.6 516.7L1427.1 521.1L1419.7 516.7L1419.7 508.1ZM1419.7 516.7L1427.1 521.1L1427.1 529.7L1419.7 534.1L1412.3 529.7L1412.3 521.1ZM1471.7 529.7L1479.1 534.1L1479.1 542.7L1471.7 547.1L1464.2 542.7L1464.2 534.1ZM1486.5 529.7L1493.9 534.1L1493.9 542.7L1486.5 547.1L1479.1 542.7L1479.1 534.1ZM1501.3 529.7L1508.8 534.1L1508.8 542.7L1501.3 547.1L1493.9 542.7L1493.9 534.1ZM1493.9 542.7L1501.3 547.1L1501.3 555.7L1493.9 560.1L1486.5 555.7L1486.5 547.1ZM1508.8 542.7L1516.2 547.1L1516.2 555.7L1508.8 560.1L1501.3 555.7L1501.3 547.1ZM1501.3 555.7L1508.8 560.1L1508.8 568.7L1501.3 573.1L1493.9 568.7L1493.9 560.1Z"/>
<path fill="#EE6160" d="M1479.1 178.7L1486.5 183.1L1486.5 191.7L1479.1 196.1L1471.7 191.7L1471.7 183.1ZM1501.3 217.7L1508.8 222.1L1508.8 230.7L1501.3 235.1L1493.9 230.7L1493.9 222.1ZM1449.4 282.7L1456.8 287.1L1456.8 295.7L1449.4 300.1L1442.0 295.7L1442.0 287.1ZM1442.0 295.7L1449.4 300.1L1449.4 308.7L1442.0 313.1L1434.6 308.7L1434.6 300.1ZM1486.5 295.7L1493.9 300.1L1493.9 308.7L1486.5 313.1L1479.1 308.7L1479.1 300.1ZM1479.1 308.7L1486.5 313.1L1486.5 321.7L1479.1 326.1L1471.7 321.7L1471.7 313.1ZM1464.2 438.7L1471.7 443.1L1471.7 451.7L1464.2 456.1L1456.8 451.7L1456.8 443.1Z"/>
<path fill="#DE4968" d="M1486.5 191.7L1493.9 196.1L1493.9 204.7L1486.5 209.1L1479.1 204.7L1479.1 196.1ZM1493.9 204.7L1501.3 209.1L1501.3 217.7L1493.9 222.1L1486.5 217.7L1486.5 209.1ZM1479.1 230.7L1486.5 235.1L1486.5 243.7L1479.1 248.1L1471.7 243.7L1471.7 235.1ZM1464.2 256.7L1471.7 261.1L1471.7 269.7L1464.2 274.1L1456.8 269.7L1456.8 261.1ZM1456.8 269.7L1464.2 274.1L1464.2 282.7L1456.8 287.1L1449.4 282.7L1449.4 274.1ZM1434.6 282.7L1442.0 287.1L1442.0 295.7L1434.6 300.1L1427.1 295.7L1427.1 287.1ZM1449.4 308.7L1456.8 313.1L1456.8 321.7L1449.4 326.1L1442.0 321.7L1442.0 313.1ZM1427.1 347.7L1434.6 352.1L1434.6 360.7L1427.1 365.1L1419.7 360.7L1419.7 352.1ZM1419.7 412.7L1427.1 417.1L1427.1 425.7L1419.7 430.1L1412.3 425.7L1412.3 417.1ZM1404.9 464.7L1412.3 469.1L1412.3 477.7L1404.9 482.1L1397.5 477.7L1397.5 469.1ZM1397.5 503.7L1404.9 508.1L1404.9 516.7L1397.5 521.1L1390.0 516.7L1390.0 508.1ZM1464.2 516.7L1471.7 521.1L1471.7 529.7L1464.2 534.1L1456.8 529.7L1456.8 521.1ZM1397.5 529.7L1404.9 534.1L1404.9 542.7L1397.5 547.1L1390.0 542.7L1390.0 534.1ZM1479.1 542.7L1486.5 547.1L1486.5 555.7L1479.1 560.1L1471.7 555.7L1471.7 547.1Z"/>
<path fill="#C13C75" d="M1479.1 204.7L1486.5 209.1L1486.5 217.7L1479.1 222.1L1471.7 217.7L1471.7 209.1ZM1479.1 256.7L1486.5 261.1L1486.5 269.7L1479.1 274.1L1471.7 269.7L1471.7 261.1ZM1427.1 373.7L1434.6 378.1L1434.6 386.7L1427.1 391.1L1419.7 386.7L1419.7 378.1ZM1427.1 399.7L1434.6 404.1L1434.6 412.7L1427.1 417.1L1419.7 412.7L1419.7 404.1ZM1419.7 438.7L1427.1 443.1L1427.1 451.7L1419.7 456.1L1412.3 451.7L1412.3 443.1ZM1412.3 503.7L1419.7 508.1L1419.7 516.7L1412.3 521.1L1404.9 516.7L1404.9 508.1ZM1404.9 516.7L1412.3 521.1L1412.3 529.7L1404.9 534.1L1397.5 529.7L1397.5 521.1Z"/>
<path fill="#A2307D" d="M1471.7 165.7L1479.1 170.1L1479.1 178.7L1471.7 183.1L1464.2 178.7L1464.2 170.1ZM1486.5 217.7L1493.9 222.1L1493.9 230.7L1486.5 235.1L1479.1 230.7L1479.1 222.1ZM1397.5 347.7L1404.9 352.1L1404.9 360.7L1397.5 365.1L1390.0 360.7L1390.0 352.1ZM1412.3 347.7L1419.7 352.1L1419.7 360.7L1412.3 365.1L1404.9 360.7L1404.9 352.1ZM1442.0 347.7L1449.4 352.1L1449.4 360.7L1442.0 365.1L1434.6 360.7L1434.6 352.1ZM1434.6 360.7L1442.0 365.1L1442.0 373.7L1434.6 378.1L1427.1 373.7L1427.1 365.1ZM1427.1 477.7L1434.6 482.1L1434.6 490.7L1427.1 495.1L1419.7 490.7L1419.7 482.1Z"/>
<path fill="#822581" d="M1419.7 386.7L1427.1 391.1L1427.1 399.7L1419.7 404.1L1412.3 399.7L1412.3 391.1ZM1397.5 399.7L1404.9 404.1L1404.9 412.7L1397.5 417.1L1390.0 412.7L1390.0 404.1ZM1442.0 399.7L1449.4 404.1L1449.4 412.7L1442.0 417.1L1434.6 412.7L1434.6 404.1ZM1419.7 464.7L1427.1 469.1L1427.1 477.7L1419.7 482.1L1412.3 477.7L1412.3 469.1Z"/>
<path fill="#641A80" d="M1404.9 334.7L1412.3 339.1L1412.3 347.7L1404.9 352.1L1397.5 347.7L1397.5 339.1ZM1404.9 360.7L1412.3 365.1L1412.3 373.7L1404.9 378.1L1397.5 373.7L1397.5 365.1ZM1434.6 386.7L1442.0 391.1L1442.0 399.7L1434.6 404.1L1427.1 399.7L1427.1 391.1ZM1404.9 568.7L1412.3 573.1L1412.3 581.7L1404.9 586.1L1397.5 581.7L1397.5 573.1Z"/>
<path fill="#451274" d="M1404.9 386.7L1412.3 391.1L1412.3 399.7L1404.9 404.1L1397.5 399.7L1397.5 391.1ZM1412.3 399.7L1419.7 404.1L1419.7 412.7L1412.3 417.1L1404.9 412.7L1404.9 404.1ZM1382.6 529.7L1390.0 534.1L1390.0 542.7L1382.6 547.1L1375.2 542.7L1375.2 534.1ZM1390.0 542.7L1397.5 547.1L1397.5 555.7L1390.0 560.1L1382.6 555.7L1382.6 547.1ZM1397.5 555.7L1404.9 560.1L1404.9 568.7L1397.5 573.1L1390.0 568.7L1390.0 560.1Z"/>
<path fill="#280E53" d="M1419.7 360.7L1427.1 365.1L1427.1 373.7L1419.7 378.1L1412.3 373.7L1412.3 365.1ZM1375.2 542.7L1382.6 547.1L1382.6 555.7L1375.2 560.1L1367.8 555.7L1367.8 547.1Z"/>
<path fill="#0F0B2A" d="M1397.5 373.7L1404.9 378.1L1404.9 386.7L1397.5 391.1L1390.0 386.7L1390.0 378.1ZM1412.3 373.7L1419.7 378.1L1419.7 386.7L1412.3 391.1L1404.9 386.7L1404.9 378.1Z"/></g>
<!-- north arrow -->
<circle cx="1673.9" cy="512.8" r="31.5" fill="none" stroke="#000" stroke-width="1.5"/>
<polygon points="1673.1,471.6 1647.9,545 1673.1,525.1" fill="#fff" stroke="#000" stroke-width="1.3" stroke-linejoin="miter"/>
<polygon points="1673.1,471.6 1699.8,545 1673.1,525.1" fill="#000" stroke="#000" stroke-width="1.3"/>
<text x="1673.3" y="462.6" font-size="18.5" text-anchor="middle" fill="#000">N</text>
<!-- scale bar -->
<text x="1547.3" y="597.7" font-size="38" fill="#111" textLength="128" lengthAdjust="spacingAndGlyphs">300 km</text>
<rect x="1686.7" y="577.3" width="83" height="16.7" fill="#000"/>
<rect x="1715.4" y="579.2" width="25" height="12.2" fill="#fff"/>
</svg>
</body></html>
